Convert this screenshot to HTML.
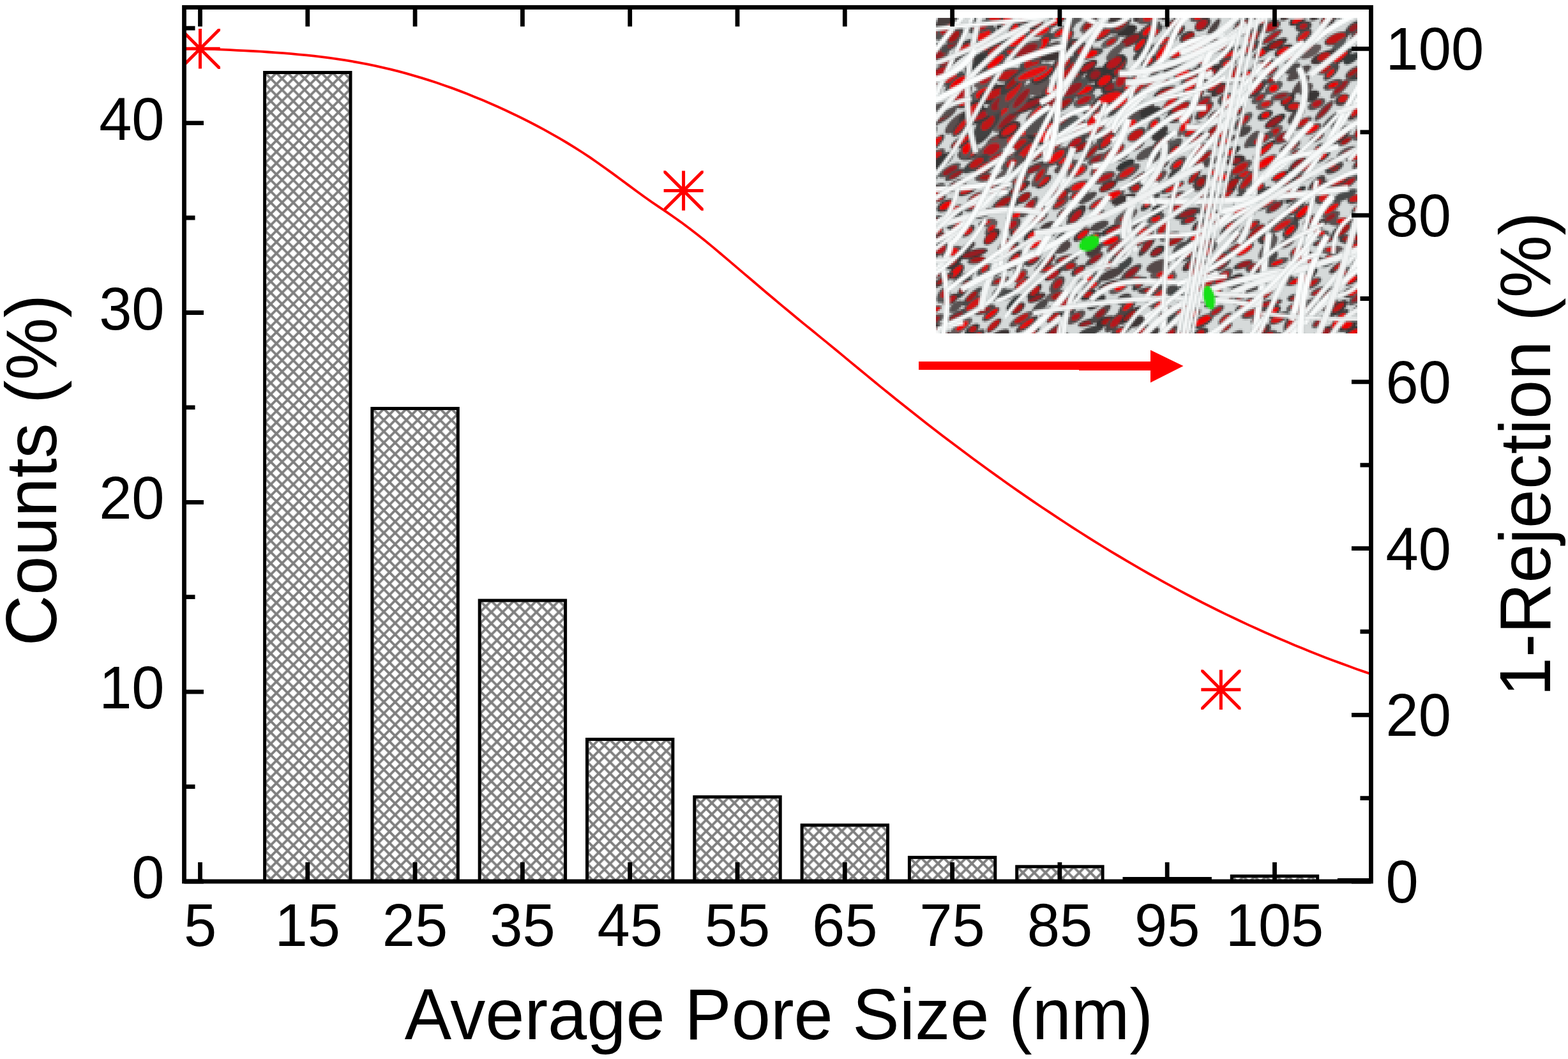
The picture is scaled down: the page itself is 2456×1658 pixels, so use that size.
<!DOCTYPE html>
<html><head><meta charset="utf-8"><title>Pore size distribution</title>
<style>html,body{margin:0;padding:0;background:#fff;overflow:hidden}svg{display:block}</style>
</head><body>
<svg width="2456" height="1658" viewBox="0 0 2456 1658">
<defs><pattern id="h15" patternUnits="userSpaceOnUse" x="415.27" y="114.17" width="17.65" height="17.65"><path d="M-8.825,8.825 L8.825,-8.825 M0,17.65 L17.65,0 M8.825,26.474999999999998 L26.474999999999998,8.825 M-8.825,8.825 L8.825,26.474999999999998 M0,0 L17.65,17.65 M8.825,-8.825 L26.474999999999998,8.825" stroke="#808080" stroke-width="3.9" fill="none"/></pattern><pattern id="h25" patternUnits="userSpaceOnUse" x="583.57" y="640.17" width="17.65" height="17.65"><path d="M-8.825,8.825 L8.825,-8.825 M0,17.65 L17.65,0 M8.825,26.474999999999998 L26.474999999999998,8.825 M-8.825,8.825 L8.825,26.474999999999998 M0,0 L17.65,17.65 M8.825,-8.825 L26.474999999999998,8.825" stroke="#808080" stroke-width="3.9" fill="none"/></pattern><pattern id="h35" patternUnits="userSpaceOnUse" x="751.87" y="940.77" width="17.65" height="17.65"><path d="M-8.825,8.825 L8.825,-8.825 M0,17.65 L17.65,0 M8.825,26.474999999999998 L26.474999999999998,8.825 M-8.825,8.825 L8.825,26.474999999999998 M0,0 L17.65,17.65 M8.825,-8.825 L26.474999999999998,8.825" stroke="#808080" stroke-width="3.9" fill="none"/></pattern><pattern id="h45" patternUnits="userSpaceOnUse" x="920.17" y="1158.17" width="17.65" height="17.65"><path d="M-8.825,8.825 L8.825,-8.825 M0,17.65 L17.65,0 M8.825,26.474999999999998 L26.474999999999998,8.825 M-8.825,8.825 L8.825,26.474999999999998 M0,0 L17.65,17.65 M8.825,-8.825 L26.474999999999998,8.825" stroke="#808080" stroke-width="3.9" fill="none"/></pattern><pattern id="h55" patternUnits="userSpaceOnUse" x="1088.47" y="1248.38" width="17.65" height="17.65"><path d="M-8.825,8.825 L8.825,-8.825 M0,17.65 L17.65,0 M8.825,26.474999999999998 L26.474999999999998,8.825 M-8.825,8.825 L8.825,26.474999999999998 M0,0 L17.65,17.65 M8.825,-8.825 L26.474999999999998,8.825" stroke="#808080" stroke-width="3.9" fill="none"/></pattern><pattern id="h65" patternUnits="userSpaceOnUse" x="1256.77" y="1292.58" width="17.65" height="17.65"><path d="M-8.825,8.825 L8.825,-8.825 M0,17.65 L17.65,0 M8.825,26.474999999999998 L26.474999999999998,8.825 M-8.825,8.825 L8.825,26.474999999999998 M0,0 L17.65,17.65 M8.825,-8.825 L26.474999999999998,8.825" stroke="#808080" stroke-width="3.9" fill="none"/></pattern><pattern id="h75" patternUnits="userSpaceOnUse" x="1425.07" y="1343.08" width="17.65" height="17.65"><path d="M-8.825,8.825 L8.825,-8.825 M0,17.65 L17.65,0 M8.825,26.474999999999998 L26.474999999999998,8.825 M-8.825,8.825 L8.825,26.474999999999998 M0,0 L17.65,17.65 M8.825,-8.825 L26.474999999999998,8.825" stroke="#808080" stroke-width="3.9" fill="none"/></pattern><pattern id="h85" patternUnits="userSpaceOnUse" x="1593.37" y="1357.47" width="17.65" height="17.65"><path d="M-8.825,8.825 L8.825,-8.825 M0,17.65 L17.65,0 M8.825,26.474999999999998 L26.474999999999998,8.825 M-8.825,8.825 L8.825,26.474999999999998 M0,0 L17.65,17.65 M8.825,-8.825 L26.474999999999998,8.825" stroke="#808080" stroke-width="3.9" fill="none"/></pattern><pattern id="h95" patternUnits="userSpaceOnUse" x="1761.67" y="1376.17" width="17.65" height="17.65"><path d="M-8.825,8.825 L8.825,-8.825 M0,17.65 L17.65,0 M8.825,26.474999999999998 L26.474999999999998,8.825 M-8.825,8.825 L8.825,26.474999999999998 M0,0 L17.65,17.65 M8.825,-8.825 L26.474999999999998,8.825" stroke="#808080" stroke-width="3.9" fill="none"/></pattern><pattern id="h105" patternUnits="userSpaceOnUse" x="1929.97" y="1372.38" width="17.65" height="17.65"><path d="M-8.825,8.825 L8.825,-8.825 M0,17.65 L17.65,0 M8.825,26.474999999999998 L26.474999999999998,8.825 M-8.825,8.825 L8.825,26.474999999999998 M0,0 L17.65,17.65 M8.825,-8.825 L26.474999999999998,8.825" stroke="#808080" stroke-width="3.9" fill="none"/></pattern></defs>
<rect width="2456" height="1658" fill="#fff"/>
<rect x="414.60" y="113.50" width="134.40" height="1266.50" fill="url(#h15)" stroke="#000" stroke-width="5.0"/>
<rect x="582.90" y="639.50" width="134.40" height="740.50" fill="url(#h25)" stroke="#000" stroke-width="5.0"/>
<rect x="751.20" y="940.10" width="134.40" height="439.90" fill="url(#h35)" stroke="#000" stroke-width="5.0"/>
<rect x="919.50" y="1157.50" width="134.40" height="222.50" fill="url(#h45)" stroke="#000" stroke-width="5.0"/>
<rect x="1087.80" y="1247.70" width="134.40" height="132.30" fill="url(#h55)" stroke="#000" stroke-width="5.0"/>
<rect x="1256.10" y="1291.90" width="134.40" height="88.10" fill="url(#h65)" stroke="#000" stroke-width="5.0"/>
<rect x="1424.40" y="1342.40" width="134.40" height="37.60" fill="url(#h75)" stroke="#000" stroke-width="5.0"/>
<rect x="1592.70" y="1356.80" width="134.40" height="23.20" fill="url(#h85)" stroke="#000" stroke-width="5.0"/>
<rect x="1761.00" y="1375.50" width="134.40" height="4.50" fill="url(#h95)" stroke="#000" stroke-width="5.0"/>
<rect x="1929.30" y="1371.70" width="134.40" height="8.30" fill="url(#h105)" stroke="#000" stroke-width="5.0"/>
<clipPath id="ic"><rect x="1466" y="28" width="660" height="494"/></clipPath>
<filter id="ib" filterUnits="userSpaceOnUse" x="1460" y="22" width="672" height="506"><feGaussianBlur in="SourceGraphic" stdDeviation="1.1" result="b"/><feFlood x="1467" y="29" width="1" height="1" flood-color="#000" result="dot"/><feComposite in="dot" in2="dot" operator="over" x="1466" y="28" width="3" height="3" result="cell"/><feTile in="cell" x="1460" y="22" width="672" height="506" result="grid"/><feComposite in="b" in2="grid" operator="in" result="samp"/><feMorphology in="samp" operator="dilate" radius="1"/></filter>
<defs><g id="insetArt">
<rect x="1466" y="28" width="660" height="494" fill="#d6dada"/>
<ellipse cx="2153.2" cy="521.4" rx="17.4" ry="8.7" transform="rotate(-23 2153.2 521.4)" fill="rgb(85,82,82)"/>
<ellipse cx="2152.2" cy="521.7" rx="9.4" ry="5.2" transform="rotate(-23 2153.2 521.4)" fill="#d41212"/>
<ellipse cx="1947.1" cy="414.4" rx="16.6" ry="5.8" transform="rotate(-22 1947.1 414.4)" fill="rgb(62,66,66)"/>
<ellipse cx="1948.7" cy="414.5" rx="11.2" ry="4.2" transform="rotate(-22 1947.1 414.4)" fill="#9a1a20"/>
<ellipse cx="1552.5" cy="356.6" rx="14.4" ry="5.8" transform="rotate(-51 1552.5 356.6)" fill="rgb(95,84,84)"/>
<ellipse cx="1552.3" cy="357.4" rx="6.8" ry="3.7" transform="rotate(-51 1552.5 356.6)" fill="#e80a0a"/>
<ellipse cx="1445.3" cy="275.2" rx="14.2" ry="8.6" transform="rotate(-34 1445.3 275.2)" fill="rgb(77,66,66)"/>
<ellipse cx="1443.7" cy="274.5" rx="9.3" ry="5.6" transform="rotate(-34 1445.3 275.2)" fill="#c01414"/>
<ellipse cx="1910.0" cy="346.1" rx="17.9" ry="6.7" transform="rotate(-30 1910.0 346.1)" fill="rgb(90,84,84)"/>
<ellipse cx="1910.3" cy="345.7" rx="9.8" ry="3.3" transform="rotate(-30 1910.0 346.1)" fill="#d41212"/>
<ellipse cx="1883.4" cy="302.0" rx="18.6" ry="6.0" transform="rotate(-50 1883.4 302.0)" fill="rgb(71,63,63)"/>
<ellipse cx="1884.9" cy="302.3" rx="12.6" ry="4.2" transform="rotate(-50 1883.4 302.0)" fill="#a81818"/>
<ellipse cx="1749.0" cy="385.4" rx="18.2" ry="7.5" transform="rotate(-31 1749.0 385.4)" fill="rgb(92,88,88)"/>
<ellipse cx="1749.9" cy="384.5" rx="13.7" ry="4.6" transform="rotate(-31 1749.0 385.4)" fill="#9a1a20"/>
<ellipse cx="2028.1" cy="440.3" rx="15.3" ry="5.5" transform="rotate(-20 2028.1 440.3)" fill="rgb(49,51,51)"/>
<ellipse cx="2029.5" cy="440.9" rx="11.1" ry="3.1" transform="rotate(-20 2028.1 440.3)" fill="#f00000"/>
<ellipse cx="1651.9" cy="517.6" rx="19.3" ry="6.8" transform="rotate(-34 1651.9 517.6)" fill="rgb(74,65,65)"/>
<ellipse cx="1653.6" cy="518.4" rx="13.1" ry="4.3" transform="rotate(-34 1651.9 517.6)" fill="#9a1a20"/>
<ellipse cx="1966.5" cy="418.9" rx="16.6" ry="8.4" transform="rotate(-12 1966.5 418.9)" fill="rgb(79,73,73)"/>
<ellipse cx="1965.4" cy="418.2" rx="10.1" ry="5.6" transform="rotate(-12 1966.5 418.9)" fill="#9a1a20"/>
<ellipse cx="1876.1" cy="77.7" rx="16.7" ry="6.5" transform="rotate(-37 1876.1 77.7)" fill="rgb(79,67,67)"/>
<ellipse cx="1875.4" cy="78.4" rx="8.7" ry="4.2" transform="rotate(-37 1876.1 77.7)" fill="#f00000"/>
<ellipse cx="1876.4" cy="26.4" rx="13.8" ry="7.2" transform="rotate(-19 1876.4 26.4)" fill="rgb(84,77,77)"/>
<ellipse cx="1876.4" cy="26.7" rx="6.4" ry="4.3" transform="rotate(-19 1876.4 26.4)" fill="#e80a0a"/>
<ellipse cx="1883.3" cy="503.0" rx="19.5" ry="8.4" transform="rotate(-29 1883.3 503.0)" fill="rgb(59,55,55)"/>
<ellipse cx="1884.5" cy="502.3" rx="14.7" ry="4.9" transform="rotate(-29 1883.3 503.0)" fill="#f00000"/>
<ellipse cx="2045.5" cy="139.4" rx="13.1" ry="7.4" transform="rotate(-38 2045.5 139.4)" fill="rgb(84,78,78)"/>
<ellipse cx="1878.5" cy="370.8" rx="22.0" ry="7.1" transform="rotate(-22 1878.5 370.8)" fill="rgb(65,69,69)"/>
<ellipse cx="1876.9" cy="369.9" rx="12.4" ry="4.2" transform="rotate(-22 1878.5 370.8)" fill="#f00000"/>
<ellipse cx="1498.9" cy="493.5" rx="23.0" ry="5.6" transform="rotate(-29 1498.9 493.5)" fill="rgb(69,71,71)"/>
<ellipse cx="1497.3" cy="494.0" rx="12.4" ry="2.7" transform="rotate(-29 1498.9 493.5)" fill="#9a1a20"/>
<ellipse cx="1522.4" cy="464.0" rx="21.3" ry="5.7" transform="rotate(-43 1522.4 464.0)" fill="rgb(71,74,74)"/>
<ellipse cx="1521.8" cy="463.9" rx="11.2" ry="4.1" transform="rotate(-43 1522.4 464.0)" fill="#a81818"/>
<ellipse cx="2122.9" cy="244.4" rx="17.1" ry="7.2" transform="rotate(-19 2122.9 244.4)" fill="rgb(82,72,72)"/>
<ellipse cx="2121.7" cy="245.2" rx="10.3" ry="4.4" transform="rotate(-19 2122.9 244.4)" fill="#d41212"/>
<ellipse cx="1715.0" cy="117.4" rx="18.7" ry="10.2" transform="rotate(-30 1715.0 117.4)" fill="rgb(65,56,56)"/>
<ellipse cx="1715.7" cy="117.3" rx="8.4" ry="5.9" transform="rotate(-30 1715.0 117.4)" fill="#9a1a20"/>
<ellipse cx="1572.9" cy="462.0" rx="21.3" ry="8.6" transform="rotate(-14 1572.9 462.0)" fill="rgb(71,72,72)"/>
<ellipse cx="1928.3" cy="164.8" rx="18.2" ry="8.4" transform="rotate(-17 1928.3 164.8)" fill="rgb(82,73,73)"/>
<ellipse cx="1927.8" cy="164.7" rx="8.4" ry="4.0" transform="rotate(-17 1928.3 164.8)" fill="#f00000"/>
<ellipse cx="2041.0" cy="332.0" rx="22.3" ry="7.1" transform="rotate(-43 2041.0 332.0)" fill="rgb(69,58,58)"/>
<ellipse cx="2041.1" cy="331.3" rx="12.5" ry="4.4" transform="rotate(-43 2041.0 332.0)" fill="#f00000"/>
<ellipse cx="1983.9" cy="373.3" rx="14.6" ry="8.8" transform="rotate(-20 1983.9 373.3)" fill="rgb(62,62,62)"/>
<ellipse cx="1984.7" cy="373.1" rx="7.1" ry="4.3" transform="rotate(-20 1983.9 373.3)" fill="#b8161c"/>
<ellipse cx="1619.0" cy="263.9" rx="22.8" ry="6.5" transform="rotate(-28 1619.0 263.9)" fill="rgb(74,68,68)"/>
<ellipse cx="1619.4" cy="264.8" rx="12.1" ry="3.6" transform="rotate(-28 1619.0 263.9)" fill="#9a1a20"/>
<ellipse cx="1529.8" cy="99.1" rx="25.5" ry="10.2" transform="rotate(-42 1529.8 99.1)" fill="rgb(54,55,55)"/>
<ellipse cx="2054.1" cy="491.9" rx="18.4" ry="5.9" transform="rotate(-34 2054.1 491.9)" fill="rgb(84,74,74)"/>
<ellipse cx="2056.1" cy="492.1" rx="10.8" ry="4.0" transform="rotate(-34 2054.1 491.9)" fill="#9a1a20"/>
<ellipse cx="1934.6" cy="114.7" rx="21.4" ry="6.3" transform="rotate(-59 1934.6 114.7)" fill="rgb(82,71,71)"/>
<ellipse cx="1936.2" cy="114.1" rx="14.2" ry="3.5" transform="rotate(-59 1934.6 114.7)" fill="#c01414"/>
<ellipse cx="2105.9" cy="306.2" rx="21.5" ry="6.8" transform="rotate(-25 2105.9 306.2)" fill="rgb(71,74,74)"/>
<ellipse cx="1919.7" cy="498.7" rx="14.2" ry="6.0" transform="rotate(-39 1919.7 498.7)" fill="rgb(76,79,79)"/>
<ellipse cx="1918.7" cy="499.3" rx="10.4" ry="4.1" transform="rotate(-39 1919.7 498.7)" fill="#c01414"/>
<ellipse cx="1947.3" cy="550.3" rx="14.1" ry="7.5" transform="rotate(-45 1947.3 550.3)" fill="rgb(69,62,62)"/>
<ellipse cx="1946.7" cy="549.8" rx="10.7" ry="4.3" transform="rotate(-45 1947.3 550.3)" fill="#b8161c"/>
<ellipse cx="1794.1" cy="171.2" rx="15.9" ry="8.9" transform="rotate(-35 1794.1 171.2)" fill="rgb(68,57,57)"/>
<ellipse cx="1580.8" cy="117.5" rx="23.1" ry="10.6" transform="rotate(-13 1580.8 117.5)" fill="rgb(80,70,70)"/>
<ellipse cx="1580.6" cy="117.3" rx="17.9" ry="6.7" transform="rotate(-13 1580.8 117.5)" fill="#c01414"/>
<ellipse cx="2118.8" cy="456.8" rx="17.4" ry="8.8" transform="rotate(-18 2118.8 456.8)" fill="rgb(72,64,64)"/>
<ellipse cx="2119.5" cy="457.8" rx="9.8" ry="4.7" transform="rotate(-18 2118.8 456.8)" fill="#e80a0a"/>
<ellipse cx="1903.9" cy="180.8" rx="15.4" ry="7.2" transform="rotate(-37 1903.9 180.8)" fill="rgb(56,57,57)"/>
<ellipse cx="1903.8" cy="180.2" rx="8.6" ry="4.3" transform="rotate(-37 1903.9 180.8)" fill="#a81818"/>
<ellipse cx="2024.8" cy="107.4" rx="14.1" ry="6.6" transform="rotate(-32 2024.8 107.4)" fill="rgb(79,75,75)"/>
<ellipse cx="2093.5" cy="60.4" rx="20.6" ry="8.9" transform="rotate(-23 2093.5 60.4)" fill="rgb(74,65,65)"/>
<ellipse cx="2092.6" cy="59.7" rx="16.0" ry="6.3" transform="rotate(-23 2093.5 60.4)" fill="#c01414"/>
<ellipse cx="2146.9" cy="129.3" rx="20.2" ry="8.7" transform="rotate(-49 2146.9 129.3)" fill="rgb(84,78,78)"/>
<ellipse cx="2145.5" cy="129.4" rx="13.9" ry="5.5" transform="rotate(-49 2146.9 129.3)" fill="#b8161c"/>
<ellipse cx="2087.7" cy="187.0" rx="20.6" ry="6.5" transform="rotate(-40 2087.7 187.0)" fill="rgb(86,85,85)"/>
<ellipse cx="1696.9" cy="142.1" rx="20.8" ry="9.9" transform="rotate(-16 1696.9 142.1)" fill="rgb(67,70,70)"/>
<ellipse cx="1695.2" cy="141.1" rx="16.1" ry="5.5" transform="rotate(-16 1696.9 142.1)" fill="#f00000"/>
<ellipse cx="1897.7" cy="114.3" rx="20.5" ry="6.6" transform="rotate(-44 1897.7 114.3)" fill="rgb(62,50,50)"/>
<ellipse cx="1895.9" cy="114.2" rx="11.1" ry="4.1" transform="rotate(-44 1897.7 114.3)" fill="#b8161c"/>
<ellipse cx="1671.2" cy="194.7" rx="21.8" ry="10.8" transform="rotate(-30 1671.2 194.7)" fill="rgb(80,84,84)"/>
<ellipse cx="1780.2" cy="292.6" rx="13.5" ry="8.6" transform="rotate(-20 1780.2 292.6)" fill="rgb(75,74,74)"/>
<ellipse cx="1778.3" cy="292.9" rx="6.4" ry="5.4" transform="rotate(-20 1780.2 292.6)" fill="#c01414"/>
<ellipse cx="1826.1" cy="65.0" rx="18.5" ry="6.6" transform="rotate(-21 1826.1 65.0)" fill="rgb(63,66,66)"/>
<ellipse cx="1826.7" cy="64.1" rx="14.0" ry="3.8" transform="rotate(-21 1826.1 65.0)" fill="#d41212"/>
<ellipse cx="1664.3" cy="373.5" rx="17.7" ry="8.7" transform="rotate(-38 1664.3 373.5)" fill="rgb(55,56,56)"/>
<ellipse cx="2020.6" cy="298.5" rx="19.6" ry="6.6" transform="rotate(-50 2020.6 298.5)" fill="rgb(54,53,53)"/>
<ellipse cx="2019.0" cy="297.8" rx="9.9" ry="3.0" transform="rotate(-50 2020.6 298.5)" fill="#a81818"/>
<ellipse cx="1740.8" cy="429.1" rx="22.3" ry="7.5" transform="rotate(-25 1740.8 429.1)" fill="rgb(76,67,67)"/>
<ellipse cx="1883.7" cy="38.4" rx="14.6" ry="8.9" transform="rotate(-35 1883.7 38.4)" fill="rgb(68,58,58)"/>
<ellipse cx="1882.3" cy="37.4" rx="10.2" ry="5.8" transform="rotate(-35 1883.7 38.4)" fill="#b8161c"/>
<ellipse cx="1719.0" cy="249.0" rx="17.3" ry="7.7" transform="rotate(-26 1719.0 249.0)" fill="rgb(87,81,81)"/>
<ellipse cx="1719.5" cy="248.6" rx="11.9" ry="4.1" transform="rotate(-26 1719.0 249.0)" fill="#9a1a20"/>
<ellipse cx="1687.6" cy="267.8" rx="18.3" ry="9.0" transform="rotate(-28 1687.6 267.8)" fill="rgb(93,81,81)"/>
<ellipse cx="1687.9" cy="268.2" rx="12.4" ry="5.5" transform="rotate(-28 1687.6 267.8)" fill="#e80a0a"/>
<ellipse cx="1474.1" cy="14.5" rx="18.9" ry="7.7" transform="rotate(-47 1474.1 14.5)" fill="rgb(57,60,60)"/>
<ellipse cx="1473.7" cy="14.8" rx="14.5" ry="4.9" transform="rotate(-47 1474.1 14.5)" fill="#f00000"/>
<ellipse cx="1515.9" cy="361.7" rx="13.6" ry="6.7" transform="rotate(-39 1515.9 361.7)" fill="rgb(73,66,66)"/>
<ellipse cx="1516.1" cy="362.3" rx="7.9" ry="3.9" transform="rotate(-39 1515.9 361.7)" fill="#d41212"/>
<ellipse cx="1582.8" cy="269.6" rx="25.3" ry="10.3" transform="rotate(-32 1582.8 269.6)" fill="rgb(95,87,87)"/>
<ellipse cx="1461.6" cy="78.1" rx="20.5" ry="7.4" transform="rotate(-31 1461.6 78.1)" fill="rgb(68,67,67)"/>
<ellipse cx="1890.7" cy="254.9" rx="20.5" ry="6.6" transform="rotate(-22 1890.7 254.9)" fill="rgb(75,68,68)"/>
<ellipse cx="1560.3" cy="221.0" rx="17.6" ry="9.1" transform="rotate(-28 1560.3 221.0)" fill="rgb(93,81,81)"/>
<ellipse cx="1558.5" cy="221.1" rx="10.4" ry="4.7" transform="rotate(-28 1560.3 221.0)" fill="#b8161c"/>
<ellipse cx="1921.4" cy="303.3" rx="20.2" ry="6.0" transform="rotate(-41 1921.4 303.3)" fill="rgb(59,55,55)"/>
<ellipse cx="1920.1" cy="304.0" rx="12.5" ry="4.0" transform="rotate(-41 1921.4 303.3)" fill="#c01414"/>
<ellipse cx="1664.8" cy="48.3" rx="22.9" ry="7.4" transform="rotate(-31 1664.8 48.3)" fill="rgb(81,83,83)"/>
<ellipse cx="1664.0" cy="48.6" rx="14.6" ry="3.7" transform="rotate(-31 1664.8 48.3)" fill="#f00000"/>
<ellipse cx="1548.8" cy="-0.1" rx="15.8" ry="7.7" transform="rotate(-36 1548.8 -0.1)" fill="rgb(74,77,77)"/>
<ellipse cx="1548.4" cy="0.8" rx="10.2" ry="5.3" transform="rotate(-36 1548.8 -0.1)" fill="#c01414"/>
<ellipse cx="1512.3" cy="76.3" rx="24.0" ry="11.2" transform="rotate(-34 1512.3 76.3)" fill="rgb(59,56,56)"/>
<ellipse cx="1511.4" cy="75.5" rx="11.6" ry="5.1" transform="rotate(-34 1512.3 76.3)" fill="#d41212"/>
<ellipse cx="1914.9" cy="210.9" rx="14.6" ry="7.4" transform="rotate(-31 1914.9 210.9)" fill="rgb(89,81,81)"/>
<ellipse cx="1915.7" cy="210.0" rx="9.2" ry="3.5" transform="rotate(-31 1914.9 210.9)" fill="#d41212"/>
<ellipse cx="2022.5" cy="519.0" rx="14.4" ry="8.2" transform="rotate(-24 2022.5 519.0)" fill="rgb(52,51,51)"/>
<ellipse cx="2021.2" cy="519.6" rx="6.5" ry="4.3" transform="rotate(-24 2022.5 519.0)" fill="#f00000"/>
<ellipse cx="1628.7" cy="480.5" rx="17.5" ry="7.0" transform="rotate(-43 1628.7 480.5)" fill="rgb(75,70,70)"/>
<ellipse cx="1996.6" cy="323.9" rx="16.7" ry="6.3" transform="rotate(-33 1996.6 323.9)" fill="rgb(76,69,69)"/>
<ellipse cx="1997.4" cy="324.0" rx="10.0" ry="4.4" transform="rotate(-33 1996.6 323.9)" fill="#9a1a20"/>
<ellipse cx="1914.3" cy="277.1" rx="21.4" ry="7.8" transform="rotate(-17 1914.3 277.1)" fill="rgb(79,79,79)"/>
<ellipse cx="1913.3" cy="277.3" rx="9.7" ry="4.7" transform="rotate(-17 1914.3 277.1)" fill="#f00000"/>
<ellipse cx="1882.7" cy="434.3" rx="22.7" ry="6.9" transform="rotate(-34 1882.7 434.3)" fill="rgb(86,74,74)"/>
<ellipse cx="1882.0" cy="433.4" rx="14.6" ry="4.2" transform="rotate(-34 1882.7 434.3)" fill="#d41212"/>
<ellipse cx="1685.6" cy="224.5" rx="22.8" ry="8.6" transform="rotate(-43 1685.6 224.5)" fill="rgb(71,68,68)"/>
<ellipse cx="1684.3" cy="223.6" rx="11.9" ry="5.4" transform="rotate(-43 1685.6 224.5)" fill="#b8161c"/>
<ellipse cx="1462.9" cy="365.7" rx="17.0" ry="7.1" transform="rotate(-32 1462.9 365.7)" fill="rgb(69,69,69)"/>
<ellipse cx="1464.8" cy="365.8" rx="12.9" ry="3.5" transform="rotate(-32 1462.9 365.7)" fill="#f00000"/>
<ellipse cx="1836.5" cy="293.5" rx="20.8" ry="5.9" transform="rotate(-25 1836.5 293.5)" fill="rgb(64,63,63)"/>
<ellipse cx="1838.4" cy="294.4" rx="14.7" ry="2.9" transform="rotate(-25 1836.5 293.5)" fill="#e80a0a"/>
<ellipse cx="1820.8" cy="428.9" rx="19.9" ry="8.9" transform="rotate(-11 1820.8 428.9)" fill="rgb(95,83,83)"/>
<ellipse cx="1822.2" cy="429.8" rx="11.0" ry="5.0" transform="rotate(-11 1820.8 428.9)" fill="#d41212"/>
<ellipse cx="2055.8" cy="202.2" rx="16.0" ry="7.1" transform="rotate(-29 2055.8 202.2)" fill="rgb(93,85,85)"/>
<ellipse cx="2054.5" cy="201.7" rx="12.2" ry="4.5" transform="rotate(-29 2055.8 202.2)" fill="#f00000"/>
<ellipse cx="1517.2" cy="239.7" rx="18.1" ry="11.0" transform="rotate(-17 1517.2 239.7)" fill="rgb(75,67,67)"/>
<ellipse cx="1517.3" cy="240.1" rx="9.8" ry="5.6" transform="rotate(-17 1517.2 239.7)" fill="#e80a0a"/>
<ellipse cx="1948.1" cy="273.0" rx="13.8" ry="7.4" transform="rotate(-9 1948.1 273.0)" fill="rgb(76,74,74)"/>
<ellipse cx="1949.0" cy="272.4" rx="8.7" ry="5.0" transform="rotate(-9 1948.1 273.0)" fill="#d41212"/>
<ellipse cx="1692.9" cy="230.5" rx="21.8" ry="6.6" transform="rotate(-25 1692.9 230.5)" fill="rgb(54,58,58)"/>
<ellipse cx="1694.5" cy="230.4" rx="17.1" ry="3.9" transform="rotate(-25 1692.9 230.5)" fill="#a81818"/>
<ellipse cx="1594.1" cy="361.8" rx="14.5" ry="8.3" transform="rotate(-28 1594.1 361.8)" fill="rgb(62,50,50)"/>
<ellipse cx="1594.9" cy="362.7" rx="10.0" ry="5.1" transform="rotate(-28 1594.1 361.8)" fill="#e80a0a"/>
<ellipse cx="1623.2" cy="176.4" rx="23.2" ry="7.9" transform="rotate(-45 1623.2 176.4)" fill="rgb(88,82,82)"/>
<ellipse cx="1624.9" cy="176.6" rx="18.3" ry="4.1" transform="rotate(-45 1623.2 176.4)" fill="#e80a0a"/>
<ellipse cx="1902.2" cy="542.8" rx="17.9" ry="6.8" transform="rotate(-35 1902.2 542.8)" fill="rgb(62,60,60)"/>
<ellipse cx="1901.3" cy="543.6" rx="8.8" ry="3.3" transform="rotate(-35 1902.2 542.8)" fill="#9a1a20"/>
<ellipse cx="1515.0" cy="159.2" rx="19.1" ry="8.2" transform="rotate(-25 1515.0 159.2)" fill="rgb(58,62,62)"/>
<ellipse cx="1513.8" cy="158.3" rx="14.9" ry="4.0" transform="rotate(-25 1515.0 159.2)" fill="#e80a0a"/>
<ellipse cx="1829.3" cy="4.0" rx="19.5" ry="6.9" transform="rotate(-11 1829.3 4.0)" fill="rgb(69,61,61)"/>
<ellipse cx="1827.5" cy="3.4" rx="15.2" ry="4.8" transform="rotate(-11 1829.3 4.0)" fill="#a81818"/>
<ellipse cx="1615.2" cy="368.6" rx="15.0" ry="7.7" transform="rotate(-41 1615.2 368.6)" fill="rgb(55,55,55)"/>
<ellipse cx="1616.4" cy="369.4" rx="8.3" ry="4.1" transform="rotate(-41 1615.2 368.6)" fill="#e80a0a"/>
<ellipse cx="1928.7" cy="288.8" rx="17.2" ry="7.4" transform="rotate(-42 1928.7 288.8)" fill="rgb(53,57,57)"/>
<ellipse cx="1928.4" cy="289.4" rx="13.5" ry="4.9" transform="rotate(-42 1928.7 288.8)" fill="#a81818"/>
<ellipse cx="1713.2" cy="339.9" rx="20.1" ry="5.5" transform="rotate(-30 1713.2 339.9)" fill="rgb(69,61,61)"/>
<ellipse cx="1714.1" cy="339.4" rx="12.5" ry="3.0" transform="rotate(-30 1713.2 339.9)" fill="#c01414"/>
<ellipse cx="1463.5" cy="87.3" rx="24.1" ry="9.8" transform="rotate(-16 1463.5 87.3)" fill="rgb(94,82,82)"/>
<ellipse cx="1461.8" cy="87.8" rx="18.8" ry="6.7" transform="rotate(-16 1463.5 87.3)" fill="#9a1a20"/>
<ellipse cx="1582.2" cy="390.6" rx="17.8" ry="5.6" transform="rotate(-37 1582.2 390.6)" fill="rgb(55,53,53)"/>
<ellipse cx="1582.5" cy="391.1" rx="10.7" ry="4.0" transform="rotate(-37 1582.2 390.6)" fill="#a81818"/>
<ellipse cx="1469.5" cy="310.2" rx="13.7" ry="6.7" transform="rotate(-19 1469.5 310.2)" fill="rgb(79,70,70)"/>
<ellipse cx="1470.2" cy="311.0" rx="7.4" ry="3.6" transform="rotate(-19 1469.5 310.2)" fill="#b8161c"/>
<ellipse cx="1498.1" cy="355.7" rx="19.0" ry="8.9" transform="rotate(-57 1498.1 355.7)" fill="rgb(80,77,77)"/>
<ellipse cx="1498.9" cy="356.3" rx="14.4" ry="5.5" transform="rotate(-57 1498.1 355.7)" fill="#f00000"/>
<ellipse cx="2000.5" cy="345.9" rx="15.8" ry="5.5" transform="rotate(-19 2000.5 345.9)" fill="rgb(65,59,59)"/>
<ellipse cx="1999.6" cy="344.9" rx="8.1" ry="3.8" transform="rotate(-19 2000.5 345.9)" fill="#a81818"/>
<ellipse cx="1678.7" cy="139.8" rx="30.3" ry="10.8" transform="rotate(-32 1678.7 139.8)" fill="rgb(78,82,82)"/>
<ellipse cx="1679.3" cy="140.5" rx="17.9" ry="6.6" transform="rotate(-32 1678.7 139.8)" fill="#9a1a20"/>
<ellipse cx="1736.3" cy="0.2" rx="20.9" ry="7.4" transform="rotate(-44 1736.3 0.2)" fill="rgb(84,84,84)"/>
<ellipse cx="1736.2" cy="0.4" rx="10.5" ry="4.4" transform="rotate(-44 1736.3 0.2)" fill="#b8161c"/>
<ellipse cx="1832.1" cy="370.3" rx="16.9" ry="6.1" transform="rotate(-20 1832.1 370.3)" fill="rgb(76,72,72)"/>
<ellipse cx="1832.9" cy="369.9" rx="8.0" ry="4.0" transform="rotate(-20 1832.1 370.3)" fill="#d41212"/>
<ellipse cx="1882.4" cy="6.5" rx="22.2" ry="8.0" transform="rotate(-27 1882.4 6.5)" fill="rgb(49,50,50)"/>
<ellipse cx="1881.9" cy="6.6" rx="11.2" ry="5.0" transform="rotate(-27 1882.4 6.5)" fill="#c01414"/>
<ellipse cx="1445.7" cy="533.0" rx="20.1" ry="6.5" transform="rotate(-40 1445.7 533.0)" fill="rgb(92,82,82)"/>
<ellipse cx="1568.0" cy="178.9" rx="26.2" ry="11.9" transform="rotate(-40 1568.0 178.9)" fill="rgb(52,54,54)"/>
<ellipse cx="1566.3" cy="179.4" rx="16.3" ry="6.5" transform="rotate(-40 1568.0 178.9)" fill="#d41212"/>
<ellipse cx="1503.4" cy="149.2" rx="24.1" ry="11.9" transform="rotate(-44 1503.4 149.2)" fill="rgb(89,80,80)"/>
<ellipse cx="1504.0" cy="148.2" rx="11.3" ry="7.9" transform="rotate(-44 1503.4 149.2)" fill="#b8161c"/>
<ellipse cx="1608.3" cy="507.3" rx="21.5" ry="6.0" transform="rotate(-36 1608.3 507.3)" fill="rgb(69,61,61)"/>
<ellipse cx="1608.4" cy="506.9" rx="13.2" ry="3.4" transform="rotate(-36 1608.3 507.3)" fill="#e80a0a"/>
<ellipse cx="1936.3" cy="26.5" rx="13.5" ry="8.3" transform="rotate(-67 1936.3 26.5)" fill="rgb(93,90,90)"/>
<ellipse cx="1934.7" cy="25.8" rx="6.8" ry="4.1" transform="rotate(-67 1936.3 26.5)" fill="#a81818"/>
<ellipse cx="1713.2" cy="391.9" rx="14.3" ry="8.7" transform="rotate(-35 1713.2 391.9)" fill="rgb(70,59,59)"/>
<ellipse cx="1593.4" cy="335.4" rx="20.2" ry="5.7" transform="rotate(-24 1593.4 335.4)" fill="rgb(84,82,82)"/>
<ellipse cx="1593.8" cy="336.4" rx="9.6" ry="3.6" transform="rotate(-24 1593.4 335.4)" fill="#f00000"/>
<ellipse cx="2084.2" cy="340.7" rx="17.0" ry="7.3" transform="rotate(-32 2084.2 340.7)" fill="rgb(88,80,80)"/>
<ellipse cx="2084.5" cy="340.2" rx="8.8" ry="3.7" transform="rotate(-32 2084.2 340.7)" fill="#9a1a20"/>
<ellipse cx="1459.6" cy="349.1" rx="21.1" ry="8.5" transform="rotate(-25 1459.6 349.1)" fill="rgb(51,54,54)"/>
<ellipse cx="1459.9" cy="348.9" rx="12.7" ry="4.9" transform="rotate(-25 1459.6 349.1)" fill="#9a1a20"/>
<ellipse cx="1756.2" cy="517.3" rx="16.8" ry="6.5" transform="rotate(-20 1756.2 517.3)" fill="rgb(70,72,72)"/>
<ellipse cx="1754.9" cy="517.1" rx="7.8" ry="3.2" transform="rotate(-20 1756.2 517.3)" fill="#d41212"/>
<ellipse cx="2095.5" cy="72.5" rx="19.1" ry="5.6" transform="rotate(-46 2095.5 72.5)" fill="rgb(85,86,86)"/>
<ellipse cx="1756.1" cy="396.4" rx="16.5" ry="7.8" transform="rotate(-25 1756.1 396.4)" fill="rgb(66,64,64)"/>
<ellipse cx="1756.3" cy="395.5" rx="10.6" ry="4.7" transform="rotate(-25 1756.1 396.4)" fill="#9a1a20"/>
<ellipse cx="1455.3" cy="10.1" rx="14.3" ry="7.9" transform="rotate(-34 1455.3 10.1)" fill="rgb(71,68,68)"/>
<ellipse cx="1460.6" cy="503.3" rx="21.1" ry="7.8" transform="rotate(-30 1460.6 503.3)" fill="rgb(84,79,79)"/>
<ellipse cx="1459.7" cy="502.6" rx="14.3" ry="5.0" transform="rotate(-30 1460.6 503.3)" fill="#9a1a20"/>
<ellipse cx="1522.8" cy="515.8" rx="13.7" ry="6.5" transform="rotate(-34 1522.8 515.8)" fill="rgb(51,55,55)"/>
<ellipse cx="1524.2" cy="516.0" rx="6.3" ry="4.3" transform="rotate(-34 1522.8 515.8)" fill="#c01414"/>
<ellipse cx="1703.6" cy="309.7" rx="16.7" ry="6.0" transform="rotate(-30 1703.6 309.7)" fill="rgb(76,70,70)"/>
<ellipse cx="1984.7" cy="525.2" rx="17.0" ry="7.2" transform="rotate(-21 1984.7 525.2)" fill="rgb(86,85,85)"/>
<ellipse cx="1983.3" cy="525.2" rx="11.7" ry="5.0" transform="rotate(-21 1984.7 525.2)" fill="#b8161c"/>
<ellipse cx="1617.4" cy="244.2" rx="23.0" ry="9.6" transform="rotate(-25 1617.4 244.2)" fill="rgb(82,78,78)"/>
<ellipse cx="1618.1" cy="244.7" rx="17.0" ry="5.3" transform="rotate(-25 1617.4 244.2)" fill="#c01414"/>
<ellipse cx="1709.5" cy="517.5" rx="20.3" ry="6.3" transform="rotate(-17 1709.5 517.5)" fill="rgb(64,65,65)"/>
<ellipse cx="1762.8" cy="258.4" rx="16.3" ry="6.7" transform="rotate(-28 1762.8 258.4)" fill="rgb(49,53,53)"/>
<ellipse cx="2028.2" cy="325.0" rx="20.5" ry="8.6" transform="rotate(-39 2028.2 325.0)" fill="rgb(69,66,66)"/>
<ellipse cx="2026.4" cy="325.3" rx="10.3" ry="4.2" transform="rotate(-39 2028.2 325.0)" fill="#f00000"/>
<ellipse cx="2028.8" cy="241.1" rx="13.5" ry="5.7" transform="rotate(-35 2028.8 241.1)" fill="rgb(57,57,57)"/>
<ellipse cx="2029.3" cy="240.8" rx="6.7" ry="3.3" transform="rotate(-35 2028.8 241.1)" fill="#a81818"/>
<ellipse cx="2129.7" cy="254.5" rx="14.8" ry="5.8" transform="rotate(-41 2129.7 254.5)" fill="rgb(83,72,72)"/>
<ellipse cx="2130.1" cy="254.6" rx="8.2" ry="3.3" transform="rotate(-41 2129.7 254.5)" fill="#a81818"/>
<ellipse cx="1615.1" cy="99.1" rx="21.6" ry="11.7" transform="rotate(-33 1615.1 99.1)" fill="rgb(73,76,76)"/>
<ellipse cx="1616.1" cy="99.0" rx="12.9" ry="8.2" transform="rotate(-33 1615.1 99.1)" fill="#c01414"/>
<ellipse cx="2074.7" cy="376.7" rx="20.2" ry="5.8" transform="rotate(-21 2074.7 376.7)" fill="rgb(68,69,69)"/>
<ellipse cx="2074.1" cy="377.4" rx="14.3" ry="3.0" transform="rotate(-21 2074.7 376.7)" fill="#9a1a20"/>
<ellipse cx="1456.9" cy="278.8" rx="14.8" ry="8.5" transform="rotate(-37 1456.9 278.8)" fill="rgb(58,62,62)"/>
<ellipse cx="1529.8" cy="407.5" rx="15.1" ry="6.0" transform="rotate(-12 1529.8 407.5)" fill="rgb(82,81,81)"/>
<ellipse cx="1531.6" cy="406.8" rx="11.7" ry="3.8" transform="rotate(-12 1529.8 407.5)" fill="#a81818"/>
<ellipse cx="1529.7" cy="526.7" rx="16.5" ry="6.8" transform="rotate(-41 1529.7 526.7)" fill="rgb(77,73,73)"/>
<ellipse cx="1528.2" cy="526.9" rx="10.2" ry="3.4" transform="rotate(-41 1529.7 526.7)" fill="#f00000"/>
<ellipse cx="2100.0" cy="137.9" rx="22.6" ry="6.5" transform="rotate(-45 2100.0 137.9)" fill="rgb(97,87,87)"/>
<ellipse cx="2101.0" cy="137.0" rx="14.6" ry="4.4" transform="rotate(-45 2100.0 137.9)" fill="#9a1a20"/>
<ellipse cx="1788.2" cy="21.4" rx="17.5" ry="7.2" transform="rotate(-46 1788.2 21.4)" fill="rgb(63,57,57)"/>
<ellipse cx="1789.5" cy="21.7" rx="9.2" ry="5.2" transform="rotate(-46 1788.2 21.4)" fill="#e80a0a"/>
<ellipse cx="1752.3" cy="245.1" rx="16.7" ry="7.9" transform="rotate(-17 1752.3 245.1)" fill="rgb(86,85,85)"/>
<ellipse cx="1710.2" cy="47.1" rx="16.5" ry="6.0" transform="rotate(-28 1710.2 47.1)" fill="rgb(80,71,71)"/>
<ellipse cx="1709.5" cy="47.6" rx="12.3" ry="2.8" transform="rotate(-28 1710.2 47.1)" fill="#9a1a20"/>
<ellipse cx="2033.5" cy="547.9" rx="22.9" ry="5.7" transform="rotate(-33 2033.5 547.9)" fill="rgb(77,67,67)"/>
<ellipse cx="2033.3" cy="547.4" rx="15.0" ry="3.4" transform="rotate(-33 2033.5 547.9)" fill="#c01414"/>
<ellipse cx="1773.3" cy="357.2" rx="20.6" ry="6.9" transform="rotate(-28 1773.3 357.2)" fill="rgb(80,72,72)"/>
<ellipse cx="1791.3" cy="371.7" rx="21.7" ry="8.2" transform="rotate(-41 1791.3 371.7)" fill="rgb(88,87,87)"/>
<ellipse cx="1790.1" cy="371.7" rx="16.9" ry="4.9" transform="rotate(-41 1791.3 371.7)" fill="#c01414"/>
<ellipse cx="1711.3" cy="235.9" rx="22.3" ry="6.4" transform="rotate(-46 1711.3 235.9)" fill="rgb(86,83,83)"/>
<ellipse cx="1710.2" cy="236.5" rx="13.0" ry="3.1" transform="rotate(-46 1711.3 235.9)" fill="#a81818"/>
<ellipse cx="1933.4" cy="389.8" rx="21.1" ry="6.1" transform="rotate(-34 1933.4 389.8)" fill="rgb(100,88,88)"/>
<ellipse cx="1934.5" cy="389.5" rx="15.0" ry="2.8" transform="rotate(-34 1933.4 389.8)" fill="#a81818"/>
<ellipse cx="1935.9" cy="251.1" rx="15.6" ry="8.0" transform="rotate(-15 1935.9 251.1)" fill="rgb(62,50,50)"/>
<ellipse cx="1935.5" cy="251.4" rx="7.6" ry="4.0" transform="rotate(-15 1935.9 251.1)" fill="#9a1a20"/>
<ellipse cx="1835.3" cy="496.6" rx="21.7" ry="6.1" transform="rotate(-43 1835.3 496.6)" fill="rgb(67,71,71)"/>
<ellipse cx="1942.6" cy="464.7" rx="16.3" ry="7.4" transform="rotate(-52 1942.6 464.7)" fill="rgb(87,84,84)"/>
<ellipse cx="1942.7" cy="465.5" rx="12.5" ry="3.3" transform="rotate(-52 1942.6 464.7)" fill="#9a1a20"/>
<ellipse cx="1971.9" cy="494.7" rx="16.7" ry="6.2" transform="rotate(-44 1971.9 494.7)" fill="rgb(67,59,59)"/>
<ellipse cx="1971.1" cy="494.8" rx="12.1" ry="3.3" transform="rotate(-44 1971.9 494.7)" fill="#d41212"/>
<ellipse cx="2083.7" cy="459.7" rx="20.2" ry="8.2" transform="rotate(-31 2083.7 459.7)" fill="rgb(92,89,89)"/>
<ellipse cx="2084.5" cy="460.5" rx="14.8" ry="5.3" transform="rotate(-31 2083.7 459.7)" fill="#a81818"/>
<ellipse cx="1844.8" cy="48.6" rx="13.3" ry="7.3" transform="rotate(-37 1844.8 48.6)" fill="rgb(50,53,53)"/>
<ellipse cx="1844.7" cy="47.7" rx="9.7" ry="4.6" transform="rotate(-37 1844.8 48.6)" fill="#a81818"/>
<ellipse cx="1953.9" cy="283.6" rx="22.6" ry="7.8" transform="rotate(-50 1953.9 283.6)" fill="rgb(81,77,77)"/>
<ellipse cx="1954.1" cy="283.2" rx="15.7" ry="4.3" transform="rotate(-50 1953.9 283.6)" fill="#c01414"/>
<ellipse cx="2040.0" cy="193.3" rx="17.7" ry="7.0" transform="rotate(-32 2040.0 193.3)" fill="rgb(92,85,85)"/>
<ellipse cx="2041.8" cy="192.4" rx="9.9" ry="4.3" transform="rotate(-32 2040.0 193.3)" fill="#c01414"/>
<ellipse cx="1491.9" cy="332.1" rx="18.1" ry="6.3" transform="rotate(-38 1491.9 332.1)" fill="rgb(80,82,82)"/>
<ellipse cx="1493.8" cy="331.9" rx="13.1" ry="4.1" transform="rotate(-38 1491.9 332.1)" fill="#f00000"/>
<ellipse cx="1588.7" cy="473.5" rx="17.3" ry="6.1" transform="rotate(-46 1588.7 473.5)" fill="rgb(50,54,54)"/>
<ellipse cx="1515.0" cy="230.5" rx="20.2" ry="10.5" transform="rotate(-71 1515.0 230.5)" fill="rgb(90,85,85)"/>
<ellipse cx="1513.0" cy="229.8" rx="9.8" ry="5.8" transform="rotate(-71 1515.0 230.5)" fill="#f00000"/>
<ellipse cx="1628.7" cy="134.8" rx="19.2" ry="11.2" transform="rotate(-40 1628.7 134.8)" fill="rgb(94,87,87)"/>
<ellipse cx="2035.2" cy="403.8" rx="22.5" ry="5.8" transform="rotate(-25 2035.2 403.8)" fill="rgb(76,65,65)"/>
<ellipse cx="2034.9" cy="403.8" rx="15.5" ry="3.0" transform="rotate(-25 2035.2 403.8)" fill="#c01414"/>
<ellipse cx="2010.2" cy="214.8" rx="17.8" ry="8.5" transform="rotate(-30 2010.2 214.8)" fill="rgb(87,81,81)"/>
<ellipse cx="2010.6" cy="214.5" rx="12.5" ry="5.6" transform="rotate(-30 2010.2 214.8)" fill="#9a1a20"/>
<ellipse cx="1820.6" cy="81.1" rx="21.4" ry="8.0" transform="rotate(-52 1820.6 81.1)" fill="rgb(82,76,76)"/>
<ellipse cx="1820.7" cy="81.7" rx="16.9" ry="5.5" transform="rotate(-52 1820.6 81.1)" fill="#f00000"/>
<ellipse cx="2037.4" cy="133.1" rx="19.7" ry="6.5" transform="rotate(-48 2037.4 133.1)" fill="rgb(82,72,72)"/>
<ellipse cx="2098.0" cy="4.0" rx="16.1" ry="7.3" transform="rotate(-37 2098.0 4.0)" fill="rgb(74,72,72)"/>
<ellipse cx="1731.9" cy="502.9" rx="16.5" ry="7.4" transform="rotate(-21 1731.9 502.9)" fill="rgb(57,53,53)"/>
<ellipse cx="1733.4" cy="503.7" rx="8.6" ry="4.4" transform="rotate(-21 1731.9 502.9)" fill="#a81818"/>
<ellipse cx="1847.3" cy="170.8" rx="21.2" ry="8.5" transform="rotate(-30 1847.3 170.8)" fill="rgb(63,53,53)"/>
<ellipse cx="1849.2" cy="170.2" rx="14.9" ry="5.1" transform="rotate(-30 1847.3 170.8)" fill="#c01414"/>
<ellipse cx="2068.0" cy="298.7" rx="20.7" ry="8.7" transform="rotate(-51 2068.0 298.7)" fill="rgb(79,67,67)"/>
<ellipse cx="2067.0" cy="298.4" rx="9.5" ry="5.1" transform="rotate(-51 2068.0 298.7)" fill="#f00000"/>
<ellipse cx="2052.2" cy="0.0" rx="22.0" ry="6.4" transform="rotate(-39 2052.2 0.0)" fill="rgb(73,66,66)"/>
<ellipse cx="2050.9" cy="-0.2" rx="12.2" ry="4.3" transform="rotate(-39 2052.2 0.0)" fill="#9a1a20"/>
<ellipse cx="1752.9" cy="105.7" rx="20.5" ry="8.5" transform="rotate(-57 1752.9 105.7)" fill="rgb(71,69,69)"/>
<ellipse cx="1754.0" cy="105.9" rx="15.0" ry="3.9" transform="rotate(-57 1752.9 105.7)" fill="#b8161c"/>
<ellipse cx="1670.7" cy="406.0" rx="19.2" ry="7.1" transform="rotate(-13 1670.7 406.0)" fill="rgb(78,70,70)"/>
<ellipse cx="1669.1" cy="405.5" rx="11.8" ry="3.4" transform="rotate(-13 1670.7 406.0)" fill="#c01414"/>
<ellipse cx="2032.2" cy="394.0" rx="14.2" ry="7.9" transform="rotate(-33 2032.2 394.0)" fill="rgb(99,89,89)"/>
<ellipse cx="2032.4" cy="393.0" rx="8.7" ry="5.5" transform="rotate(-33 2032.2 394.0)" fill="#c01414"/>
<ellipse cx="2011.5" cy="79.7" rx="16.8" ry="8.8" transform="rotate(-27 2011.5 79.7)" fill="rgb(64,56,56)"/>
<ellipse cx="2010.1" cy="79.1" rx="10.8" ry="4.3" transform="rotate(-27 2011.5 79.7)" fill="#e80a0a"/>
<ellipse cx="1807.0" cy="194.8" rx="14.6" ry="7.4" transform="rotate(-52 1807.0 194.8)" fill="rgb(84,85,85)"/>
<ellipse cx="1807.9" cy="195.1" rx="7.1" ry="4.1" transform="rotate(-52 1807.0 194.8)" fill="#f00000"/>
<ellipse cx="2054.4" cy="150.5" rx="13.8" ry="8.0" transform="rotate(-26 2054.4 150.5)" fill="rgb(57,52,52)"/>
<ellipse cx="1457.6" cy="58.6" rx="23.4" ry="8.3" transform="rotate(-35 1457.6 58.6)" fill="rgb(73,72,72)"/>
<ellipse cx="1457.3" cy="58.6" rx="16.2" ry="5.2" transform="rotate(-35 1457.6 58.6)" fill="#b8161c"/>
<ellipse cx="1442.7" cy="34.6" rx="14.2" ry="5.8" transform="rotate(-25 1442.7 34.6)" fill="rgb(49,51,51)"/>
<ellipse cx="1443.8" cy="34.5" rx="8.0" ry="3.8" transform="rotate(-25 1442.7 34.6)" fill="#a81818"/>
<ellipse cx="1702.9" cy="85.0" rx="26.3" ry="8.3" transform="rotate(-15 1702.9 85.0)" fill="rgb(74,74,74)"/>
<ellipse cx="1703.2" cy="85.6" rx="16.1" ry="5.5" transform="rotate(-15 1702.9 85.0)" fill="#f00000"/>
<ellipse cx="1703.8" cy="505.0" rx="16.1" ry="5.6" transform="rotate(-17 1703.8 505.0)" fill="rgb(65,59,59)"/>
<ellipse cx="1702.5" cy="505.9" rx="11.8" ry="3.2" transform="rotate(-17 1703.8 505.0)" fill="#9a1a20"/>
<ellipse cx="1444.7" cy="324.8" rx="13.5" ry="8.3" transform="rotate(-15 1444.7 324.8)" fill="rgb(84,77,77)"/>
<ellipse cx="1445.3" cy="325.5" rx="8.2" ry="5.7" transform="rotate(-15 1444.7 324.8)" fill="#f00000"/>
<ellipse cx="2056.9" cy="443.5" rx="14.9" ry="6.6" transform="rotate(-33 2056.9 443.5)" fill="rgb(79,77,77)"/>
<ellipse cx="2056.9" cy="442.5" rx="10.0" ry="3.3" transform="rotate(-33 2056.9 443.5)" fill="#c01414"/>
<ellipse cx="2081.2" cy="30.2" rx="16.5" ry="8.4" transform="rotate(-38 2081.2 30.2)" fill="rgb(54,50,50)"/>
<ellipse cx="2079.3" cy="29.3" rx="13.2" ry="5.2" transform="rotate(-38 2081.2 30.2)" fill="#a81818"/>
<ellipse cx="1554.2" cy="427.7" rx="18.5" ry="8.3" transform="rotate(-26 1554.2 427.7)" fill="rgb(74,68,68)"/>
<ellipse cx="1478.0" cy="460.7" rx="15.8" ry="8.5" transform="rotate(-57 1478.0 460.7)" fill="rgb(87,87,87)"/>
<ellipse cx="1479.7" cy="460.6" rx="8.3" ry="4.9" transform="rotate(-57 1478.0 460.7)" fill="#b8161c"/>
<ellipse cx="2108.5" cy="219.9" rx="14.3" ry="5.8" transform="rotate(-33 2108.5 219.9)" fill="rgb(91,87,87)"/>
<ellipse cx="2107.8" cy="220.5" rx="9.3" ry="3.5" transform="rotate(-33 2108.5 219.9)" fill="#a81818"/>
<ellipse cx="1900.3" cy="44.9" rx="18.8" ry="5.6" transform="rotate(-56 1900.3 44.9)" fill="rgb(75,67,67)"/>
<ellipse cx="1982.7" cy="459.4" rx="16.3" ry="7.1" transform="rotate(-40 1982.7 459.4)" fill="rgb(55,52,52)"/>
<ellipse cx="1984.7" cy="459.9" rx="11.8" ry="4.9" transform="rotate(-40 1982.7 459.4)" fill="#c01414"/>
<ellipse cx="1568.5" cy="533.3" rx="17.1" ry="6.1" transform="rotate(-26 1568.5 533.3)" fill="rgb(94,89,89)"/>
<ellipse cx="1567.1" cy="533.6" rx="8.9" ry="4.1" transform="rotate(-26 1568.5 533.3)" fill="#f00000"/>
<ellipse cx="1890.5" cy="444.2" rx="21.1" ry="7.7" transform="rotate(-35 1890.5 444.2)" fill="rgb(84,80,80)"/>
<ellipse cx="1888.6" cy="444.8" rx="16.6" ry="3.7" transform="rotate(-35 1890.5 444.2)" fill="#b8161c"/>
<ellipse cx="1498.1" cy="425.2" rx="15.6" ry="8.9" transform="rotate(-46 1498.1 425.2)" fill="rgb(58,56,56)"/>
<ellipse cx="1497.6" cy="424.8" rx="12.5" ry="4.6" transform="rotate(-46 1498.1 425.2)" fill="#e80a0a"/>
<ellipse cx="1487.2" cy="121.7" rx="22.8" ry="11.3" transform="rotate(-23 1487.2 121.7)" fill="rgb(70,73,73)"/>
<ellipse cx="1486.6" cy="122.3" rx="12.9" ry="6.1" transform="rotate(-23 1487.2 121.7)" fill="#d41212"/>
<ellipse cx="1691.5" cy="302.8" rx="18.1" ry="7.7" transform="rotate(-30 1691.5 302.8)" fill="rgb(73,66,66)"/>
<ellipse cx="1690.4" cy="303.5" rx="13.7" ry="4.1" transform="rotate(-30 1691.5 302.8)" fill="#f00000"/>
<ellipse cx="1917.4" cy="513.6" rx="15.0" ry="5.9" transform="rotate(-30 1917.4 513.6)" fill="rgb(83,76,76)"/>
<ellipse cx="1918.9" cy="514.0" rx="9.4" ry="4.1" transform="rotate(-30 1917.4 513.6)" fill="#a81818"/>
<ellipse cx="1661.3" cy="189.3" rx="24.0" ry="7.3" transform="rotate(-29 1661.3 189.3)" fill="rgb(75,73,73)"/>
<ellipse cx="1659.4" cy="188.9" rx="14.8" ry="4.9" transform="rotate(-29 1661.3 189.3)" fill="#9a1a20"/>
<ellipse cx="1989.3" cy="402.7" rx="14.4" ry="8.9" transform="rotate(-36 1989.3 402.7)" fill="rgb(73,70,70)"/>
<ellipse cx="1528.7" cy="29.7" rx="20.2" ry="6.3" transform="rotate(-49 1528.7 29.7)" fill="rgb(75,77,77)"/>
<ellipse cx="1977.2" cy="81.4" rx="17.9" ry="6.4" transform="rotate(-34 1977.2 81.4)" fill="rgb(53,52,52)"/>
<ellipse cx="1976.0" cy="81.6" rx="12.4" ry="3.9" transform="rotate(-34 1977.2 81.4)" fill="#f00000"/>
<ellipse cx="1464.7" cy="225.3" rx="20.3" ry="6.8" transform="rotate(-45 1464.7 225.3)" fill="rgb(64,67,67)"/>
<ellipse cx="1464.5" cy="224.4" rx="15.7" ry="4.2" transform="rotate(-45 1464.7 225.3)" fill="#e80a0a"/>
<ellipse cx="1543.8" cy="72.0" rx="20.0" ry="11.4" transform="rotate(-11 1543.8 72.0)" fill="rgb(80,76,76)"/>
<ellipse cx="1542.7" cy="72.3" rx="11.2" ry="6.4" transform="rotate(-11 1543.8 72.0)" fill="#f00000"/>
<ellipse cx="1684.1" cy="70.8" rx="15.8" ry="10.4" transform="rotate(-17 1684.1 70.8)" fill="rgb(54,58,58)"/>
<ellipse cx="1683.6" cy="70.2" rx="9.3" ry="4.8" transform="rotate(-17 1684.1 70.8)" fill="#d41212"/>
<ellipse cx="1494.0" cy="66.6" rx="24.4" ry="7.1" transform="rotate(-40 1494.0 66.6)" fill="rgb(76,74,74)"/>
<ellipse cx="1493.0" cy="66.7" rx="11.1" ry="3.8" transform="rotate(-40 1494.0 66.6)" fill="#9a1a20"/>
<ellipse cx="1872.9" cy="-1.4" rx="17.1" ry="5.6" transform="rotate(-21 1872.9 -1.4)" fill="rgb(62,52,52)"/>
<ellipse cx="1873.6" cy="-0.4" rx="11.2" ry="3.3" transform="rotate(-21 1872.9 -1.4)" fill="#a81818"/>
<ellipse cx="1540.0" cy="211.8" rx="22.0" ry="7.6" transform="rotate(-44 1540.0 211.8)" fill="rgb(63,62,62)"/>
<ellipse cx="2031.9" cy="257.0" rx="17.6" ry="6.4" transform="rotate(-39 2031.9 257.0)" fill="rgb(65,55,55)"/>
<ellipse cx="2033.5" cy="256.3" rx="12.5" ry="3.2" transform="rotate(-39 2031.9 257.0)" fill="#9a1a20"/>
<ellipse cx="1868.4" cy="203.2" rx="17.5" ry="7.3" transform="rotate(-36 1868.4 203.2)" fill="rgb(70,67,67)"/>
<ellipse cx="1867.6" cy="203.4" rx="13.7" ry="3.6" transform="rotate(-36 1868.4 203.2)" fill="#e80a0a"/>
<ellipse cx="1799.3" cy="47.3" rx="21.8" ry="8.7" transform="rotate(-35 1799.3 47.3)" fill="rgb(77,67,67)"/>
<ellipse cx="1800.6" cy="48.2" rx="12.8" ry="5.1" transform="rotate(-35 1799.3 47.3)" fill="#f00000"/>
<ellipse cx="2120.0" cy="112.7" rx="15.4" ry="6.6" transform="rotate(-35 2120.0 112.7)" fill="rgb(84,72,72)"/>
<ellipse cx="2119.5" cy="112.8" rx="10.1" ry="3.5" transform="rotate(-35 2120.0 112.7)" fill="#a81818"/>
<ellipse cx="1792.2" cy="361.5" rx="15.3" ry="6.8" transform="rotate(-27 1792.2 361.5)" fill="rgb(94,85,85)"/>
<ellipse cx="1790.3" cy="361.8" rx="9.2" ry="4.4" transform="rotate(-27 1792.2 361.5)" fill="#d41212"/>
<ellipse cx="1565.3" cy="439.8" rx="16.1" ry="6.3" transform="rotate(-19 1565.3 439.8)" fill="rgb(82,76,76)"/>
<ellipse cx="1566.3" cy="439.8" rx="10.5" ry="2.9" transform="rotate(-19 1565.3 439.8)" fill="#c01414"/>
<ellipse cx="1810.5" cy="341.9" rx="15.2" ry="7.4" transform="rotate(-27 1810.5 341.9)" fill="rgb(82,82,82)"/>
<ellipse cx="1810.0" cy="342.4" rx="7.6" ry="4.0" transform="rotate(-27 1810.5 341.9)" fill="#e80a0a"/>
<ellipse cx="1927.6" cy="356.3" rx="21.0" ry="8.2" transform="rotate(-39 1927.6 356.3)" fill="rgb(67,62,62)"/>
<ellipse cx="1928.5" cy="355.9" rx="9.7" ry="5.0" transform="rotate(-39 1927.6 356.3)" fill="#f00000"/>
<ellipse cx="1736.3" cy="208.4" rx="23.1" ry="8.5" transform="rotate(-36 1736.3 208.4)" fill="rgb(75,72,72)"/>
<ellipse cx="1737.5" cy="208.8" rx="12.3" ry="6.0" transform="rotate(-36 1736.3 208.4)" fill="#b8161c"/>
<ellipse cx="2062.3" cy="288.7" rx="18.6" ry="8.4" transform="rotate(-47 2062.3 288.7)" fill="rgb(73,66,66)"/>
<ellipse cx="2062.2" cy="288.9" rx="10.2" ry="4.3" transform="rotate(-47 2062.3 288.7)" fill="#b8161c"/>
<ellipse cx="1973.3" cy="20.5" rx="18.9" ry="5.8" transform="rotate(-28 1973.3 20.5)" fill="rgb(75,66,66)"/>
<ellipse cx="1974.9" cy="20.6" rx="15.0" ry="3.8" transform="rotate(-28 1973.3 20.5)" fill="#f00000"/>
<ellipse cx="1742.6" cy="239.1" rx="23.0" ry="8.4" transform="rotate(-34 1742.6 239.1)" fill="rgb(88,81,81)"/>
<ellipse cx="1744.1" cy="239.6" rx="18.2" ry="5.5" transform="rotate(-34 1742.6 239.1)" fill="#c01414"/>
<ellipse cx="1642.7" cy="420.6" rx="22.9" ry="7.7" transform="rotate(-4 1642.7 420.6)" fill="rgb(100,89,89)"/>
<ellipse cx="1642.3" cy="420.3" rx="14.7" ry="3.7" transform="rotate(-4 1642.7 420.6)" fill="#d41212"/>
<ellipse cx="2062.2" cy="163.1" rx="15.4" ry="7.5" transform="rotate(-28 2062.2 163.1)" fill="rgb(85,81,81)"/>
<ellipse cx="2063.1" cy="162.5" rx="8.4" ry="4.8" transform="rotate(-28 2062.2 163.1)" fill="#b8161c"/>
<ellipse cx="1493.4" cy="533.7" rx="18.7" ry="7.6" transform="rotate(-29 1493.4 533.7)" fill="rgb(67,61,61)"/>
<ellipse cx="2120.1" cy="43.2" rx="16.1" ry="7.6" transform="rotate(-38 2120.1 43.2)" fill="rgb(69,68,68)"/>
<ellipse cx="2119.9" cy="43.6" rx="8.1" ry="4.6" transform="rotate(-38 2120.1 43.2)" fill="#9a1a20"/>
<ellipse cx="1591.8" cy="78.3" rx="29.2" ry="8.2" transform="rotate(-14 1591.8 78.3)" fill="rgb(72,72,72)"/>
<ellipse cx="1590.7" cy="78.5" rx="21.1" ry="4.0" transform="rotate(-14 1591.8 78.3)" fill="#d41212"/>
<ellipse cx="1454.5" cy="144.1" rx="23.7" ry="11.3" transform="rotate(-27 1454.5 144.1)" fill="rgb(81,75,75)"/>
<ellipse cx="1455.7" cy="144.1" rx="12.4" ry="5.4" transform="rotate(-27 1454.5 144.1)" fill="#d41212"/>
<ellipse cx="1868.7" cy="133.3" rx="21.6" ry="7.5" transform="rotate(-44 1868.7 133.3)" fill="rgb(62,50,50)"/>
<ellipse cx="1869.1" cy="132.4" rx="16.8" ry="3.9" transform="rotate(-44 1868.7 133.3)" fill="#e80a0a"/>
<ellipse cx="1802.0" cy="523.0" rx="16.6" ry="7.2" transform="rotate(-34 1802.0 523.0)" fill="rgb(65,58,58)"/>
<ellipse cx="1596.4" cy="294.8" rx="20.2" ry="7.1" transform="rotate(-32 1596.4 294.8)" fill="rgb(63,53,53)"/>
<ellipse cx="1595.6" cy="294.5" rx="13.1" ry="4.5" transform="rotate(-32 1596.4 294.8)" fill="#c01414"/>
<ellipse cx="1806.8" cy="129.3" rx="18.6" ry="5.9" transform="rotate(-36 1806.8 129.3)" fill="rgb(50,51,51)"/>
<ellipse cx="1805.9" cy="128.5" rx="14.4" ry="3.2" transform="rotate(-36 1806.8 129.3)" fill="#c01414"/>
<ellipse cx="1931.6" cy="529.0" rx="18.5" ry="7.2" transform="rotate(-37 1931.6 529.0)" fill="rgb(88,85,85)"/>
<ellipse cx="1930.7" cy="529.8" rx="9.1" ry="3.8" transform="rotate(-37 1931.6 529.0)" fill="#e80a0a"/>
<ellipse cx="1705.5" cy="39.0" rx="17.1" ry="7.5" transform="rotate(-39 1705.5 39.0)" fill="rgb(94,83,83)"/>
<ellipse cx="1705.6" cy="39.4" rx="11.1" ry="4.5" transform="rotate(-39 1705.5 39.0)" fill="#a81818"/>
<ellipse cx="1919.5" cy="155.0" rx="13.5" ry="8.8" transform="rotate(-32 1919.5 155.0)" fill="rgb(72,76,76)"/>
<ellipse cx="1920.9" cy="155.1" rx="7.3" ry="5.7" transform="rotate(-32 1919.5 155.0)" fill="#e80a0a"/>
<ellipse cx="1744.4" cy="99.5" rx="22.1" ry="9.6" transform="rotate(-35 1744.4 99.5)" fill="rgb(53,54,54)"/>
<ellipse cx="1745.6" cy="98.9" rx="13.2" ry="6.6" transform="rotate(-35 1744.4 99.5)" fill="#b8161c"/>
<ellipse cx="1467.7" cy="242.5" rx="15.2" ry="7.0" transform="rotate(-36 1467.7 242.5)" fill="rgb(84,75,75)"/>
<ellipse cx="1468.3" cy="243.0" rx="7.4" ry="4.2" transform="rotate(-36 1467.7 242.5)" fill="#d41212"/>
<ellipse cx="2144.3" cy="440.1" rx="22.8" ry="8.9" transform="rotate(-44 2144.3 440.1)" fill="rgb(67,55,55)"/>
<ellipse cx="2143.4" cy="440.9" rx="13.5" ry="6.2" transform="rotate(-44 2144.3 440.1)" fill="#c01414"/>
<ellipse cx="1762.8" cy="412.2" rx="13.8" ry="7.3" transform="rotate(-42 1762.8 412.2)" fill="rgb(66,68,68)"/>
<ellipse cx="1808.3" cy="50.5" rx="17.2" ry="6.5" transform="rotate(-40 1808.3 50.5)" fill="rgb(72,76,76)"/>
<ellipse cx="1808.1" cy="51.3" rx="7.9" ry="4.1" transform="rotate(-40 1808.3 50.5)" fill="#d41212"/>
<ellipse cx="1580.9" cy="320.1" rx="20.9" ry="7.8" transform="rotate(-24 1580.9 320.1)" fill="rgb(60,61,61)"/>
<ellipse cx="1471.7" cy="391.3" rx="16.8" ry="8.3" transform="rotate(-34 1471.7 391.3)" fill="rgb(89,79,79)"/>
<ellipse cx="1473.4" cy="391.8" rx="8.6" ry="5.6" transform="rotate(-34 1471.7 391.3)" fill="#b8161c"/>
<ellipse cx="1857.6" cy="470.5" rx="22.2" ry="6.5" transform="rotate(-34 1857.6 470.5)" fill="rgb(71,72,72)"/>
<ellipse cx="1858.5" cy="470.0" rx="15.8" ry="3.2" transform="rotate(-34 1857.6 470.5)" fill="#a81818"/>
<ellipse cx="1736.3" cy="413.8" rx="13.6" ry="6.9" transform="rotate(-33 1736.3 413.8)" fill="rgb(98,89,89)"/>
<ellipse cx="1735.2" cy="414.5" rx="6.9" ry="4.9" transform="rotate(-33 1736.3 413.8)" fill="#c01414"/>
<ellipse cx="2102.6" cy="156.1" rx="13.0" ry="8.8" transform="rotate(-29 2102.6 156.1)" fill="rgb(70,61,61)"/>
<ellipse cx="2104.4" cy="155.3" rx="7.6" ry="4.8" transform="rotate(-29 2102.6 156.1)" fill="#d41212"/>
<ellipse cx="2109.5" cy="287.7" rx="22.3" ry="6.7" transform="rotate(-35 2109.5 287.7)" fill="rgb(80,81,81)"/>
<ellipse cx="2108.2" cy="288.0" rx="16.7" ry="4.0" transform="rotate(-35 2109.5 287.7)" fill="#b8161c"/>
<ellipse cx="1993.5" cy="488.9" rx="15.4" ry="7.4" transform="rotate(-37 1993.5 488.9)" fill="rgb(61,54,54)"/>
<ellipse cx="1994.7" cy="488.5" rx="9.8" ry="3.5" transform="rotate(-37 1993.5 488.9)" fill="#f00000"/>
<ellipse cx="1515.3" cy="387.3" rx="14.2" ry="6.0" transform="rotate(-31 1515.3 387.3)" fill="rgb(71,65,65)"/>
<ellipse cx="1689.5" cy="291.7" rx="19.7" ry="7.7" transform="rotate(-23 1689.5 291.7)" fill="rgb(84,85,85)"/>
<ellipse cx="1689.7" cy="291.8" rx="12.9" ry="4.9" transform="rotate(-23 1689.5 291.7)" fill="#e80a0a"/>
<ellipse cx="2066.7" cy="20.6" rx="18.4" ry="6.7" transform="rotate(-37 2066.7 20.6)" fill="rgb(63,56,56)"/>
<ellipse cx="2066.5" cy="20.3" rx="8.3" ry="3.7" transform="rotate(-37 2066.7 20.6)" fill="#a81818"/>
<ellipse cx="1681.8" cy="-0.8" rx="17.5" ry="8.8" transform="rotate(-54 1681.8 -0.8)" fill="rgb(83,78,78)"/>
<ellipse cx="1681.3" cy="-1.4" rx="10.9" ry="4.2" transform="rotate(-54 1681.8 -0.8)" fill="#f00000"/>
<ellipse cx="1850.7" cy="389.2" rx="16.5" ry="9.0" transform="rotate(-35 1850.7 389.2)" fill="rgb(75,76,76)"/>
<ellipse cx="2124.8" cy="381.0" rx="17.6" ry="6.3" transform="rotate(-51 2124.8 381.0)" fill="rgb(67,57,57)"/>
<ellipse cx="2124.0" cy="381.0" rx="9.1" ry="3.1" transform="rotate(-51 2124.8 381.0)" fill="#d41212"/>
<ellipse cx="1508.9" cy="435.4" rx="20.9" ry="6.2" transform="rotate(-31 1508.9 435.4)" fill="rgb(82,82,82)"/>
<ellipse cx="2010.5" cy="286.2" rx="13.7" ry="6.7" transform="rotate(-8 2010.5 286.2)" fill="rgb(83,76,76)"/>
<ellipse cx="2010.4" cy="285.3" rx="9.7" ry="4.0" transform="rotate(-8 2010.5 286.2)" fill="#c01414"/>
<ellipse cx="1661.5" cy="318.1" rx="16.5" ry="6.6" transform="rotate(-36 1661.5 318.1)" fill="rgb(93,83,83)"/>
<ellipse cx="1660.4" cy="317.3" rx="10.4" ry="3.4" transform="rotate(-36 1661.5 318.1)" fill="#c01414"/>
<ellipse cx="1718.9" cy="318.5" rx="17.0" ry="6.0" transform="rotate(-34 1718.9 318.5)" fill="rgb(87,87,87)"/>
<ellipse cx="1719.2" cy="318.7" rx="12.7" ry="3.0" transform="rotate(-34 1718.9 318.5)" fill="#d41212"/>
<ellipse cx="2065.9" cy="455.6" rx="15.2" ry="5.9" transform="rotate(-25 2065.9 455.6)" fill="rgb(83,80,80)"/>
<ellipse cx="2064.2" cy="456.4" rx="10.3" ry="2.9" transform="rotate(-25 2065.9 455.6)" fill="#b8161c"/>
<ellipse cx="2116.2" cy="438.4" rx="16.9" ry="6.8" transform="rotate(-27 2116.2 438.4)" fill="rgb(59,51,51)"/>
<ellipse cx="2116.0" cy="437.5" rx="10.6" ry="4.8" transform="rotate(-27 2116.2 438.4)" fill="#f00000"/>
<ellipse cx="1866.0" cy="124.2" rx="19.3" ry="6.8" transform="rotate(-27 1866.0 124.2)" fill="rgb(81,83,83)"/>
<ellipse cx="1864.6" cy="124.2" rx="9.9" ry="4.0" transform="rotate(-27 1866.0 124.2)" fill="#c01414"/>
<ellipse cx="1829.2" cy="438.1" rx="16.5" ry="7.9" transform="rotate(-35 1829.2 438.1)" fill="rgb(97,88,88)"/>
<ellipse cx="1829.8" cy="437.2" rx="10.8" ry="3.6" transform="rotate(-35 1829.2 438.1)" fill="#e80a0a"/>
<ellipse cx="1592.7" cy="214.6" rx="29.9" ry="10.2" transform="rotate(-28 1592.7 214.6)" fill="rgb(96,87,87)"/>
<ellipse cx="1591.7" cy="213.8" rx="19.7" ry="5.0" transform="rotate(-28 1592.7 214.6)" fill="#e80a0a"/>
<ellipse cx="1634.5" cy="201.8" rx="30.7" ry="9.3" transform="rotate(-28 1634.5 201.8)" fill="rgb(50,51,51)"/>
<ellipse cx="1633.1" cy="201.3" rx="18.6" ry="5.0" transform="rotate(-28 1634.5 201.8)" fill="#f00000"/>
<ellipse cx="2016.9" cy="156.1" rx="13.9" ry="8.3" transform="rotate(-39 2016.9 156.1)" fill="rgb(58,53,53)"/>
<ellipse cx="2015.1" cy="155.8" rx="9.0" ry="3.7" transform="rotate(-39 2016.9 156.1)" fill="#c01414"/>
<ellipse cx="2065.4" cy="366.1" rx="17.5" ry="6.7" transform="rotate(-4 2065.4 366.1)" fill="rgb(84,88,88)"/>
<ellipse cx="2067.0" cy="365.1" rx="8.5" ry="3.4" transform="rotate(-4 2065.4 366.1)" fill="#e80a0a"/>
<ellipse cx="1586.7" cy="351.5" rx="14.4" ry="8.7" transform="rotate(-37 1586.7 351.5)" fill="rgb(83,75,75)"/>
<ellipse cx="1585.9" cy="351.2" rx="8.0" ry="4.9" transform="rotate(-37 1586.7 351.5)" fill="#b8161c"/>
<ellipse cx="1915.7" cy="434.1" rx="19.5" ry="8.6" transform="rotate(-44 1915.7 434.1)" fill="rgb(85,83,83)"/>
<ellipse cx="1914.0" cy="433.9" rx="13.7" ry="6.1" transform="rotate(-44 1915.7 434.1)" fill="#b8161c"/>
<ellipse cx="1676.2" cy="119.2" rx="25.3" ry="10.9" transform="rotate(-19 1676.2 119.2)" fill="rgb(77,72,72)"/>
<ellipse cx="1675.5" cy="118.5" rx="17.1" ry="5.8" transform="rotate(-19 1676.2 119.2)" fill="#c01414"/>
<ellipse cx="2100.4" cy="361.0" rx="18.7" ry="8.8" transform="rotate(-36 2100.4 361.0)" fill="rgb(70,73,73)"/>
<ellipse cx="2102.0" cy="361.7" rx="13.8" ry="5.8" transform="rotate(-36 2100.4 361.0)" fill="#a81818"/>
<ellipse cx="2096.5" cy="417.2" rx="18.0" ry="5.7" transform="rotate(-36 2096.5 417.2)" fill="rgb(70,62,62)"/>
<ellipse cx="2097.3" cy="417.0" rx="9.7" ry="3.0" transform="rotate(-36 2096.5 417.2)" fill="#c01414"/>
<ellipse cx="1551.9" cy="14.7" rx="24.2" ry="7.7" transform="rotate(-33 1551.9 14.7)" fill="rgb(69,72,72)"/>
<ellipse cx="1551.6" cy="15.6" rx="15.8" ry="5.4" transform="rotate(-33 1551.9 14.7)" fill="#f00000"/>
<ellipse cx="1611.8" cy="324.3" rx="21.4" ry="7.0" transform="rotate(-50 1611.8 324.3)" fill="rgb(82,77,77)"/>
<ellipse cx="1612.4" cy="323.5" rx="12.9" ry="4.9" transform="rotate(-50 1611.8 324.3)" fill="#b8161c"/>
<ellipse cx="1634.7" cy="284.4" rx="15.4" ry="6.8" transform="rotate(-40 1634.7 284.4)" fill="rgb(56,54,54)"/>
<ellipse cx="1635.5" cy="284.3" rx="10.9" ry="3.3" transform="rotate(-40 1634.7 284.4)" fill="#d41212"/>
<ellipse cx="1795.4" cy="239.7" rx="19.1" ry="7.5" transform="rotate(-33 1795.4 239.7)" fill="rgb(85,81,81)"/>
<ellipse cx="1439.0" cy="174.6" rx="18.3" ry="10.9" transform="rotate(-25 1439.0 174.6)" fill="rgb(65,65,65)"/>
<ellipse cx="2155.7" cy="222.0" rx="22.8" ry="5.9" transform="rotate(-27 2155.7 222.0)" fill="rgb(78,74,74)"/>
<ellipse cx="2155.5" cy="222.3" rx="11.2" ry="2.7" transform="rotate(-27 2155.7 222.0)" fill="#f00000"/>
<ellipse cx="1475.1" cy="252.6" rx="23.5" ry="8.8" transform="rotate(-37 1475.1 252.6)" fill="rgb(53,53,53)"/>
<ellipse cx="1677.1" cy="539.4" rx="13.4" ry="6.9" transform="rotate(-48 1677.1 539.4)" fill="rgb(75,76,76)"/>
<ellipse cx="1677.9" cy="538.9" rx="9.5" ry="4.1" transform="rotate(-48 1677.1 539.4)" fill="#d41212"/>
<ellipse cx="1695.2" cy="351.7" rx="15.8" ry="6.0" transform="rotate(-26 1695.2 351.7)" fill="rgb(83,77,77)"/>
<ellipse cx="1696.6" cy="352.2" rx="10.7" ry="4.1" transform="rotate(-26 1695.2 351.7)" fill="#9a1a20"/>
<ellipse cx="1801.0" cy="176.9" rx="19.6" ry="8.4" transform="rotate(-22 1801.0 176.9)" fill="rgb(54,52,52)"/>
<ellipse cx="2109.8" cy="239.6" rx="18.4" ry="8.4" transform="rotate(-28 2109.8 239.6)" fill="rgb(89,87,87)"/>
<ellipse cx="2110.2" cy="239.6" rx="9.7" ry="4.2" transform="rotate(-28 2109.8 239.6)" fill="#9a1a20"/>
<ellipse cx="1637.0" cy="80.7" rx="27.4" ry="7.2" transform="rotate(-34 1637.0 80.7)" fill="rgb(83,77,77)"/>
<ellipse cx="1636.6" cy="81.7" rx="13.2" ry="4.7" transform="rotate(-34 1637.0 80.7)" fill="#a81818"/>
<ellipse cx="2071.4" cy="310.0" rx="13.3" ry="8.6" transform="rotate(-33 2071.4 310.0)" fill="rgb(78,70,70)"/>
<ellipse cx="2073.3" cy="310.1" rx="8.1" ry="5.2" transform="rotate(-33 2071.4 310.0)" fill="#d41212"/>
<ellipse cx="2090.1" cy="262.9" rx="16.1" ry="7.4" transform="rotate(-29 2090.1 262.9)" fill="rgb(72,69,69)"/>
<ellipse cx="2090.4" cy="263.1" rx="7.6" ry="3.8" transform="rotate(-29 2090.1 262.9)" fill="#a81818"/>
<ellipse cx="1951.8" cy="476.7" rx="22.0" ry="6.7" transform="rotate(-35 1951.8 476.7)" fill="rgb(62,60,60)"/>
<ellipse cx="1952.5" cy="477.4" rx="13.2" ry="4.7" transform="rotate(-35 1951.8 476.7)" fill="#d41212"/>
<ellipse cx="2131.2" cy="531.0" rx="15.5" ry="7.4" transform="rotate(-41 2131.2 531.0)" fill="rgb(89,84,84)"/>
<ellipse cx="2133.0" cy="530.0" rx="11.0" ry="3.6" transform="rotate(-41 2131.2 531.0)" fill="#b8161c"/>
<ellipse cx="2045.1" cy="549.8" rx="18.4" ry="8.0" transform="rotate(-54 2045.1 549.8)" fill="rgb(52,51,51)"/>
<ellipse cx="2044.8" cy="548.8" rx="8.4" ry="3.8" transform="rotate(-54 2045.1 549.8)" fill="#b8161c"/>
<ellipse cx="1633.3" cy="116.8" rx="23.4" ry="10.2" transform="rotate(-35 1633.3 116.8)" fill="rgb(62,58,58)"/>
<ellipse cx="1633.9" cy="116.5" rx="17.6" ry="5.2" transform="rotate(-35 1633.3 116.8)" fill="#f00000"/>
<ellipse cx="1475.2" cy="182.8" rx="27.2" ry="8.3" transform="rotate(-32 1475.2 182.8)" fill="rgb(82,70,70)"/>
<ellipse cx="1476.4" cy="182.6" rx="19.5" ry="4.4" transform="rotate(-32 1475.2 182.8)" fill="#9a1a20"/>
<ellipse cx="1747.5" cy="503.2" rx="23.0" ry="8.5" transform="rotate(-45 1747.5 503.2)" fill="rgb(75,68,68)"/>
<ellipse cx="1748.6" cy="503.7" rx="13.1" ry="5.2" transform="rotate(-45 1747.5 503.2)" fill="#b8161c"/>
<ellipse cx="1977.4" cy="31.7" rx="17.2" ry="7.9" transform="rotate(-45 1977.4 31.7)" fill="rgb(52,55,55)"/>
<ellipse cx="1978.4" cy="31.0" rx="8.8" ry="5.3" transform="rotate(-45 1977.4 31.7)" fill="#e80a0a"/>
<ellipse cx="1799.1" cy="96.5" rx="14.2" ry="7.1" transform="rotate(-36 1799.1 96.5)" fill="rgb(57,60,60)"/>
<ellipse cx="1799.1" cy="95.7" rx="8.2" ry="4.3" transform="rotate(-36 1799.1 96.5)" fill="#e80a0a"/>
<ellipse cx="1852.5" cy="117.2" rx="15.6" ry="8.2" transform="rotate(-25 1852.5 117.2)" fill="rgb(83,82,82)"/>
<ellipse cx="1852.9" cy="116.4" rx="11.7" ry="4.8" transform="rotate(-25 1852.5 117.2)" fill="#f00000"/>
<ellipse cx="1996.1" cy="206.7" rx="16.0" ry="7.4" transform="rotate(-36 1996.1 206.7)" fill="rgb(99,88,88)"/>
<ellipse cx="1996.0" cy="206.8" rx="9.5" ry="4.2" transform="rotate(-36 1996.1 206.7)" fill="#c01414"/>
<ellipse cx="1770.5" cy="493.5" rx="21.6" ry="6.2" transform="rotate(-40 1770.5 493.5)" fill="rgb(55,50,50)"/>
<ellipse cx="1769.6" cy="493.3" rx="11.9" ry="3.3" transform="rotate(-40 1770.5 493.5)" fill="#a81818"/>
<ellipse cx="1516.2" cy="298.2" rx="17.2" ry="6.2" transform="rotate(-25 1516.2 298.2)" fill="rgb(56,51,51)"/>
<ellipse cx="1516.6" cy="297.3" rx="13.2" ry="3.6" transform="rotate(-25 1516.2 298.2)" fill="#d41212"/>
<ellipse cx="1596.8" cy="225.9" rx="17.5" ry="11.3" transform="rotate(-37 1596.8 225.9)" fill="rgb(84,75,75)"/>
<ellipse cx="1597.3" cy="226.6" rx="11.9" ry="5.7" transform="rotate(-37 1596.8 225.9)" fill="#c01414"/>
<ellipse cx="1848.5" cy="265.8" rx="22.8" ry="7.7" transform="rotate(-36 1848.5 265.8)" fill="rgb(61,60,60)"/>
<ellipse cx="1926.8" cy="85.6" rx="21.3" ry="8.9" transform="rotate(-37 1926.8 85.6)" fill="rgb(60,61,61)"/>
<ellipse cx="1925.3" cy="86.2" rx="12.4" ry="4.1" transform="rotate(-37 1926.8 85.6)" fill="#e80a0a"/>
<ellipse cx="2070.0" cy="246.0" rx="16.5" ry="6.4" transform="rotate(-34 2070.0 246.0)" fill="rgb(55,53,53)"/>
<ellipse cx="2071.7" cy="245.5" rx="7.5" ry="3.9" transform="rotate(-34 2070.0 246.0)" fill="#e80a0a"/>
<ellipse cx="1530.5" cy="543.6" rx="18.2" ry="7.5" transform="rotate(-24 1530.5 543.6)" fill="rgb(87,85,85)"/>
<ellipse cx="1529.7" cy="544.5" rx="8.5" ry="3.8" transform="rotate(-24 1530.5 543.6)" fill="#c01414"/>
<ellipse cx="1991.7" cy="58.0" rx="20.4" ry="5.8" transform="rotate(-35 1991.7 58.0)" fill="rgb(84,78,78)"/>
<ellipse cx="1992.2" cy="58.4" rx="15.8" ry="2.9" transform="rotate(-35 1991.7 58.0)" fill="#b8161c"/>
<ellipse cx="1667.6" cy="250.8" rx="15.6" ry="7.6" transform="rotate(-23 1667.6 250.8)" fill="rgb(57,54,54)"/>
<ellipse cx="1667.5" cy="251.3" rx="11.0" ry="4.5" transform="rotate(-23 1667.6 250.8)" fill="#e80a0a"/>
<ellipse cx="1967.5" cy="5.4" rx="13.8" ry="5.6" transform="rotate(-30 1967.5 5.4)" fill="rgb(82,79,79)"/>
<ellipse cx="1967.0" cy="6.2" rx="7.1" ry="2.6" transform="rotate(-30 1967.5 5.4)" fill="#c01414"/>
<ellipse cx="1959.0" cy="354.0" rx="17.0" ry="6.6" transform="rotate(-30 1959.0 354.0)" fill="rgb(70,64,64)"/>
<ellipse cx="1957.9" cy="354.1" rx="12.7" ry="3.9" transform="rotate(-30 1959.0 354.0)" fill="#d41212"/>
<ellipse cx="1902.2" cy="59.1" rx="14.0" ry="6.4" transform="rotate(-24 1902.2 59.1)" fill="rgb(65,57,57)"/>
<ellipse cx="1903.8" cy="58.8" rx="10.5" ry="3.1" transform="rotate(-24 1902.2 59.1)" fill="#b8161c"/>
<ellipse cx="1474.7" cy="172.8" rx="26.2" ry="11.7" transform="rotate(-24 1474.7 172.8)" fill="rgb(87,79,79)"/>
<ellipse cx="1966.2" cy="434.4" rx="13.7" ry="7.0" transform="rotate(-29 1966.2 434.4)" fill="rgb(54,56,56)"/>
<ellipse cx="2134.4" cy="412.5" rx="18.6" ry="7.1" transform="rotate(-8 2134.4 412.5)" fill="rgb(61,59,59)"/>
<ellipse cx="2132.9" cy="411.9" rx="13.5" ry="3.4" transform="rotate(-8 2134.4 412.5)" fill="#e80a0a"/>
<ellipse cx="1605.1" cy="237.8" rx="28.5" ry="10.2" transform="rotate(-47 1605.1 237.8)" fill="rgb(73,63,63)"/>
<ellipse cx="1604.8" cy="238.1" rx="18.5" ry="4.7" transform="rotate(-47 1605.1 237.8)" fill="#d41212"/>
<ellipse cx="1957.4" cy="125.4" rx="13.8" ry="5.6" transform="rotate(-33 1957.4 125.4)" fill="rgb(90,78,78)"/>
<ellipse cx="1956.7" cy="125.9" rx="9.7" ry="3.2" transform="rotate(-33 1957.4 125.4)" fill="#e80a0a"/>
<ellipse cx="1877.9" cy="148.2" rx="18.6" ry="6.0" transform="rotate(-59 1877.9 148.2)" fill="rgb(75,63,63)"/>
<ellipse cx="1878.1" cy="148.1" rx="13.2" ry="2.9" transform="rotate(-59 1877.9 148.2)" fill="#d41212"/>
<ellipse cx="1979.8" cy="234.3" rx="22.0" ry="6.2" transform="rotate(-40 1979.8 234.3)" fill="rgb(55,50,50)"/>
<ellipse cx="1980.7" cy="235.2" rx="16.3" ry="3.2" transform="rotate(-40 1979.8 234.3)" fill="#e80a0a"/>
<ellipse cx="1842.9" cy="34.1" rx="20.9" ry="6.9" transform="rotate(-28 1842.9 34.1)" fill="rgb(78,73,73)"/>
<ellipse cx="1844.0" cy="34.8" rx="16.1" ry="4.7" transform="rotate(-28 1842.9 34.1)" fill="#b8161c"/>
<ellipse cx="1807.8" cy="245.3" rx="13.1" ry="7.3" transform="rotate(-45 1807.8 245.3)" fill="rgb(84,79,79)"/>
<ellipse cx="1671.1" cy="60.8" rx="16.9" ry="7.3" transform="rotate(-54 1671.1 60.8)" fill="rgb(79,79,79)"/>
<ellipse cx="1672.0" cy="60.1" rx="12.6" ry="3.7" transform="rotate(-54 1671.1 60.8)" fill="#d41212"/>
<ellipse cx="1859.1" cy="334.4" rx="21.6" ry="8.0" transform="rotate(-18 1859.1 334.4)" fill="rgb(68,63,63)"/>
<ellipse cx="1860.9" cy="334.5" rx="14.3" ry="4.0" transform="rotate(-18 1859.1 334.4)" fill="#9a1a20"/>
<ellipse cx="1444.1" cy="481.7" rx="18.1" ry="6.1" transform="rotate(-37 1444.1 481.7)" fill="rgb(62,61,61)"/>
<ellipse cx="1445.4" cy="480.8" rx="13.8" ry="3.7" transform="rotate(-37 1444.1 481.7)" fill="#c01414"/>
<ellipse cx="2042.4" cy="55.5" rx="15.0" ry="8.8" transform="rotate(-41 2042.4 55.5)" fill="rgb(80,80,80)"/>
<ellipse cx="2041.0" cy="55.9" rx="11.7" ry="4.1" transform="rotate(-41 2042.4 55.5)" fill="#d41212"/>
<ellipse cx="1981.2" cy="164.3" rx="15.0" ry="7.0" transform="rotate(-20 1981.2 164.3)" fill="rgb(95,86,86)"/>
<ellipse cx="1983.2" cy="163.5" rx="7.6" ry="4.1" transform="rotate(-20 1981.2 164.3)" fill="#d41212"/>
<ellipse cx="1815.0" cy="476.2" rx="19.4" ry="8.1" transform="rotate(-56 1815.0 476.2)" fill="rgb(85,78,78)"/>
<ellipse cx="1815.3" cy="476.8" rx="14.3" ry="3.7" transform="rotate(-56 1815.0 476.2)" fill="#f00000"/>
<ellipse cx="1766.0" cy="270.0" rx="23.0" ry="8.3" transform="rotate(-33 1766.0 270.0)" fill="rgb(87,80,80)"/>
<ellipse cx="1765.5" cy="269.6" rx="13.7" ry="4.6" transform="rotate(-33 1766.0 270.0)" fill="#d41212"/>
<ellipse cx="1738.2" cy="377.2" rx="21.1" ry="7.0" transform="rotate(-21 1738.2 377.2)" fill="rgb(70,74,74)"/>
<ellipse cx="1740.0" cy="377.5" rx="12.7" ry="4.8" transform="rotate(-21 1738.2 377.2)" fill="#f00000"/>
<ellipse cx="2153.3" cy="497.2" rx="13.8" ry="8.4" transform="rotate(-18 2153.3 497.2)" fill="rgb(59,63,63)"/>
<ellipse cx="1738.4" cy="136.9" rx="15.4" ry="7.6" transform="rotate(-25 1738.4 136.9)" fill="rgb(61,62,62)"/>
<ellipse cx="1738.2" cy="136.3" rx="7.6" ry="5.2" transform="rotate(-25 1738.4 136.9)" fill="#9a1a20"/>
<ellipse cx="1496.1" cy="340.9" rx="21.9" ry="7.4" transform="rotate(-57 1496.1 340.9)" fill="rgb(71,72,72)"/>
<ellipse cx="1506.2" cy="221.4" rx="20.4" ry="8.0" transform="rotate(-33 1506.2 221.4)" fill="rgb(63,56,56)"/>
<ellipse cx="1505.3" cy="221.0" rx="16.2" ry="4.2" transform="rotate(-33 1506.2 221.4)" fill="#d41212"/>
<ellipse cx="1875.1" cy="421.0" rx="20.1" ry="6.5" transform="rotate(-47 1875.1 421.0)" fill="rgb(66,55,55)"/>
<ellipse cx="1873.6" cy="421.3" rx="14.5" ry="4.2" transform="rotate(-47 1875.1 421.0)" fill="#c01414"/>
<ellipse cx="1765.0" cy="48.0" rx="17.1" ry="8.3" transform="rotate(-19 1765.0 48.0)" fill="rgb(53,51,51)"/>
<ellipse cx="1579.2" cy="185.8" rx="30.5" ry="10.0" transform="rotate(-42 1579.2 185.8)" fill="rgb(97,89,89)"/>
<ellipse cx="1580.3" cy="186.5" rx="23.2" ry="5.1" transform="rotate(-42 1579.2 185.8)" fill="#9a1a20"/>
<ellipse cx="1778.6" cy="439.5" rx="15.4" ry="7.5" transform="rotate(-10 1778.6 439.5)" fill="rgb(96,85,85)"/>
<ellipse cx="1779.6" cy="439.0" rx="7.1" ry="5.0" transform="rotate(-10 1778.6 439.5)" fill="#b8161c"/>
<ellipse cx="1587.6" cy="46.9" rx="24.5" ry="6.8" transform="rotate(-57 1587.6 46.9)" fill="rgb(68,62,62)"/>
<ellipse cx="1587.4" cy="46.6" rx="14.4" ry="3.5" transform="rotate(-57 1587.6 46.9)" fill="#f00000"/>
<ellipse cx="1928.6" cy="237.9" rx="16.2" ry="6.8" transform="rotate(-30 1928.6 237.9)" fill="rgb(50,53,53)"/>
<ellipse cx="1927.3" cy="237.8" rx="8.6" ry="3.1" transform="rotate(-30 1928.6 237.9)" fill="#e80a0a"/>
<ellipse cx="1696.6" cy="78.1" rx="17.3" ry="8.5" transform="rotate(-28 1696.6 78.1)" fill="rgb(71,63,63)"/>
<ellipse cx="1698.0" cy="78.3" rx="11.8" ry="5.2" transform="rotate(-28 1696.6 78.1)" fill="#b8161c"/>
<ellipse cx="1845.5" cy="325.5" rx="15.7" ry="8.8" transform="rotate(-35 1845.5 325.5)" fill="rgb(89,79,79)"/>
<ellipse cx="1845.5" cy="324.9" rx="9.2" ry="4.8" transform="rotate(-35 1845.5 325.5)" fill="#b8161c"/>
<ellipse cx="2131.5" cy="189.7" rx="17.3" ry="6.9" transform="rotate(-26 2131.5 189.7)" fill="rgb(59,50,50)"/>
<ellipse cx="2132.9" cy="189.3" rx="9.5" ry="4.9" transform="rotate(-26 2131.5 189.7)" fill="#b8161c"/>
<ellipse cx="1655.9" cy="30.4" rx="22.4" ry="8.1" transform="rotate(-35 1655.9 30.4)" fill="rgb(51,52,52)"/>
<ellipse cx="1655.6" cy="30.7" rx="15.9" ry="5.1" transform="rotate(-35 1655.9 30.4)" fill="#f00000"/>
<ellipse cx="1757.3" cy="124.6" rx="18.7" ry="9.9" transform="rotate(-60 1757.3 124.6)" fill="rgb(94,87,87)"/>
<ellipse cx="1757.0" cy="124.1" rx="12.4" ry="6.6" transform="rotate(-60 1757.3 124.6)" fill="#b8161c"/>
<ellipse cx="1980.4" cy="101.6" rx="20.7" ry="8.3" transform="rotate(-14 1980.4 101.6)" fill="rgb(71,62,62)"/>
<ellipse cx="1979.7" cy="101.3" rx="12.0" ry="4.8" transform="rotate(-14 1980.4 101.6)" fill="#c01414"/>
<ellipse cx="1784.2" cy="152.8" rx="14.6" ry="7.9" transform="rotate(-37 1784.2 152.8)" fill="rgb(94,87,87)"/>
<ellipse cx="1786.1" cy="153.4" rx="10.7" ry="5.0" transform="rotate(-37 1784.2 152.8)" fill="#e80a0a"/>
<ellipse cx="1688.9" cy="423.3" rx="13.7" ry="6.5" transform="rotate(-36 1688.9 423.3)" fill="rgb(65,60,60)"/>
<ellipse cx="1689.9" cy="424.1" rx="8.6" ry="4.2" transform="rotate(-36 1688.9 423.3)" fill="#b8161c"/>
<ellipse cx="2095.8" cy="193.6" rx="14.7" ry="7.4" transform="rotate(-52 2095.8 193.6)" fill="rgb(76,77,77)"/>
<ellipse cx="1856.4" cy="195.7" rx="21.2" ry="6.3" transform="rotate(-59 1856.4 195.7)" fill="rgb(96,86,86)"/>
<ellipse cx="1856.3" cy="194.9" rx="12.3" ry="4.4" transform="rotate(-59 1856.4 195.7)" fill="#e80a0a"/>
<ellipse cx="1841.6" cy="105.0" rx="21.6" ry="6.1" transform="rotate(-21 1841.6 105.0)" fill="rgb(68,62,62)"/>
<ellipse cx="1815.3" cy="324.8" rx="18.6" ry="8.5" transform="rotate(-54 1815.3 324.8)" fill="rgb(52,52,52)"/>
<ellipse cx="1840.8" cy="84.0" rx="15.0" ry="7.9" transform="rotate(-20 1840.8 84.0)" fill="rgb(60,57,57)"/>
<ellipse cx="1841.2" cy="84.7" rx="8.6" ry="4.8" transform="rotate(-20 1840.8 84.0)" fill="#e80a0a"/>
<ellipse cx="1451.7" cy="213.5" rx="22.3" ry="9.4" transform="rotate(-50 1451.7 213.5)" fill="rgb(48,52,52)"/>
<ellipse cx="1450.8" cy="213.7" rx="16.4" ry="4.9" transform="rotate(-50 1451.7 213.5)" fill="#a81818"/>
<ellipse cx="1572.3" cy="384.0" rx="14.7" ry="5.8" transform="rotate(-51 1572.3 384.0)" fill="rgb(81,85,85)"/>
<ellipse cx="1573.3" cy="383.1" rx="9.8" ry="3.2" transform="rotate(-51 1572.3 384.0)" fill="#c01414"/>
<ellipse cx="1545.3" cy="277.9" rx="18.9" ry="7.5" transform="rotate(-6 1545.3 277.9)" fill="rgb(92,80,80)"/>
<ellipse cx="1547.2" cy="277.6" rx="12.4" ry="4.0" transform="rotate(-6 1545.3 277.9)" fill="#a81818"/>
<ellipse cx="1801.8" cy="316.1" rx="20.2" ry="6.4" transform="rotate(-43 1801.8 316.1)" fill="rgb(59,58,58)"/>
<ellipse cx="1800.0" cy="315.1" rx="9.7" ry="3.7" transform="rotate(-43 1801.8 316.1)" fill="#f00000"/>
<ellipse cx="1446.0" cy="345.9" rx="21.5" ry="5.8" transform="rotate(-23 1446.0 345.9)" fill="rgb(61,63,63)"/>
<ellipse cx="1444.8" cy="346.7" rx="15.8" ry="3.8" transform="rotate(-23 1446.0 345.9)" fill="#9a1a20"/>
<ellipse cx="1887.5" cy="534.4" rx="20.0" ry="8.2" transform="rotate(-40 1887.5 534.4)" fill="rgb(82,74,74)"/>
<ellipse cx="1495.1" cy="55.7" rx="17.0" ry="10.6" transform="rotate(-46 1495.1 55.7)" fill="rgb(77,74,74)"/>
<ellipse cx="1493.3" cy="56.1" rx="11.1" ry="5.6" transform="rotate(-46 1495.1 55.7)" fill="#a81818"/>
<ellipse cx="1961.4" cy="59.3" rx="18.6" ry="8.6" transform="rotate(-54 1961.4 59.3)" fill="rgb(64,64,64)"/>
<ellipse cx="1963.1" cy="59.8" rx="11.9" ry="5.5" transform="rotate(-54 1961.4 59.3)" fill="#c01414"/>
<ellipse cx="1883.5" cy="247.6" rx="21.3" ry="5.8" transform="rotate(-38 1883.5 247.6)" fill="rgb(84,86,86)"/>
<ellipse cx="1884.9" cy="248.3" rx="16.1" ry="3.6" transform="rotate(-38 1883.5 247.6)" fill="#a81818"/>
<ellipse cx="1738.9" cy="65.5" rx="16.5" ry="6.8" transform="rotate(-32 1738.9 65.5)" fill="rgb(91,90,90)"/>
<ellipse cx="1740.1" cy="66.3" rx="8.8" ry="3.5" transform="rotate(-32 1738.9 65.5)" fill="#c01414"/>
<ellipse cx="1455.9" cy="193.8" rx="28.4" ry="7.9" transform="rotate(-46 1455.9 193.8)" fill="rgb(56,55,55)"/>
<ellipse cx="1454.7" cy="194.8" rx="17.7" ry="5.5" transform="rotate(-46 1455.9 193.8)" fill="#e80a0a"/>
<ellipse cx="1510.8" cy="450.8" rx="20.0" ry="6.4" transform="rotate(-55 1510.8 450.8)" fill="rgb(61,65,65)"/>
<ellipse cx="1512.0" cy="450.1" rx="11.8" ry="4.5" transform="rotate(-55 1510.8 450.8)" fill="#a81818"/>
<ellipse cx="1580.5" cy="543.4" rx="22.3" ry="7.9" transform="rotate(-51 1580.5 543.4)" fill="rgb(79,77,77)"/>
<ellipse cx="1579.7" cy="543.6" rx="16.1" ry="4.3" transform="rotate(-51 1580.5 543.4)" fill="#9a1a20"/>
<ellipse cx="1553.5" cy="233.2" rx="28.5" ry="11.3" transform="rotate(-32 1553.5 233.2)" fill="rgb(96,86,86)"/>
<ellipse cx="1552.7" cy="233.4" rx="14.3" ry="7.9" transform="rotate(-32 1553.5 233.2)" fill="#b8161c"/>
<ellipse cx="1743.7" cy="358.6" rx="21.8" ry="6.8" transform="rotate(-25 1743.7 358.6)" fill="rgb(50,54,54)"/>
<ellipse cx="1745.1" cy="359.5" rx="15.1" ry="3.4" transform="rotate(-25 1743.7 358.6)" fill="#b8161c"/>
<ellipse cx="2065.1" cy="10.3" rx="19.3" ry="7.6" transform="rotate(-53 2065.1 10.3)" fill="rgb(66,65,65)"/>
<ellipse cx="2065.8" cy="9.6" rx="11.5" ry="4.1" transform="rotate(-53 2065.1 10.3)" fill="#f00000"/>
<ellipse cx="1981.1" cy="255.7" rx="22.9" ry="7.8" transform="rotate(-34 1981.1 255.7)" fill="rgb(98,86,86)"/>
<ellipse cx="1982.9" cy="254.9" rx="16.2" ry="5.4" transform="rotate(-34 1981.1 255.7)" fill="#f00000"/>
<ellipse cx="1989.4" cy="41.7" rx="17.9" ry="8.9" transform="rotate(-24 1989.4 41.7)" fill="rgb(85,78,78)"/>
<ellipse cx="1990.0" cy="42.3" rx="12.8" ry="5.7" transform="rotate(-24 1989.4 41.7)" fill="#b8161c"/>
<ellipse cx="1723.9" cy="491.3" rx="21.1" ry="6.8" transform="rotate(-42 1723.9 491.3)" fill="rgb(79,70,70)"/>
<ellipse cx="1724.6" cy="490.4" rx="9.6" ry="4.7" transform="rotate(-42 1723.9 491.3)" fill="#9a1a20"/>
<ellipse cx="1647.8" cy="141.6" rx="20.7" ry="10.7" transform="rotate(-35 1647.8 141.6)" fill="rgb(85,75,75)"/>
<ellipse cx="1648.3" cy="140.7" rx="11.0" ry="7.1" transform="rotate(-35 1647.8 141.6)" fill="#f00000"/>
<ellipse cx="1976.0" cy="304.2" rx="20.2" ry="7.5" transform="rotate(-33 1976.0 304.2)" fill="rgb(61,58,58)"/>
<ellipse cx="1668.5" cy="472.3" rx="22.7" ry="6.8" transform="rotate(-32 1668.5 472.3)" fill="rgb(86,77,77)"/>
<ellipse cx="1666.6" cy="472.9" rx="13.3" ry="4.8" transform="rotate(-32 1668.5 472.3)" fill="#b8161c"/>
<ellipse cx="1784.8" cy="444.3" rx="15.1" ry="6.0" transform="rotate(-43 1784.8 444.3)" fill="rgb(57,61,61)"/>
<ellipse cx="1785.0" cy="443.9" rx="7.4" ry="3.9" transform="rotate(-43 1784.8 444.3)" fill="#a81818"/>
<ellipse cx="1821.0" cy="222.2" rx="22.8" ry="8.3" transform="rotate(-40 1821.0 222.2)" fill="rgb(71,75,75)"/>
<ellipse cx="1819.4" cy="223.0" rx="17.7" ry="5.0" transform="rotate(-40 1821.0 222.2)" fill="#a81818"/>
<ellipse cx="1585.3" cy="254.7" rx="19.4" ry="8.3" transform="rotate(-31 1585.3 254.7)" fill="rgb(83,80,80)"/>
<ellipse cx="1584.0" cy="255.2" rx="9.2" ry="5.8" transform="rotate(-31 1585.3 254.7)" fill="#c01414"/>
<ellipse cx="1685.7" cy="337.3" rx="21.2" ry="8.7" transform="rotate(-48 1685.7 337.3)" fill="rgb(66,61,61)"/>
<ellipse cx="1684.7" cy="337.8" rx="12.3" ry="4.7" transform="rotate(-48 1685.7 337.3)" fill="#b8161c"/>
<ellipse cx="2049.9" cy="409.4" rx="22.5" ry="6.3" transform="rotate(-13 2049.9 409.4)" fill="rgb(67,56,56)"/>
<ellipse cx="2048.0" cy="409.2" rx="13.0" ry="3.6" transform="rotate(-13 2049.9 409.4)" fill="#b8161c"/>
<ellipse cx="2132.3" cy="116.1" rx="19.6" ry="6.3" transform="rotate(-28 2132.3 116.1)" fill="rgb(62,63,63)"/>
<ellipse cx="2134.3" cy="115.5" rx="10.6" ry="3.2" transform="rotate(-28 2132.3 116.1)" fill="#b8161c"/>
<ellipse cx="2071.9" cy="535.6" rx="16.9" ry="7.4" transform="rotate(-27 2071.9 535.6)" fill="rgb(78,68,68)"/>
<ellipse cx="1879.0" cy="354.3" rx="14.3" ry="8.7" transform="rotate(-37 1879.0 354.3)" fill="rgb(62,62,62)"/>
<ellipse cx="1877.4" cy="354.8" rx="7.9" ry="4.3" transform="rotate(-37 1879.0 354.3)" fill="#9a1a20"/>
<ellipse cx="1499.6" cy="191.8" rx="25.4" ry="9.4" transform="rotate(-42 1499.6 191.8)" fill="rgb(90,79,79)"/>
<ellipse cx="1738.2" cy="446.1" rx="20.1" ry="5.8" transform="rotate(-21 1738.2 446.1)" fill="rgb(53,53,53)"/>
<ellipse cx="1739.1" cy="447.1" rx="14.8" ry="2.9" transform="rotate(-21 1738.2 446.1)" fill="#e80a0a"/>
<ellipse cx="1857.5" cy="539.0" rx="22.2" ry="8.6" transform="rotate(-40 1857.5 539.0)" fill="rgb(61,52,52)"/>
<ellipse cx="1858.3" cy="538.8" rx="13.1" ry="5.9" transform="rotate(-40 1857.5 539.0)" fill="#f00000"/>
<ellipse cx="2149.8" cy="210.8" rx="16.1" ry="8.3" transform="rotate(-40 2149.8 210.8)" fill="rgb(60,59,59)"/>
<ellipse cx="1790.2" cy="517.0" rx="14.0" ry="8.5" transform="rotate(-23 1790.2 517.0)" fill="rgb(92,86,86)"/>
<ellipse cx="1788.7" cy="517.7" rx="6.7" ry="5.0" transform="rotate(-23 1790.2 517.0)" fill="#b8161c"/>
<ellipse cx="1564.8" cy="108.6" rx="19.0" ry="8.0" transform="rotate(-34 1564.8 108.6)" fill="rgb(88,81,81)"/>
<ellipse cx="1753.8" cy="448.6" rx="19.4" ry="8.3" transform="rotate(-33 1753.8 448.6)" fill="rgb(95,90,90)"/>
<ellipse cx="1755.1" cy="448.9" rx="10.6" ry="4.9" transform="rotate(-33 1753.8 448.6)" fill="#f00000"/>
<ellipse cx="2152.7" cy="361.7" rx="18.7" ry="7.0" transform="rotate(-35 2152.7 361.7)" fill="rgb(70,61,61)"/>
<ellipse cx="2151.1" cy="362.4" rx="13.5" ry="4.5" transform="rotate(-35 2152.7 361.7)" fill="#9a1a20"/>
<ellipse cx="1525.5" cy="397.2" rx="22.8" ry="6.7" transform="rotate(-16 1525.5 397.2)" fill="rgb(62,51,51)"/>
<ellipse cx="1525.6" cy="396.8" rx="18.0" ry="3.8" transform="rotate(-16 1525.5 397.2)" fill="#9a1a20"/>
<ellipse cx="1831.1" cy="20.4" rx="16.5" ry="7.4" transform="rotate(-38 1831.1 20.4)" fill="rgb(77,69,69)"/>
<ellipse cx="1832.4" cy="21.2" rx="10.1" ry="3.9" transform="rotate(-38 1831.1 20.4)" fill="#b8161c"/>
<ellipse cx="2100.2" cy="89.8" rx="22.3" ry="6.8" transform="rotate(-38 2100.2 89.8)" fill="rgb(50,52,52)"/>
<ellipse cx="2099.6" cy="89.3" rx="14.5" ry="3.1" transform="rotate(-38 2100.2 89.8)" fill="#e80a0a"/>
<ellipse cx="1454.7" cy="546.2" rx="15.3" ry="7.2" transform="rotate(-51 1454.7 546.2)" fill="rgb(75,66,66)"/>
<ellipse cx="1455.2" cy="545.4" rx="10.1" ry="4.8" transform="rotate(-51 1454.7 546.2)" fill="#b8161c"/>
<ellipse cx="2140.1" cy="355.1" rx="22.2" ry="7.5" transform="rotate(-48 2140.1 355.1)" fill="rgb(83,87,87)"/>
<ellipse cx="2140.6" cy="355.9" rx="15.3" ry="4.7" transform="rotate(-48 2140.1 355.1)" fill="#b8161c"/>
<ellipse cx="1791.2" cy="81.7" rx="20.4" ry="7.2" transform="rotate(-36 1791.2 81.7)" fill="rgb(71,70,70)"/>
<ellipse cx="1623.6" cy="466.2" rx="15.5" ry="6.2" transform="rotate(-24 1623.6 466.2)" fill="rgb(66,54,54)"/>
<ellipse cx="1621.6" cy="466.3" rx="11.3" ry="3.0" transform="rotate(-24 1623.6 466.2)" fill="#9a1a20"/>
<ellipse cx="1445.7" cy="46.8" rx="15.9" ry="6.9" transform="rotate(-41 1445.7 46.8)" fill="rgb(58,51,51)"/>
<ellipse cx="1444.2" cy="46.8" rx="8.8" ry="3.8" transform="rotate(-41 1445.7 46.8)" fill="#a81818"/>
<ellipse cx="1801.8" cy="27.6" rx="21.8" ry="8.3" transform="rotate(-20 1801.8 27.6)" fill="rgb(93,82,82)"/>
<ellipse cx="1800.9" cy="27.1" rx="10.9" ry="4.8" transform="rotate(-20 1801.8 27.6)" fill="#d41212"/>
<ellipse cx="1468.3" cy="515.6" rx="13.4" ry="8.2" transform="rotate(-28 1468.3 515.6)" fill="rgb(62,54,54)"/>
<ellipse cx="1467.9" cy="516.6" rx="6.8" ry="3.9" transform="rotate(-28 1468.3 515.6)" fill="#9a1a20"/>
<ellipse cx="2078.0" cy="107.3" rx="18.4" ry="8.3" transform="rotate(-20 2078.0 107.3)" fill="rgb(80,81,81)"/>
<ellipse cx="2076.0" cy="107.0" rx="10.1" ry="5.4" transform="rotate(-20 2078.0 107.3)" fill="#c01414"/>
<ellipse cx="1995.0" cy="137.2" rx="16.1" ry="8.3" transform="rotate(-32 1995.0 137.2)" fill="rgb(86,87,87)"/>
<ellipse cx="1994.3" cy="137.8" rx="7.5" ry="5.2" transform="rotate(-32 1995.0 137.2)" fill="#f00000"/>
<ellipse cx="1503.1" cy="130.2" rx="27.7" ry="11.1" transform="rotate(-34 1503.1 130.2)" fill="rgb(70,74,74)"/>
<ellipse cx="1502.4" cy="130.4" rx="17.5" ry="7.9" transform="rotate(-34 1503.1 130.2)" fill="#f00000"/>
<ellipse cx="1567.8" cy="24.6" rx="25.9" ry="9.1" transform="rotate(-17 1567.8 24.6)" fill="rgb(77,71,71)"/>
<ellipse cx="1566.5" cy="24.6" rx="17.9" ry="5.2" transform="rotate(-17 1567.8 24.6)" fill="#d41212"/>
<ellipse cx="1632.7" cy="68.3" rx="22.6" ry="8.4" transform="rotate(-48 1632.7 68.3)" fill="rgb(70,74,74)"/>
<ellipse cx="1631.0" cy="69.0" rx="14.8" ry="5.5" transform="rotate(-48 1632.7 68.3)" fill="#f00000"/>
<ellipse cx="1658.4" cy="462.6" rx="21.9" ry="8.2" transform="rotate(-14 1658.4 462.6)" fill="rgb(95,88,88)"/>
<ellipse cx="1657.9" cy="463.2" rx="11.6" ry="5.5" transform="rotate(-14 1658.4 462.6)" fill="#a81818"/>
<ellipse cx="2082.6" cy="406.4" rx="18.0" ry="8.5" transform="rotate(-36 2082.6 406.4)" fill="rgb(68,72,72)"/>
<ellipse cx="2081.7" cy="405.5" rx="8.9" ry="5.4" transform="rotate(-36 2082.6 406.4)" fill="#f00000"/>
<ellipse cx="1743.5" cy="306.6" rx="20.1" ry="7.2" transform="rotate(-24 1743.5 306.6)" fill="rgb(89,79,79)"/>
<ellipse cx="1741.9" cy="305.8" rx="15.0" ry="4.9" transform="rotate(-24 1743.5 306.6)" fill="#f00000"/>
<ellipse cx="2003.7" cy="-0.9" rx="20.4" ry="9.0" transform="rotate(-25 2003.7 -0.9)" fill="rgb(66,58,58)"/>
<ellipse cx="2003.3" cy="-1.3" rx="9.2" ry="4.9" transform="rotate(-25 2003.7 -0.9)" fill="#a81818"/>
<ellipse cx="1813.7" cy="278.1" rx="17.2" ry="7.2" transform="rotate(-38 1813.7 278.1)" fill="rgb(91,80,80)"/>
<ellipse cx="1812.7" cy="277.2" rx="10.3" ry="3.5" transform="rotate(-38 1813.7 278.1)" fill="#c01414"/>
<ellipse cx="2021.0" cy="505.2" rx="17.9" ry="8.3" transform="rotate(-63 2021.0 505.2)" fill="rgb(76,71,71)"/>
<ellipse cx="2022.4" cy="506.2" rx="13.6" ry="4.6" transform="rotate(-63 2021.0 505.2)" fill="#c01414"/>
<ellipse cx="1612.2" cy="525.8" rx="22.7" ry="7.3" transform="rotate(-44 1612.2 525.8)" fill="rgb(49,53,53)"/>
<ellipse cx="1613.1" cy="525.5" rx="13.9" ry="4.5" transform="rotate(-44 1612.2 525.8)" fill="#d41212"/>
<ellipse cx="1540.5" cy="112.2" rx="20.5" ry="9.5" transform="rotate(-25 1540.5 112.2)" fill="rgb(68,71,71)"/>
<ellipse cx="1972.0" cy="154.0" rx="13.8" ry="6.5" transform="rotate(-33 1972.0 154.0)" fill="rgb(83,82,82)"/>
<ellipse cx="1973.8" cy="153.8" rx="7.2" ry="3.2" transform="rotate(-33 1972.0 154.0)" fill="#b8161c"/>
<ellipse cx="2066.5" cy="503.8" rx="14.5" ry="6.6" transform="rotate(-38 2066.5 503.8)" fill="rgb(89,89,89)"/>
<ellipse cx="2065.4" cy="504.0" rx="10.0" ry="3.3" transform="rotate(-38 2066.5 503.8)" fill="#9a1a20"/>
<ellipse cx="1572.5" cy="315.5" rx="21.8" ry="7.8" transform="rotate(-32 1572.5 315.5)" fill="rgb(76,70,70)"/>
<ellipse cx="1570.7" cy="316.1" rx="14.2" ry="4.7" transform="rotate(-32 1572.5 315.5)" fill="#a81818"/>
<ellipse cx="1528.9" cy="308.3" rx="15.7" ry="6.1" transform="rotate(-29 1528.9 308.3)" fill="rgb(101,89,89)"/>
<ellipse cx="1528.4" cy="308.3" rx="9.5" ry="3.6" transform="rotate(-29 1528.9 308.3)" fill="#c01414"/>
<ellipse cx="2081.5" cy="549.9" rx="19.8" ry="8.7" transform="rotate(-35 2081.5 549.9)" fill="rgb(65,58,58)"/>
<ellipse cx="2079.6" cy="549.1" rx="14.8" ry="5.2" transform="rotate(-35 2081.5 549.9)" fill="#c01414"/>
<ellipse cx="1763.0" cy="185.1" rx="24.6" ry="7.7" transform="rotate(-18 1763.0 185.1)" fill="rgb(86,77,77)"/>
<ellipse cx="1943.2" cy="310.2" rx="15.8" ry="8.0" transform="rotate(-46 1943.2 310.2)" fill="rgb(71,69,69)"/>
<ellipse cx="1625.4" cy="343.2" rx="18.8" ry="6.4" transform="rotate(-30 1625.4 343.2)" fill="rgb(86,81,81)"/>
<ellipse cx="1626.3" cy="343.4" rx="10.9" ry="4.5" transform="rotate(-30 1625.4 343.2)" fill="#c01414"/>
<ellipse cx="1837.1" cy="228.5" rx="18.2" ry="7.6" transform="rotate(-38 1837.1 228.5)" fill="rgb(84,84,84)"/>
<ellipse cx="1472.8" cy="373.5" rx="14.7" ry="7.4" transform="rotate(-40 1472.8 373.5)" fill="rgb(60,63,63)"/>
<ellipse cx="1473.6" cy="372.6" rx="10.3" ry="4.2" transform="rotate(-40 1472.8 373.5)" fill="#9a1a20"/>
<ellipse cx="2123.4" cy="55.2" rx="13.5" ry="5.8" transform="rotate(-53 2123.4 55.2)" fill="rgb(78,77,77)"/>
<ellipse cx="2123.7" cy="55.4" rx="9.0" ry="2.8" transform="rotate(-53 2123.4 55.2)" fill="#9a1a20"/>
<ellipse cx="1997.9" cy="69.8" rx="20.9" ry="7.0" transform="rotate(-27 1997.9 69.8)" fill="rgb(57,53,53)"/>
<ellipse cx="1999.0" cy="70.5" rx="11.9" ry="4.0" transform="rotate(-27 1997.9 69.8)" fill="#a81818"/>
<ellipse cx="2058.9" cy="356.4" rx="20.8" ry="8.5" transform="rotate(-34 2058.9 356.4)" fill="rgb(67,55,55)"/>
<ellipse cx="2057.6" cy="356.5" rx="12.0" ry="6.1" transform="rotate(-34 2058.9 356.4)" fill="#f00000"/>
<ellipse cx="1483.8" cy="42.7" rx="25.9" ry="9.9" transform="rotate(-50 1483.8 42.7)" fill="rgb(82,81,81)"/>
<ellipse cx="1482.0" cy="42.0" rx="12.7" ry="5.3" transform="rotate(-50 1483.8 42.7)" fill="#b8161c"/>
<ellipse cx="1912.5" cy="403.3" rx="22.5" ry="8.1" transform="rotate(-20 1912.5 403.3)" fill="rgb(79,82,82)"/>
<ellipse cx="1911.8" cy="403.1" rx="11.5" ry="4.2" transform="rotate(-20 1912.5 403.3)" fill="#a81818"/>
<ellipse cx="1946.7" cy="189.6" rx="19.6" ry="7.8" transform="rotate(-42 1946.7 189.6)" fill="rgb(87,88,88)"/>
<ellipse cx="1947.5" cy="189.6" rx="12.0" ry="4.0" transform="rotate(-42 1946.7 189.6)" fill="#b8161c"/>
<ellipse cx="1735.7" cy="291.3" rx="16.4" ry="7.3" transform="rotate(-30 1735.7 291.3)" fill="rgb(52,56,56)"/>
<ellipse cx="1734.6" cy="291.4" rx="13.0" ry="4.2" transform="rotate(-30 1735.7 291.3)" fill="#a81818"/>
<ellipse cx="1528.7" cy="256.3" rx="24.6" ry="8.3" transform="rotate(-34 1528.7 256.3)" fill="rgb(64,68,68)"/>
<ellipse cx="1530.0" cy="255.8" rx="12.4" ry="5.5" transform="rotate(-34 1528.7 256.3)" fill="#c01414"/>
<ellipse cx="1546.7" cy="192.6" rx="29.7" ry="12.6" transform="rotate(-49 1546.7 192.6)" fill="rgb(66,67,67)"/>
<ellipse cx="1547.0" cy="193.0" rx="14.0" ry="7.0" transform="rotate(-49 1546.7 192.6)" fill="#c01414"/>
<ellipse cx="1460.3" cy="157.5" rx="17.2" ry="8.0" transform="rotate(-29 1460.3 157.5)" fill="rgb(50,50,50)"/>
<ellipse cx="1459.0" cy="157.7" rx="8.5" ry="4.1" transform="rotate(-29 1460.3 157.5)" fill="#b8161c"/>
<ellipse cx="1842.1" cy="376.3" rx="17.9" ry="5.9" transform="rotate(-29 1842.1 376.3)" fill="rgb(80,80,80)"/>
<ellipse cx="1840.9" cy="376.3" rx="13.3" ry="4.1" transform="rotate(-29 1842.1 376.3)" fill="#a81818"/>
<ellipse cx="1436.6" cy="384.2" rx="22.2" ry="8.5" transform="rotate(-49 1436.6 384.2)" fill="rgb(80,81,81)"/>
<ellipse cx="1438.4" cy="383.2" rx="15.5" ry="4.1" transform="rotate(-49 1436.6 384.2)" fill="#a81818"/>
<ellipse cx="2039.9" cy="278.6" rx="18.3" ry="6.3" transform="rotate(-16 2039.9 278.6)" fill="rgb(65,55,55)"/>
<ellipse cx="2041.8" cy="278.5" rx="12.6" ry="3.9" transform="rotate(-16 2039.9 278.6)" fill="#b8161c"/>
<ellipse cx="1452.9" cy="427.1" rx="14.1" ry="5.6" transform="rotate(-58 1452.9 427.1)" fill="rgb(84,86,86)"/>
<ellipse cx="1451.6" cy="426.1" rx="9.2" ry="3.3" transform="rotate(-58 1452.9 427.1)" fill="#c01414"/>
<ellipse cx="1726.6" cy="53.6" rx="20.0" ry="7.8" transform="rotate(-30 1726.6 53.6)" fill="rgb(68,59,59)"/>
<ellipse cx="1727.4" cy="53.4" rx="13.6" ry="3.9" transform="rotate(-30 1726.6 53.6)" fill="#d41212"/>
<ellipse cx="1451.0" cy="408.7" rx="20.6" ry="8.7" transform="rotate(-36 1451.0 408.7)" fill="rgb(52,53,53)"/>
<ellipse cx="1451.2" cy="408.9" rx="15.6" ry="4.2" transform="rotate(-36 1451.0 408.7)" fill="#c01414"/>
<ellipse cx="2122.8" cy="311.5" rx="13.4" ry="7.3" transform="rotate(-20 2122.8 311.5)" fill="rgb(78,72,72)"/>
<ellipse cx="2123.2" cy="310.5" rx="9.5" ry="4.5" transform="rotate(-20 2122.8 311.5)" fill="#d41212"/>
<ellipse cx="1552.8" cy="290.2" rx="14.6" ry="7.7" transform="rotate(-7 1552.8 290.2)" fill="rgb(60,62,62)"/>
<ellipse cx="1552.2" cy="289.7" rx="8.0" ry="4.7" transform="rotate(-7 1552.8 290.2)" fill="#b8161c"/>
<ellipse cx="1863.9" cy="414.0" rx="15.2" ry="6.7" transform="rotate(-41 1863.9 414.0)" fill="rgb(62,56,56)"/>
<ellipse cx="1865.7" cy="414.7" rx="10.1" ry="4.3" transform="rotate(-41 1863.9 414.0)" fill="#9a1a20"/>
<ellipse cx="2055.1" cy="344.7" rx="16.1" ry="7.7" transform="rotate(-29 2055.1 344.7)" fill="rgb(86,74,74)"/>
<ellipse cx="2056.8" cy="345.4" rx="7.5" ry="4.4" transform="rotate(-29 2055.1 344.7)" fill="#9a1a20"/>
<ellipse cx="1717.9" cy="202.0" rx="21.2" ry="6.6" transform="rotate(-38 1717.9 202.0)" fill="rgb(89,80,80)"/>
<ellipse cx="1717.1" cy="201.3" rx="14.1" ry="4.7" transform="rotate(-38 1717.9 202.0)" fill="#c01414"/>
<ellipse cx="2002.0" cy="411.0" rx="17.6" ry="5.7" transform="rotate(-21 2002.0 411.0)" fill="rgb(80,78,78)"/>
<ellipse cx="2000.7" cy="410.8" rx="9.9" ry="2.8" transform="rotate(-21 2002.0 411.0)" fill="#f00000"/>
<ellipse cx="1709.2" cy="536.2" rx="14.0" ry="6.7" transform="rotate(-49 1709.2 536.2)" fill="rgb(56,50,50)"/>
<ellipse cx="1708.1" cy="537.0" rx="9.2" ry="3.1" transform="rotate(-49 1709.2 536.2)" fill="#d41212"/>
<ellipse cx="1991.1" cy="111.0" rx="13.8" ry="6.1" transform="rotate(-37 1991.1 111.0)" fill="rgb(70,71,71)"/>
<ellipse cx="1991.0" cy="111.0" rx="9.7" ry="3.3" transform="rotate(-37 1991.1 111.0)" fill="#b8161c"/>
<ellipse cx="1601.2" cy="444.2" rx="16.6" ry="6.7" transform="rotate(-41 1601.2 444.2)" fill="rgb(64,56,56)"/>
<ellipse cx="1599.7" cy="444.4" rx="11.5" ry="4.6" transform="rotate(-41 1601.2 444.2)" fill="#d41212"/>
<ellipse cx="1760.5" cy="468.5" rx="13.3" ry="8.0" transform="rotate(-27 1760.5 468.5)" fill="rgb(66,65,65)"/>
<ellipse cx="1763.5" cy="339.0" rx="20.8" ry="8.7" transform="rotate(-31 1763.5 339.0)" fill="rgb(95,88,88)"/>
<ellipse cx="1762.7" cy="340.0" rx="10.8" ry="4.2" transform="rotate(-31 1763.5 339.0)" fill="#a81818"/>
<ellipse cx="1542.3" cy="123.0" rx="20.6" ry="12.5" transform="rotate(-41 1542.3 123.0)" fill="rgb(99,87,87)"/>
<ellipse cx="1543.1" cy="123.5" rx="11.1" ry="6.7" transform="rotate(-41 1542.3 123.0)" fill="#b8161c"/>
<ellipse cx="1602.8" cy="0.3" rx="17.7" ry="8.4" transform="rotate(-38 1602.8 0.3)" fill="rgb(49,51,51)"/>
<ellipse cx="2152.6" cy="1.4" rx="22.8" ry="8.3" transform="rotate(-40 2152.6 1.4)" fill="rgb(46,50,50)"/>
<ellipse cx="1688.6" cy="199.6" rx="16.3" ry="9.2" transform="rotate(-41 1688.6 199.6)" fill="rgb(59,56,56)"/>
<ellipse cx="1689.7" cy="200.3" rx="10.5" ry="4.3" transform="rotate(-41 1688.6 199.6)" fill="#c01414"/>
<ellipse cx="1755.2" cy="40.2" rx="20.3" ry="8.1" transform="rotate(-37 1755.2 40.2)" fill="rgb(75,71,71)"/>
<ellipse cx="1756.3" cy="40.1" rx="11.5" ry="3.9" transform="rotate(-37 1755.2 40.2)" fill="#a81818"/>
<ellipse cx="1475.4" cy="112.4" rx="24.3" ry="8.8" transform="rotate(-28 1475.4 112.4)" fill="rgb(69,59,59)"/>
<ellipse cx="1475.8" cy="112.0" rx="13.6" ry="5.8" transform="rotate(-28 1475.4 112.4)" fill="#b8161c"/>
<ellipse cx="2048.5" cy="433.1" rx="19.8" ry="7.4" transform="rotate(-41 2048.5 433.1)" fill="rgb(54,55,55)"/>
<ellipse cx="2046.8" cy="432.5" rx="14.2" ry="3.8" transform="rotate(-41 2048.5 433.1)" fill="#e80a0a"/>
<ellipse cx="1603.7" cy="309.7" rx="13.7" ry="7.2" transform="rotate(-35 1603.7 309.7)" fill="rgb(65,58,58)"/>
<ellipse cx="1604.9" cy="309.7" rx="9.8" ry="5.0" transform="rotate(-35 1603.7 309.7)" fill="#a81818"/>
<ellipse cx="1709.8" cy="447.7" rx="16.8" ry="5.8" transform="rotate(-27 1709.8 447.7)" fill="rgb(85,81,81)"/>
<ellipse cx="1710.1" cy="447.6" rx="9.6" ry="3.7" transform="rotate(-27 1709.8 447.7)" fill="#e80a0a"/>
<ellipse cx="1553.4" cy="370.7" rx="16.8" ry="8.3" transform="rotate(-45 1553.4 370.7)" fill="rgb(62,54,54)"/>
<ellipse cx="1551.6" cy="370.5" rx="11.5" ry="5.6" transform="rotate(-45 1553.4 370.7)" fill="#c01414"/>
<ellipse cx="2085.3" cy="113.5" rx="16.7" ry="6.8" transform="rotate(-46 2085.3 113.5)" fill="rgb(71,71,71)"/>
<ellipse cx="2083.6" cy="113.2" rx="8.6" ry="3.3" transform="rotate(-46 2085.3 113.5)" fill="#e80a0a"/>
<ellipse cx="2022.5" cy="16.3" rx="22.7" ry="7.7" transform="rotate(-44 2022.5 16.3)" fill="rgb(68,61,61)"/>
<ellipse cx="2023.8" cy="17.2" rx="16.3" ry="5.3" transform="rotate(-44 2022.5 16.3)" fill="#c01414"/>
<ellipse cx="1884.6" cy="108.9" rx="21.5" ry="8.2" transform="rotate(-17 1884.6 108.9)" fill="rgb(51,50,50)"/>
<ellipse cx="1883.5" cy="109.8" rx="16.2" ry="4.9" transform="rotate(-17 1884.6 108.9)" fill="#d41212"/>
<ellipse cx="1556.9" cy="509.4" rx="15.4" ry="5.9" transform="rotate(-43 1556.9 509.4)" fill="rgb(64,53,53)"/>
<ellipse cx="1556.6" cy="508.9" rx="12.2" ry="4.0" transform="rotate(-43 1556.9 509.4)" fill="#c01414"/>
<ellipse cx="1819.6" cy="131.5" rx="14.5" ry="6.0" transform="rotate(-26 1819.6 131.5)" fill="rgb(81,71,71)"/>
<ellipse cx="1820.8" cy="130.7" rx="10.4" ry="4.2" transform="rotate(-26 1819.6 131.5)" fill="#9a1a20"/>
<ellipse cx="1436.2" cy="258.3" rx="17.1" ry="9.0" transform="rotate(-45 1436.2 258.3)" fill="rgb(87,84,84)"/>
<ellipse cx="1438.1" cy="257.9" rx="9.6" ry="4.5" transform="rotate(-45 1436.2 258.3)" fill="#e80a0a"/>
<ellipse cx="1618.4" cy="405.3" rx="16.4" ry="8.2" transform="rotate(-40 1618.4 405.3)" fill="rgb(69,63,63)"/>
<ellipse cx="1619.8" cy="405.3" rx="10.7" ry="4.6" transform="rotate(-40 1618.4 405.3)" fill="#b8161c"/>
<ellipse cx="1944.6" cy="38.9" rx="16.8" ry="5.8" transform="rotate(-36 1944.6 38.9)" fill="rgb(66,64,64)"/>
<ellipse cx="1944.1" cy="39.1" rx="11.6" ry="3.7" transform="rotate(-36 1944.6 38.9)" fill="#a81818"/>
<ellipse cx="2083.6" cy="478.6" rx="15.3" ry="5.9" transform="rotate(-31 2083.6 478.6)" fill="rgb(95,87,87)"/>
<ellipse cx="2084.2" cy="479.6" rx="10.0" ry="2.9" transform="rotate(-31 2083.6 478.6)" fill="#e80a0a"/>
<ellipse cx="1977.2" cy="516.4" rx="14.9" ry="8.6" transform="rotate(-27 1977.2 516.4)" fill="rgb(69,59,59)"/>
<ellipse cx="1975.7" cy="516.1" rx="8.1" ry="5.5" transform="rotate(-27 1977.2 516.4)" fill="#a81818"/>
<ellipse cx="1751.9" cy="163.6" rx="21.0" ry="9.6" transform="rotate(-31 1751.9 163.6)" fill="rgb(83,73,73)"/>
<ellipse cx="1751.9" cy="163.1" rx="16.6" ry="4.6" transform="rotate(-31 1751.9 163.6)" fill="#f00000"/>
<ellipse cx="1649.9" cy="429.0" rx="16.7" ry="7.0" transform="rotate(-35 1649.9 429.0)" fill="rgb(62,51,51)"/>
<ellipse cx="1648.7" cy="429.5" rx="10.8" ry="4.8" transform="rotate(-35 1649.9 429.0)" fill="#b8161c"/>
<ellipse cx="1832.1" cy="163.2" rx="21.9" ry="6.9" transform="rotate(-48 1832.1 163.2)" fill="rgb(88,88,88)"/>
<ellipse cx="1833.4" cy="162.5" rx="17.5" ry="4.2" transform="rotate(-48 1832.1 163.2)" fill="#d41212"/>
<ellipse cx="2078.2" cy="48.5" rx="19.5" ry="5.6" transform="rotate(-42 2078.2 48.5)" fill="rgb(90,78,78)"/>
<ellipse cx="1715.6" cy="185.7" rx="27.5" ry="7.8" transform="rotate(-46 1715.6 185.7)" fill="rgb(65,61,61)"/>
<ellipse cx="1714.8" cy="185.2" rx="16.4" ry="5.6" transform="rotate(-46 1715.6 185.7)" fill="#e80a0a"/>
<ellipse cx="1647.9" cy="158.8" rx="19.4" ry="9.8" transform="rotate(-31 1647.9 158.8)" fill="rgb(62,54,54)"/>
<ellipse cx="1648.1" cy="159.7" rx="11.7" ry="6.0" transform="rotate(-31 1647.9 158.8)" fill="#9a1a20"/>
<ellipse cx="2016.2" cy="379.2" rx="14.9" ry="7.1" transform="rotate(-33 2016.2 379.2)" fill="rgb(85,80,80)"/>
<ellipse cx="2016.2" cy="379.1" rx="11.6" ry="3.5" transform="rotate(-33 2016.2 379.2)" fill="#b8161c"/>
<ellipse cx="1931.6" cy="458.0" rx="22.9" ry="6.7" transform="rotate(-41 1931.6 458.0)" fill="rgb(55,54,54)"/>
<ellipse cx="1931.1" cy="458.6" rx="11.9" ry="4.5" transform="rotate(-41 1931.6 458.0)" fill="#c01414"/>
<ellipse cx="1852.3" cy="523.9" rx="16.6" ry="7.2" transform="rotate(-17 1852.3 523.9)" fill="rgb(83,85,85)"/>
<ellipse cx="1853.2" cy="523.3" rx="10.2" ry="4.5" transform="rotate(-17 1852.3 523.9)" fill="#9a1a20"/>
<ellipse cx="1668.6" cy="333.0" rx="15.7" ry="7.6" transform="rotate(-36 1668.6 333.0)" fill="rgb(68,56,56)"/>
<ellipse cx="1667.1" cy="332.9" rx="9.1" ry="4.4" transform="rotate(-36 1668.6 333.0)" fill="#e80a0a"/>
<ellipse cx="1478.9" cy="32.2" rx="19.5" ry="9.0" transform="rotate(-30 1478.9 32.2)" fill="rgb(70,61,61)"/>
<ellipse cx="2119.2" cy="520.7" rx="17.2" ry="7.8" transform="rotate(-34 2119.2 520.7)" fill="rgb(57,59,59)"/>
<ellipse cx="2117.9" cy="521.3" rx="10.6" ry="3.8" transform="rotate(-34 2119.2 520.7)" fill="#f00000"/>
<ellipse cx="1763.7" cy="320.5" rx="20.6" ry="7.6" transform="rotate(-20 1763.7 320.5)" fill="rgb(69,65,65)"/>
<ellipse cx="1764.5" cy="321.4" rx="12.6" ry="4.5" transform="rotate(-20 1763.7 320.5)" fill="#b8161c"/>
<ellipse cx="2095.4" cy="482.7" rx="19.0" ry="8.2" transform="rotate(-39 2095.4 482.7)" fill="rgb(58,54,54)"/>
<ellipse cx="2097.2" cy="482.1" rx="10.9" ry="4.1" transform="rotate(-39 2095.4 482.7)" fill="#c01414"/>
<ellipse cx="2134.1" cy="493.8" rx="15.5" ry="6.2" transform="rotate(-53 2134.1 493.8)" fill="rgb(66,58,58)"/>
<ellipse cx="2134.7" cy="493.3" rx="8.4" ry="3.9" transform="rotate(-53 2134.1 493.8)" fill="#d41212"/>
<ellipse cx="1745.5" cy="31.9" rx="14.1" ry="7.7" transform="rotate(-45 1745.5 31.9)" fill="rgb(64,56,56)"/>
<ellipse cx="1629.1" cy="274.7" rx="21.8" ry="7.5" transform="rotate(-56 1629.1 274.7)" fill="rgb(92,85,85)"/>
<ellipse cx="1629.2" cy="274.1" rx="12.3" ry="3.7" transform="rotate(-56 1629.1 274.7)" fill="#c01414"/>
<ellipse cx="1892.0" cy="310.5" rx="20.3" ry="6.7" transform="rotate(-31 1892.0 310.5)" fill="rgb(62,54,54)"/>
<ellipse cx="1837.6" cy="238.1" rx="15.7" ry="6.4" transform="rotate(-50 1837.6 238.1)" fill="rgb(55,52,52)"/>
<ellipse cx="1837.6" cy="238.5" rx="12.5" ry="3.7" transform="rotate(-50 1837.6 238.1)" fill="#e80a0a"/>
<ellipse cx="1489.1" cy="469.1" rx="14.4" ry="7.1" transform="rotate(-33 1489.1 469.1)" fill="rgb(63,54,54)"/>
<ellipse cx="1487.8" cy="469.2" rx="11.4" ry="4.1" transform="rotate(-33 1489.1 469.1)" fill="#b8161c"/>
<ellipse cx="1657.2" cy="82.0" rx="29.1" ry="10.2" transform="rotate(-22 1657.2 82.0)" fill="rgb(58,50,50)"/>
<ellipse cx="1961.0" cy="218.2" rx="17.5" ry="6.7" transform="rotate(-49 1961.0 218.2)" fill="rgb(86,77,77)"/>
<ellipse cx="1882.6" cy="162.2" rx="18.1" ry="8.5" transform="rotate(-39 1882.6 162.2)" fill="rgb(85,76,76)"/>
<ellipse cx="1882.1" cy="162.8" rx="14.0" ry="4.0" transform="rotate(-39 1882.6 162.2)" fill="#b8161c"/>
<ellipse cx="2122.0" cy="21.9" rx="16.2" ry="6.3" transform="rotate(-22 2122.0 21.9)" fill="rgb(83,82,82)"/>
<ellipse cx="1997.2" cy="189.7" rx="19.3" ry="7.3" transform="rotate(-33 1997.2 189.7)" fill="rgb(47,50,50)"/>
<ellipse cx="1995.6" cy="189.8" rx="14.3" ry="4.4" transform="rotate(-33 1997.2 189.7)" fill="#9a1a20"/>
<ellipse cx="1872.2" cy="64.3" rx="22.2" ry="6.1" transform="rotate(-23 1872.2 64.3)" fill="rgb(87,81,81)"/>
<ellipse cx="1870.3" cy="65.1" rx="12.1" ry="4.2" transform="rotate(-23 1872.2 64.3)" fill="#a81818"/>
<ellipse cx="1630.1" cy="190.4" rx="30.4" ry="11.7" transform="rotate(-41 1630.1 190.4)" fill="rgb(82,80,80)"/>
<ellipse cx="1883.3" cy="93.7" rx="13.0" ry="7.3" transform="rotate(-23 1883.3 93.7)" fill="rgb(48,50,50)"/>
<ellipse cx="1882.5" cy="94.6" rx="10.1" ry="4.3" transform="rotate(-23 1883.3 93.7)" fill="#b8161c"/>
<ellipse cx="1494.2" cy="410.9" rx="16.2" ry="7.4" transform="rotate(-38 1494.2 410.9)" fill="rgb(56,57,57)"/>
<ellipse cx="1493.2" cy="410.0" rx="8.3" ry="3.4" transform="rotate(-38 1494.2 410.9)" fill="#a81818"/>
<ellipse cx="1691.7" cy="25.1" rx="23.8" ry="7.0" transform="rotate(-39 1691.7 25.1)" fill="rgb(88,86,86)"/>
<ellipse cx="1638.5" cy="410.6" rx="19.2" ry="6.9" transform="rotate(-40 1638.5 410.6)" fill="rgb(53,52,52)"/>
<ellipse cx="1639.0" cy="411.0" rx="13.7" ry="3.2" transform="rotate(-40 1638.5 410.6)" fill="#c01414"/>
<ellipse cx="1933.3" cy="372.7" rx="15.3" ry="6.0" transform="rotate(-41 1933.3 372.7)" fill="rgb(80,79,79)"/>
<ellipse cx="1934.2" cy="372.2" rx="10.6" ry="2.8" transform="rotate(-41 1933.3 372.7)" fill="#b8161c"/>
<ellipse cx="1714.1" cy="405.6" rx="17.5" ry="5.8" transform="rotate(-36 1714.1 405.6)" fill="rgb(76,67,67)"/>
<ellipse cx="1715.8" cy="406.3" rx="10.9" ry="4.0" transform="rotate(-36 1714.1 405.6)" fill="#9a1a20"/>
<ellipse cx="2053.2" cy="81.1" rx="19.1" ry="7.9" transform="rotate(-30 2053.2 81.1)" fill="rgb(100,89,89)"/>
<ellipse cx="1709.8" cy="373.8" rx="18.3" ry="6.8" transform="rotate(-31 1709.8 373.8)" fill="rgb(68,72,72)"/>
<ellipse cx="1711.3" cy="373.7" rx="10.5" ry="3.3" transform="rotate(-31 1709.8 373.8)" fill="#e80a0a"/>
<ellipse cx="1886.2" cy="173.5" rx="19.9" ry="7.5" transform="rotate(-46 1886.2 173.5)" fill="rgb(77,67,67)"/>
<ellipse cx="1887.7" cy="173.9" rx="13.8" ry="4.9" transform="rotate(-46 1886.2 173.5)" fill="#c01414"/>
<ellipse cx="1641.7" cy="355.7" rx="14.9" ry="7.8" transform="rotate(-26 1641.7 355.7)" fill="rgb(70,60,60)"/>
<ellipse cx="1652.2" cy="496.7" rx="14.9" ry="7.3" transform="rotate(-32 1652.2 496.7)" fill="rgb(54,56,56)"/>
<ellipse cx="1650.3" cy="495.8" rx="10.6" ry="3.9" transform="rotate(-32 1652.2 496.7)" fill="#c01414"/>
<ellipse cx="1949.6" cy="390.6" rx="17.5" ry="6.7" transform="rotate(-35 1949.6 390.6)" fill="rgb(75,77,77)"/>
<ellipse cx="1948.9" cy="390.9" rx="13.5" ry="4.8" transform="rotate(-35 1949.6 390.6)" fill="#e80a0a"/>
<ellipse cx="1674.4" cy="417.2" rx="13.5" ry="6.3" transform="rotate(-20 1674.4 417.2)" fill="rgb(80,73,73)"/>
<ellipse cx="1676.4" cy="417.5" rx="7.4" ry="4.2" transform="rotate(-20 1674.4 417.2)" fill="#c01414"/>
<ellipse cx="1966.5" cy="366.1" rx="20.9" ry="8.1" transform="rotate(-45 1966.5 366.1)" fill="rgb(81,72,72)"/>
<ellipse cx="1968.2" cy="365.9" rx="16.4" ry="5.8" transform="rotate(-45 1966.5 366.1)" fill="#a81818"/>
<ellipse cx="1565.7" cy="454.2" rx="14.9" ry="5.9" transform="rotate(-39 1565.7 454.2)" fill="rgb(88,89,89)"/>
<ellipse cx="1472.5" cy="530.9" rx="19.4" ry="8.1" transform="rotate(-32 1472.5 530.9)" fill="rgb(63,65,65)"/>
<ellipse cx="1474.4" cy="531.2" rx="13.5" ry="4.2" transform="rotate(-32 1472.5 530.9)" fill="#c01414"/>
<ellipse cx="1879.9" cy="286.7" rx="16.3" ry="8.5" transform="rotate(-48 1879.9 286.7)" fill="rgb(73,62,62)"/>
<ellipse cx="1881.7" cy="286.3" rx="7.4" ry="5.2" transform="rotate(-48 1879.9 286.7)" fill="#a81818"/>
<ellipse cx="1597.1" cy="416.6" rx="18.9" ry="5.9" transform="rotate(-63 1597.1 416.6)" fill="rgb(51,50,50)"/>
<ellipse cx="1595.5" cy="416.7" rx="9.6" ry="3.5" transform="rotate(-63 1597.1 416.6)" fill="#a81818"/>
<ellipse cx="1599.3" cy="499.7" rx="21.4" ry="6.7" transform="rotate(-32 1599.3 499.7)" fill="rgb(89,81,81)"/>
<ellipse cx="1600.4" cy="499.1" rx="12.8" ry="4.3" transform="rotate(-32 1599.3 499.7)" fill="#c01414"/>
<ellipse cx="1451.4" cy="186.7" rx="22.6" ry="8.6" transform="rotate(-32 1451.4 186.7)" fill="rgb(79,71,71)"/>
<ellipse cx="1451.7" cy="186.0" rx="15.7" ry="5.9" transform="rotate(-32 1451.4 186.7)" fill="#d41212"/>
<ellipse cx="2127.5" cy="547.9" rx="20.3" ry="5.9" transform="rotate(-25 2127.5 547.9)" fill="rgb(62,55,55)"/>
<ellipse cx="2129.3" cy="547.7" rx="9.7" ry="3.3" transform="rotate(-25 2127.5 547.9)" fill="#e80a0a"/>
<ellipse cx="1528.1" cy="181.9" rx="27.6" ry="12.6" transform="rotate(-16 1528.1 181.9)" fill="rgb(58,58,58)"/>
<ellipse cx="1528.9" cy="182.4" rx="19.8" ry="6.4" transform="rotate(-16 1528.1 181.9)" fill="#b8161c"/>
<ellipse cx="1671.1" cy="261.0" rx="21.6" ry="8.0" transform="rotate(-22 1671.1 261.0)" fill="rgb(84,74,74)"/>
<ellipse cx="1670.7" cy="261.9" rx="10.6" ry="4.5" transform="rotate(-22 1671.1 261.0)" fill="#d41212"/>
<ellipse cx="1648.1" cy="363.3" rx="18.4" ry="6.5" transform="rotate(-34 1648.1 363.3)" fill="rgb(73,73,73)"/>
<ellipse cx="1649.0" cy="362.7" rx="11.0" ry="3.4" transform="rotate(-34 1648.1 363.3)" fill="#b8161c"/>
<ellipse cx="1904.6" cy="133.2" rx="18.2" ry="7.2" transform="rotate(-38 1904.6 133.2)" fill="rgb(72,73,73)"/>
<ellipse cx="1905.1" cy="132.6" rx="13.7" ry="4.4" transform="rotate(-38 1904.6 133.2)" fill="#d41212"/>
<ellipse cx="1620.3" cy="456.7" rx="15.6" ry="6.7" transform="rotate(-47 1620.3 456.7)" fill="rgb(56,52,52)"/>
<ellipse cx="1621.9" cy="456.8" rx="9.3" ry="4.0" transform="rotate(-47 1620.3 456.7)" fill="#c01414"/>
<ellipse cx="1733.6" cy="221.4" rx="18.7" ry="7.0" transform="rotate(-46 1733.6 221.4)" fill="rgb(62,62,62)"/>
<ellipse cx="1734.6" cy="221.1" rx="13.5" ry="4.5" transform="rotate(-46 1733.6 221.4)" fill="#d41212"/>
<ellipse cx="1941.6" cy="535.9" rx="21.5" ry="6.3" transform="rotate(-35 1941.6 535.9)" fill="rgb(58,50,50)"/>
<ellipse cx="1942.5" cy="535.2" rx="14.1" ry="3.4" transform="rotate(-35 1941.6 535.9)" fill="#a81818"/>
<ellipse cx="1845.1" cy="255.7" rx="15.9" ry="6.7" transform="rotate(-38 1845.1 255.7)" fill="rgb(82,74,74)"/>
<ellipse cx="1843.7" cy="256.5" rx="8.9" ry="3.5" transform="rotate(-38 1845.1 255.7)" fill="#e80a0a"/>
<ellipse cx="1508.5" cy="7.9" rx="16.2" ry="8.8" transform="rotate(-26 1508.5 7.9)" fill="rgb(94,89,89)"/>
<ellipse cx="1510.3" cy="7.2" rx="12.3" ry="5.2" transform="rotate(-26 1508.5 7.9)" fill="#a81818"/>
<ellipse cx="1610.9" cy="164.0" rx="32.6" ry="9.1" transform="rotate(-25 1610.9 164.0)" fill="rgb(59,55,55)"/>
<ellipse cx="1609.7" cy="164.7" rx="24.4" ry="4.5" transform="rotate(-25 1610.9 164.0)" fill="#9a1a20"/>
<ellipse cx="2008.1" cy="352.4" rx="22.0" ry="7.4" transform="rotate(-31 2008.1 352.4)" fill="rgb(88,87,87)"/>
<ellipse cx="2008.4" cy="352.9" rx="15.2" ry="4.3" transform="rotate(-31 2008.1 352.4)" fill="#d41212"/>
<ellipse cx="1752.5" cy="534.9" rx="13.6" ry="6.4" transform="rotate(-40 1752.5 534.9)" fill="rgb(75,74,74)"/>
<ellipse cx="1752.0" cy="534.2" rx="8.0" ry="3.2" transform="rotate(-40 1752.5 534.9)" fill="#a81818"/>
<ellipse cx="2141.7" cy="65.0" rx="22.8" ry="7.4" transform="rotate(-35 2141.7 65.0)" fill="rgb(74,64,64)"/>
<ellipse cx="2140.4" cy="64.8" rx="15.8" ry="5.3" transform="rotate(-35 2141.7 65.0)" fill="#b8161c"/>
<ellipse cx="1773.9" cy="193.0" rx="16.8" ry="7.3" transform="rotate(-39 1773.9 193.0)" fill="rgb(77,80,80)"/>
<ellipse cx="1772.4" cy="192.5" rx="8.4" ry="4.9" transform="rotate(-39 1773.9 193.0)" fill="#e80a0a"/>
<ellipse cx="2148.4" cy="20.9" rx="22.4" ry="7.5" transform="rotate(-29 2148.4 20.9)" fill="rgb(70,59,59)"/>
<ellipse cx="2147.5" cy="20.4" rx="17.5" ry="4.3" transform="rotate(-29 2148.4 20.9)" fill="#d41212"/>
<ellipse cx="1487.4" cy="266.5" rx="20.2" ry="7.1" transform="rotate(-31 1487.4 266.5)" fill="rgb(86,89,89)"/>
<ellipse cx="1487.9" cy="267.1" rx="13.0" ry="5.1" transform="rotate(-31 1487.4 266.5)" fill="#9a1a20"/>
<ellipse cx="1968.0" cy="138.8" rx="20.0" ry="8.7" transform="rotate(-43 1968.0 138.8)" fill="rgb(61,62,62)"/>
<ellipse cx="1967.6" cy="138.4" rx="13.3" ry="4.8" transform="rotate(-43 1968.0 138.8)" fill="#b8161c"/>
<ellipse cx="1704.8" cy="461.7" rx="14.1" ry="6.7" transform="rotate(-31 1704.8 461.7)" fill="rgb(54,55,55)"/>
<ellipse cx="1704.6" cy="460.8" rx="7.2" ry="3.8" transform="rotate(-31 1704.8 461.7)" fill="#c01414"/>
<ellipse cx="1787.3" cy="69.2" rx="16.3" ry="7.4" transform="rotate(-48 1787.3 69.2)" fill="rgb(59,61,61)"/>
<ellipse cx="1785.5" cy="68.4" rx="11.6" ry="3.8" transform="rotate(-48 1787.3 69.2)" fill="#e80a0a"/>
<ellipse cx="1771.3" cy="62.7" rx="20.3" ry="8.6" transform="rotate(-30 1771.3 62.7)" fill="rgb(60,60,60)"/>
<ellipse cx="1770.3" cy="62.8" rx="15.7" ry="5.8" transform="rotate(-30 1771.3 62.7)" fill="#9a1a20"/>
<ellipse cx="1745.0" cy="5.7" rx="16.0" ry="7.6" transform="rotate(-41 1745.0 5.7)" fill="rgb(84,87,87)"/>
<ellipse cx="1744.9" cy="5.1" rx="7.8" ry="3.9" transform="rotate(-41 1745.0 5.7)" fill="#9a1a20"/>
<ellipse cx="2064.3" cy="235.6" rx="13.4" ry="6.6" transform="rotate(-55 2064.3 235.6)" fill="rgb(77,78,78)"/>
<ellipse cx="2063.4" cy="235.1" rx="6.5" ry="4.5" transform="rotate(-55 2064.3 235.6)" fill="#e80a0a"/>
<ellipse cx="1701.4" cy="437.7" rx="21.1" ry="6.2" transform="rotate(-34 1701.4 437.7)" fill="rgb(84,86,86)"/>
<ellipse cx="1702.3" cy="438.5" rx="9.8" ry="3.6" transform="rotate(-34 1701.4 437.7)" fill="#f00000"/>
<ellipse cx="1824.5" cy="143.9" rx="19.4" ry="6.7" transform="rotate(-23 1824.5 143.9)" fill="rgb(51,52,52)"/>
<ellipse cx="1826.0" cy="144.7" rx="15.4" ry="3.8" transform="rotate(-23 1824.5 143.9)" fill="#c01414"/>
<ellipse cx="2045.8" cy="480.7" rx="22.6" ry="8.3" transform="rotate(-37 2045.8 480.7)" fill="rgb(91,84,84)"/>
<ellipse cx="2045.0" cy="481.5" rx="16.1" ry="4.2" transform="rotate(-37 2045.8 480.7)" fill="#a81818"/>
<ellipse cx="1781.7" cy="227.7" rx="13.4" ry="6.2" transform="rotate(-34 1781.7 227.7)" fill="rgb(85,82,82)"/>
<ellipse cx="1779.9" cy="228.5" rx="6.9" ry="3.3" transform="rotate(-34 1781.7 227.7)" fill="#9a1a20"/>
<ellipse cx="2108.9" cy="172.0" rx="20.6" ry="5.6" transform="rotate(-27 2108.9 172.0)" fill="rgb(66,66,66)"/>
<ellipse cx="2108.8" cy="171.1" rx="11.8" ry="2.6" transform="rotate(-27 2108.9 172.0)" fill="#b8161c"/>
<ellipse cx="1522.2" cy="14.0" rx="17.3" ry="7.9" transform="rotate(-42 1522.2 14.0)" fill="rgb(60,59,59)"/>
<ellipse cx="1523.8" cy="14.2" rx="12.1" ry="4.1" transform="rotate(-42 1522.2 14.0)" fill="#b8161c"/>
<ellipse cx="2101.9" cy="346.7" rx="21.3" ry="6.6" transform="rotate(-7 2101.9 346.7)" fill="rgb(90,79,79)"/>
<ellipse cx="2103.9" cy="346.0" rx="10.4" ry="4.2" transform="rotate(-7 2101.9 346.7)" fill="#f00000"/>
<ellipse cx="1600.1" cy="22.5" rx="24.4" ry="8.8" transform="rotate(-31 1600.1 22.5)" fill="rgb(56,56,56)"/>
<ellipse cx="1598.9" cy="21.5" rx="13.3" ry="5.8" transform="rotate(-31 1600.1 22.5)" fill="#b8161c"/>
<ellipse cx="1498.4" cy="290.1" rx="19.1" ry="8.0" transform="rotate(-29 1498.4 290.1)" fill="rgb(88,80,80)"/>
<ellipse cx="1497.0" cy="290.1" rx="10.5" ry="5.2" transform="rotate(-29 1498.4 290.1)" fill="#b8161c"/>
<ellipse cx="1832.3" cy="284.7" rx="20.4" ry="5.6" transform="rotate(-33 1832.3 284.7)" fill="rgb(73,66,66)"/>
<ellipse cx="1542.4" cy="262.9" rx="20.5" ry="9.3" transform="rotate(-34 1542.4 262.9)" fill="rgb(63,64,64)"/>
<ellipse cx="1540.5" cy="262.7" rx="15.6" ry="6.1" transform="rotate(-34 1542.4 262.9)" fill="#d41212"/>
<ellipse cx="1974.7" cy="218.4" rx="22.8" ry="7.6" transform="rotate(-27 1974.7 218.4)" fill="rgb(76,80,80)"/>
<ellipse cx="1975.1" cy="218.7" rx="13.0" ry="5.0" transform="rotate(-27 1974.7 218.4)" fill="#b8161c"/>
<ellipse cx="1921.0" cy="2.3" rx="21.7" ry="8.9" transform="rotate(-28 1921.0 2.3)" fill="rgb(56,59,59)"/>
<ellipse cx="1920.2" cy="1.8" rx="16.4" ry="5.2" transform="rotate(-28 1921.0 2.3)" fill="#f00000"/>
<ellipse cx="2034.5" cy="114.4" rx="22.0" ry="7.1" transform="rotate(-31 2034.5 114.4)" fill="rgb(81,73,73)"/>
<ellipse cx="2033.7" cy="478.5" rx="20.3" ry="7.2" transform="rotate(-19 2033.7 478.5)" fill="rgb(91,88,88)"/>
<ellipse cx="2033.4" cy="477.8" rx="12.6" ry="4.2" transform="rotate(-19 2033.7 478.5)" fill="#e80a0a"/>
<ellipse cx="1526.6" cy="474.0" rx="22.0" ry="6.9" transform="rotate(-38 1526.6 474.0)" fill="rgb(73,73,73)"/>
<ellipse cx="1525.0" cy="474.9" rx="16.0" ry="4.8" transform="rotate(-38 1526.6 474.0)" fill="#d41212"/>
<ellipse cx="1771.2" cy="129.0" rx="22.7" ry="6.0" transform="rotate(-46 1771.2 129.0)" fill="rgb(80,73,73)"/>
<ellipse cx="1770.0" cy="129.6" rx="13.4" ry="3.2" transform="rotate(-46 1771.2 129.0)" fill="#f00000"/>
<ellipse cx="2133.1" cy="322.8" rx="19.6" ry="6.4" transform="rotate(-32 2133.1 322.8)" fill="rgb(83,84,84)"/>
<ellipse cx="2133.9" cy="321.9" rx="14.0" ry="4.1" transform="rotate(-32 2133.1 322.8)" fill="#e80a0a"/>
<ellipse cx="1540.7" cy="144.9" rx="26.1" ry="9.6" transform="rotate(-28 1540.7 144.9)" fill="rgb(85,86,86)"/>
<ellipse cx="1540.2" cy="145.6" rx="13.6" ry="6.9" transform="rotate(-28 1540.7 144.9)" fill="#e80a0a"/>
<ellipse cx="1814.4" cy="416.1" rx="20.3" ry="9.0" transform="rotate(-21 1814.4 416.1)" fill="rgb(84,74,74)"/>
<ellipse cx="2101.4" cy="210.5" rx="20.7" ry="8.7" transform="rotate(-44 2101.4 210.5)" fill="rgb(58,53,53)"/>
<ellipse cx="2101.0" cy="210.5" rx="12.3" ry="4.6" transform="rotate(-44 2101.4 210.5)" fill="#e80a0a"/>
<ellipse cx="1561.6" cy="529.0" rx="22.7" ry="8.8" transform="rotate(-32 1561.6 529.0)" fill="rgb(60,53,53)"/>
<ellipse cx="1902.2" cy="204.8" rx="19.3" ry="7.5" transform="rotate(-43 1902.2 204.8)" fill="rgb(75,77,77)"/>
<ellipse cx="1900.9" cy="204.2" rx="14.9" ry="4.5" transform="rotate(-43 1902.2 204.8)" fill="#a81818"/>
<ellipse cx="2098.1" cy="283.4" rx="19.0" ry="7.5" transform="rotate(-28 2098.1 283.4)" fill="rgb(73,61,61)"/>
<ellipse cx="2097.0" cy="282.4" rx="13.5" ry="4.5" transform="rotate(-28 2098.1 283.4)" fill="#d41212"/>
<ellipse cx="1980.9" cy="319.2" rx="22.7" ry="7.5" transform="rotate(-26 1980.9 319.2)" fill="rgb(82,81,81)"/>
<ellipse cx="1982.6" cy="318.4" rx="16.4" ry="4.7" transform="rotate(-26 1980.9 319.2)" fill="#f00000"/>
<ellipse cx="1803.0" cy="453.9" rx="21.6" ry="5.9" transform="rotate(-7 1803.0 453.9)" fill="rgb(68,60,60)"/>
<ellipse cx="1802.5" cy="454.5" rx="10.6" ry="3.5" transform="rotate(-7 1803.0 453.9)" fill="#c01414"/>
<ellipse cx="1464.6" cy="429.4" rx="14.6" ry="8.0" transform="rotate(-23 1464.6 429.4)" fill="rgb(101,89,89)"/>
<ellipse cx="1466.2" cy="430.3" rx="6.7" ry="4.8" transform="rotate(-23 1464.6 429.4)" fill="#9a1a20"/>
<ellipse cx="1780.3" cy="210.7" rx="16.8" ry="8.9" transform="rotate(-32 1780.3 210.7)" fill="rgb(69,73,73)"/>
<ellipse cx="1778.9" cy="210.9" rx="12.8" ry="6.4" transform="rotate(-32 1780.3 210.7)" fill="#c01414"/>
<ellipse cx="1594.5" cy="483.2" rx="13.8" ry="6.8" transform="rotate(-40 1594.5 483.2)" fill="rgb(63,56,56)"/>
<ellipse cx="1594.0" cy="483.0" rx="9.7" ry="4.1" transform="rotate(-40 1594.5 483.2)" fill="#a81818"/>
<ellipse cx="2131.1" cy="480.6" rx="21.7" ry="5.6" transform="rotate(-35 2131.1 480.6)" fill="rgb(74,71,71)"/>
<ellipse cx="2129.7" cy="481.4" rx="11.1" ry="2.8" transform="rotate(-35 2131.1 480.6)" fill="#d41212"/>
<ellipse cx="1565.1" cy="296.2" rx="21.4" ry="7.2" transform="rotate(-26 1565.1 296.2)" fill="rgb(77,77,77)"/>
<ellipse cx="1563.3" cy="297.2" rx="13.9" ry="3.5" transform="rotate(-26 1565.1 296.2)" fill="#e80a0a"/>
<ellipse cx="1932.7" cy="439.5" rx="17.5" ry="7.9" transform="rotate(-34 1932.7 439.5)" fill="rgb(53,53,53)"/>
<ellipse cx="1934.5" cy="440.2" rx="10.0" ry="3.8" transform="rotate(-34 1932.7 439.5)" fill="#9a1a20"/>
<ellipse cx="1643.3" cy="488.2" rx="15.5" ry="8.1" transform="rotate(-27 1643.3 488.2)" fill="rgb(54,50,50)"/>
<ellipse cx="1643.9" cy="487.7" rx="11.4" ry="4.5" transform="rotate(-27 1643.3 488.2)" fill="#f00000"/>
<ellipse cx="1596.5" cy="282.3" rx="18.7" ry="6.6" transform="rotate(-29 1596.5 282.3)" fill="rgb(90,89,89)"/>
<ellipse cx="1597.1" cy="282.2" rx="10.5" ry="4.4" transform="rotate(-29 1596.5 282.3)" fill="#c01414"/>
<ellipse cx="2148.9" cy="141.4" rx="21.3" ry="6.8" transform="rotate(-25 2148.9 141.4)" fill="rgb(85,81,81)"/>
<ellipse cx="2148.2" cy="142.1" rx="13.8" ry="3.4" transform="rotate(-25 2148.9 141.4)" fill="#c01414"/>
<ellipse cx="2140.0" cy="420.7" rx="22.5" ry="8.1" transform="rotate(-23 2140.0 420.7)" fill="rgb(74,73,73)"/>
<ellipse cx="1628.7" cy="47.2" rx="19.6" ry="10.1" transform="rotate(-14 1628.7 47.2)" fill="rgb(95,85,85)"/>
<ellipse cx="1627.3" cy="47.5" rx="15.5" ry="6.9" transform="rotate(-14 1628.7 47.2)" fill="#f00000"/>
<ellipse cx="2105.1" cy="14.9" rx="18.4" ry="9.0" transform="rotate(-47 2105.1 14.9)" fill="rgb(69,71,71)"/>
<ellipse cx="2104.4" cy="15.7" rx="9.7" ry="4.3" transform="rotate(-47 2105.1 14.9)" fill="#a81818"/>
<ellipse cx="2011.5" cy="440.4" rx="16.4" ry="7.1" transform="rotate(-25 2011.5 440.4)" fill="rgb(77,70,70)"/>
<ellipse cx="2010.0" cy="440.2" rx="9.1" ry="3.2" transform="rotate(-25 2011.5 440.4)" fill="#d41212"/>
<ellipse cx="1717.2" cy="473.2" rx="17.7" ry="8.0" transform="rotate(-37 1717.2 473.2)" fill="rgb(59,59,59)"/>
<ellipse cx="1608.3" cy="78.5" rx="27.9" ry="10.2" transform="rotate(-29 1608.3 78.5)" fill="rgb(94,85,85)"/>
<ellipse cx="1608.3" cy="78.9" rx="18.5" ry="7.1" transform="rotate(-29 1608.3 78.5)" fill="#9a1a20"/>
<ellipse cx="1923.7" cy="98.1" rx="14.6" ry="8.9" transform="rotate(-26 1923.7 98.1)" fill="rgb(74,64,64)"/>
<ellipse cx="1922.8" cy="99.0" rx="9.0" ry="4.3" transform="rotate(-26 1923.7 98.1)" fill="#e80a0a"/>
<ellipse cx="1504.8" cy="198.4" rx="19.8" ry="7.7" transform="rotate(-50 1504.8 198.4)" fill="rgb(71,64,64)"/>
<ellipse cx="1504.2" cy="198.4" rx="14.9" ry="3.7" transform="rotate(-50 1504.8 198.4)" fill="#d41212"/>
<ellipse cx="1593.5" cy="61.9" rx="24.2" ry="11.2" transform="rotate(-35 1593.5 61.9)" fill="rgb(80,71,71)"/>
<ellipse cx="1592.6" cy="62.5" rx="14.8" ry="6.3" transform="rotate(-35 1593.5 61.9)" fill="#f00000"/>
<ellipse cx="1812.9" cy="393.4" rx="13.8" ry="7.2" transform="rotate(-34 1812.9 393.4)" fill="rgb(55,55,55)"/>
<ellipse cx="1811.2" cy="393.3" rx="9.7" ry="3.9" transform="rotate(-34 1812.9 393.4)" fill="#9a1a20"/>
<ellipse cx="1546.4" cy="348.7" rx="14.4" ry="6.4" transform="rotate(-14 1546.4 348.7)" fill="rgb(98,89,89)"/>
<ellipse cx="1545.3" cy="347.9" rx="6.5" ry="2.9" transform="rotate(-14 1546.4 348.7)" fill="#d41212"/>
<ellipse cx="1816.5" cy="208.1" rx="15.9" ry="8.8" transform="rotate(-43 1816.5 208.1)" fill="rgb(58,57,57)"/>
<ellipse cx="1577.5" cy="30.5" rx="22.6" ry="8.9" transform="rotate(-45 1577.5 30.5)" fill="rgb(54,50,50)"/>
<ellipse cx="1578.3" cy="30.4" rx="11.7" ry="5.2" transform="rotate(-45 1577.5 30.5)" fill="#f00000"/>
<ellipse cx="2030.3" cy="181.3" rx="17.7" ry="8.1" transform="rotate(-46 2030.3 181.3)" fill="rgb(80,74,74)"/>
<ellipse cx="1905.0" cy="267.3" rx="16.1" ry="5.8" transform="rotate(-33 1905.0 267.3)" fill="rgb(72,72,72)"/>
<ellipse cx="1904.1" cy="267.1" rx="9.3" ry="3.0" transform="rotate(-33 1905.0 267.3)" fill="#e80a0a"/>
<ellipse cx="1481.2" cy="96.9" rx="21.8" ry="7.6" transform="rotate(-5 1481.2 96.9)" fill="rgb(71,64,64)"/>
<ellipse cx="1480.3" cy="97.1" rx="10.5" ry="5.3" transform="rotate(-5 1481.2 96.9)" fill="#9a1a20"/>
<ellipse cx="1968.0" cy="446.9" rx="21.7" ry="6.6" transform="rotate(-26 1968.0 446.9)" fill="rgb(70,65,65)"/>
<ellipse cx="1662.7" cy="530.9" rx="14.4" ry="5.9" transform="rotate(-43 1662.7 530.9)" fill="rgb(92,90,90)"/>
<ellipse cx="1662.6" cy="531.1" rx="9.6" ry="4.1" transform="rotate(-43 1662.7 530.9)" fill="#9a1a20"/>
<ellipse cx="1558.1" cy="147.6" rx="26.8" ry="12.9" transform="rotate(-23 1558.1 147.6)" fill="rgb(58,50,50)"/>
<ellipse cx="1558.1" cy="147.0" rx="20.1" ry="6.3" transform="rotate(-23 1558.1 147.6)" fill="#c01414"/>
<ellipse cx="1637.5" cy="213.5" rx="23.2" ry="10.6" transform="rotate(-29 1637.5 213.5)" fill="rgb(60,58,58)"/>
<ellipse cx="1638.1" cy="213.0" rx="15.7" ry="7.2" transform="rotate(-29 1637.5 213.5)" fill="#f00000"/>
<ellipse cx="1658.8" cy="12.8" rx="18.5" ry="8.8" transform="rotate(-44 1658.8 12.8)" fill="rgb(73,69,69)"/>
<ellipse cx="1857.3" cy="483.4" rx="21.3" ry="5.5" transform="rotate(-33 1857.3 483.4)" fill="rgb(94,83,83)"/>
<ellipse cx="1857.6" cy="482.5" rx="16.8" ry="2.5" transform="rotate(-33 1857.3 483.4)" fill="#e80a0a"/>
<ellipse cx="2029.1" cy="465.9" rx="13.4" ry="6.4" transform="rotate(-12 2029.1 465.9)" fill="rgb(59,62,62)"/>
<ellipse cx="2027.2" cy="466.7" rx="6.9" ry="2.9" transform="rotate(-12 2029.1 465.9)" fill="#a81818"/>
<ellipse cx="1897.1" cy="338.6" rx="15.8" ry="6.0" transform="rotate(-29 1897.1 338.6)" fill="rgb(76,73,73)"/>
<ellipse cx="1896.6" cy="338.0" rx="9.2" ry="4.0" transform="rotate(-29 1897.1 338.6)" fill="#e80a0a"/>
<ellipse cx="1944.1" cy="262.7" rx="19.9" ry="8.2" transform="rotate(-33 1944.1 262.7)" fill="rgb(92,82,82)"/>
<ellipse cx="1942.4" cy="262.3" rx="14.1" ry="5.6" transform="rotate(-33 1944.1 262.7)" fill="#c01414"/>
<ellipse cx="1877.8" cy="216.9" rx="19.5" ry="7.6" transform="rotate(-26 1877.8 216.9)" fill="rgb(57,61,61)"/>
<ellipse cx="1878.2" cy="216.6" rx="13.9" ry="3.4" transform="rotate(-26 1877.8 216.9)" fill="#b8161c"/>
<ellipse cx="1887.6" cy="382.9" rx="21.9" ry="7.8" transform="rotate(-21 1887.6 382.9)" fill="rgb(63,51,51)"/>
<ellipse cx="1888.0" cy="382.0" rx="10.8" ry="5.4" transform="rotate(-21 1887.6 382.9)" fill="#9a1a20"/>
<ellipse cx="1711.7" cy="169.0" rx="17.7" ry="8.4" transform="rotate(-28 1711.7 169.0)" fill="rgb(81,81,81)"/>
<ellipse cx="1713.3" cy="169.8" rx="10.0" ry="4.9" transform="rotate(-28 1711.7 169.0)" fill="#d41212"/>
<ellipse cx="2078.1" cy="519.1" rx="20.1" ry="8.3" transform="rotate(-18 2078.1 519.1)" fill="rgb(57,56,56)"/>
<ellipse cx="2076.1" cy="519.2" rx="10.9" ry="5.3" transform="rotate(-18 2078.1 519.1)" fill="#9a1a20"/>
<ellipse cx="1811.1" cy="465.6" rx="20.9" ry="8.6" transform="rotate(-43 1811.1 465.6)" fill="rgb(79,73,73)"/>
<ellipse cx="1812.9" cy="465.6" rx="16.3" ry="4.2" transform="rotate(-43 1811.1 465.6)" fill="#d41212"/>
<ellipse cx="1542.2" cy="333.9" rx="18.4" ry="6.2" transform="rotate(-24 1542.2 333.9)" fill="rgb(61,63,63)"/>
<ellipse cx="1542.2" cy="333.2" rx="14.3" ry="3.4" transform="rotate(-24 1542.2 333.9)" fill="#b8161c"/>
<ellipse cx="2047.9" cy="260.5" rx="22.9" ry="5.6" transform="rotate(-34 2047.9 260.5)" fill="rgb(91,89,89)"/>
<ellipse cx="2047.9" cy="261.1" rx="12.4" ry="2.5" transform="rotate(-34 2047.9 260.5)" fill="#b8161c"/>
<ellipse cx="1559.9" cy="77.7" rx="22.2" ry="9.1" transform="rotate(-35 1559.9 77.7)" fill="rgb(55,59,59)"/>
<ellipse cx="1559.0" cy="78.4" rx="14.9" ry="5.5" transform="rotate(-35 1559.9 77.7)" fill="#c01414"/>
<ellipse cx="1663.3" cy="387.0" rx="15.7" ry="8.9" transform="rotate(-26 1663.3 387.0)" fill="rgb(79,69,69)"/>
<ellipse cx="1800.4" cy="302.9" rx="13.5" ry="8.3" transform="rotate(-29 1800.4 302.9)" fill="rgb(75,72,72)"/>
<ellipse cx="1799.6" cy="303.9" rx="9.3" ry="4.9" transform="rotate(-29 1800.4 302.9)" fill="#b8161c"/>
<ellipse cx="1463.5" cy="300.8" rx="20.9" ry="8.8" transform="rotate(-38 1463.5 300.8)" fill="rgb(59,59,59)"/>
<ellipse cx="1463.8" cy="300.8" rx="12.3" ry="5.7" transform="rotate(-38 1463.5 300.8)" fill="#c01414"/>
<ellipse cx="1670.5" cy="113.0" rx="27.6" ry="8.4" transform="rotate(-50 1670.5 113.0)" fill="rgb(76,75,75)"/>
<ellipse cx="1672.4" cy="113.0" rx="16.3" ry="6.0" transform="rotate(-50 1670.5 113.0)" fill="#c01414"/>
<ellipse cx="1926.9" cy="8.2" rx="19.4" ry="6.1" transform="rotate(-33 1926.9 8.2)" fill="rgb(83,81,81)"/>
<ellipse cx="1927.1" cy="7.2" rx="13.6" ry="4.0" transform="rotate(-33 1926.9 8.2)" fill="#9a1a20"/>
<ellipse cx="1620.2" cy="379.8" rx="16.9" ry="8.2" transform="rotate(-37 1620.2 379.8)" fill="rgb(66,61,61)"/>
<ellipse cx="1620.2" cy="380.7" rx="11.9" ry="5.8" transform="rotate(-37 1620.2 379.8)" fill="#f00000"/>
<ellipse cx="1782.7" cy="137.7" rx="19.3" ry="5.9" transform="rotate(-38 1782.7 137.7)" fill="rgb(93,86,86)"/>
<ellipse cx="1783.0" cy="138.0" rx="14.4" ry="3.3" transform="rotate(-38 1782.7 137.7)" fill="#c01414"/>
<ellipse cx="2150.1" cy="276.0" rx="22.4" ry="6.3" transform="rotate(-42 2150.1 276.0)" fill="rgb(82,80,80)"/>
<ellipse cx="2150.9" cy="276.5" rx="15.2" ry="4.0" transform="rotate(-42 2150.1 276.0)" fill="#d41212"/>
<ellipse cx="1443.0" cy="104.0" rx="22.1" ry="9.3" transform="rotate(-26 1443.0 104.0)" fill="rgb(69,57,57)"/>
<ellipse cx="1713.1" cy="542.7" rx="13.2" ry="6.2" transform="rotate(-21 1713.1 542.7)" fill="rgb(65,66,66)"/>
<ellipse cx="1713.5" cy="543.1" rx="6.7" ry="4.2" transform="rotate(-21 1713.1 542.7)" fill="#d41212"/>
<ellipse cx="1981.8" cy="180.6" rx="13.3" ry="6.9" transform="rotate(-27 1981.8 180.6)" fill="rgb(58,61,61)"/>
<ellipse cx="1982.5" cy="180.6" rx="6.4" ry="4.0" transform="rotate(-27 1981.8 180.6)" fill="#f00000"/>
<ellipse cx="1986.2" cy="387.4" rx="22.7" ry="8.2" transform="rotate(-52 1986.2 387.4)" fill="rgb(91,87,87)"/>
<ellipse cx="1569.4" cy="244.0" rx="25.0" ry="8.1" transform="rotate(-20 1569.4 244.0)" fill="rgb(81,80,80)"/>
<ellipse cx="1568.5" cy="244.1" rx="20.0" ry="5.3" transform="rotate(-20 1569.4 244.0)" fill="#b8161c"/>
<ellipse cx="1961.8" cy="490.2" rx="18.9" ry="7.2" transform="rotate(-21 1961.8 490.2)" fill="rgb(84,78,78)"/>
<ellipse cx="1961.4" cy="489.4" rx="13.4" ry="4.0" transform="rotate(-21 1961.8 490.2)" fill="#c01414"/>
<ellipse cx="1491.0" cy="395.3" rx="17.5" ry="8.6" transform="rotate(-23 1491.0 395.3)" fill="rgb(79,72,72)"/>
<ellipse cx="1491.1" cy="394.8" rx="10.6" ry="5.7" transform="rotate(-23 1491.0 395.3)" fill="#e80a0a"/>
<ellipse cx="2028.2" cy="533.7" rx="20.9" ry="6.6" transform="rotate(-24 2028.2 533.7)" fill="rgb(82,79,79)"/>
<ellipse cx="2028.9" cy="533.3" rx="11.6" ry="3.2" transform="rotate(-24 2028.2 533.7)" fill="#a81818"/>
<ellipse cx="1525.6" cy="171.7" rx="18.8" ry="11.2" transform="rotate(-40 1525.6 171.7)" fill="rgb(52,52,52)"/>
<ellipse cx="1526.2" cy="171.4" rx="14.0" ry="6.6" transform="rotate(-40 1525.6 171.7)" fill="#d41212"/>
<ellipse cx="2062.3" cy="216.0" rx="13.8" ry="5.5" transform="rotate(-30 2062.3 216.0)" fill="rgb(85,78,78)"/>
<ellipse cx="2063.0" cy="215.3" rx="8.5" ry="3.0" transform="rotate(-30 2062.3 216.0)" fill="#e80a0a"/>
<ellipse cx="2007.0" cy="8.7" rx="15.6" ry="8.9" transform="rotate(-49 2007.0 8.7)" fill="rgb(77,74,74)"/>
<ellipse cx="1702.2" cy="8.5" rx="15.9" ry="6.0" transform="rotate(-35 1702.2 8.5)" fill="rgb(51,52,52)"/>
<ellipse cx="1700.2" cy="9.1" rx="11.3" ry="4.2" transform="rotate(-35 1702.2 8.5)" fill="#9a1a20"/>
<ellipse cx="2046.7" cy="76.4" rx="21.6" ry="5.5" transform="rotate(-40 2046.7 76.4)" fill="rgb(84,86,86)"/>
<ellipse cx="2047.0" cy="76.3" rx="15.9" ry="3.7" transform="rotate(-40 2046.7 76.4)" fill="#d41212"/>
<ellipse cx="1871.1" cy="275.6" rx="15.9" ry="5.9" transform="rotate(-53 1871.1 275.6)" fill="rgb(59,57,57)"/>
<ellipse cx="1869.4" cy="275.7" rx="11.9" ry="2.7" transform="rotate(-53 1871.1 275.6)" fill="#c01414"/>
<ellipse cx="1948.2" cy="205.7" rx="13.6" ry="7.2" transform="rotate(-31 1948.2 205.7)" fill="rgb(74,68,68)"/>
<ellipse cx="1937.1" cy="329.1" rx="21.2" ry="8.0" transform="rotate(-12 1937.1 329.1)" fill="rgb(93,84,84)"/>
<ellipse cx="1938.0" cy="329.2" rx="13.6" ry="4.9" transform="rotate(-12 1937.1 329.1)" fill="#e80a0a"/>
<ellipse cx="1563.0" cy="163.7" rx="23.7" ry="10.8" transform="rotate(-43 1563.0 163.7)" fill="rgb(80,76,76)"/>
<ellipse cx="1563.6" cy="163.2" rx="12.9" ry="7.0" transform="rotate(-43 1563.0 163.7)" fill="#9a1a20"/>
<ellipse cx="2132.4" cy="397.2" rx="18.2" ry="7.7" transform="rotate(-49 2132.4 397.2)" fill="rgb(87,86,86)"/>
<ellipse cx="2131.6" cy="397.8" rx="8.6" ry="4.2" transform="rotate(-49 2132.4 397.2)" fill="#c01414"/>
<ellipse cx="1694.3" cy="367.4" rx="16.2" ry="7.2" transform="rotate(-38 1694.3 367.4)" fill="rgb(70,58,58)"/>
<ellipse cx="1695.9" cy="368.1" rx="10.3" ry="3.6" transform="rotate(-38 1694.3 367.4)" fill="#e80a0a"/>
<ellipse cx="1835.0" cy="453.8" rx="14.3" ry="7.3" transform="rotate(-35 1835.0 453.8)" fill="rgb(72,71,71)"/>
<ellipse cx="2029.1" cy="304.9" rx="20.7" ry="6.5" transform="rotate(-40 2029.1 304.9)" fill="rgb(50,53,53)"/>
<ellipse cx="2029.3" cy="305.3" rx="11.4" ry="4.0" transform="rotate(-40 2029.1 304.9)" fill="#b8161c"/>
<ellipse cx="1624.5" cy="35.2" rx="16.0" ry="7.8" transform="rotate(-42 1624.5 35.2)" fill="rgb(65,53,53)"/>
<ellipse cx="1625.9" cy="35.4" rx="9.0" ry="5.6" transform="rotate(-42 1624.5 35.2)" fill="#a81818"/>
<ellipse cx="1598.5" cy="432.0" rx="13.9" ry="7.6" transform="rotate(-43 1598.5 432.0)" fill="rgb(95,88,88)"/>
<ellipse cx="1597.1" cy="432.2" rx="10.8" ry="5.0" transform="rotate(-43 1598.5 432.0)" fill="#c01414"/>
<ellipse cx="1648.3" cy="5.7" rx="16.7" ry="7.2" transform="rotate(-25 1648.3 5.7)" fill="rgb(65,68,68)"/>
<ellipse cx="1646.9" cy="6.0" rx="12.3" ry="4.8" transform="rotate(-25 1648.3 5.7)" fill="#c01414"/>
<ellipse cx="1861.4" cy="345.1" rx="13.9" ry="5.6" transform="rotate(-20 1861.4 345.1)" fill="rgb(63,67,67)"/>
<ellipse cx="1863.3" cy="345.0" rx="8.2" ry="3.7" transform="rotate(-20 1861.4 345.1)" fill="#b8161c"/>
<ellipse cx="2142.3" cy="74.5" rx="17.3" ry="7.1" transform="rotate(-52 2142.3 74.5)" fill="rgb(96,88,88)"/>
<ellipse cx="2141.2" cy="74.0" rx="8.1" ry="4.1" transform="rotate(-52 2142.3 74.5)" fill="#d41212"/>
<ellipse cx="1604.6" cy="29.0" rx="17.4" ry="8.4" transform="rotate(-23 1604.6 29.0)" fill="rgb(60,58,58)"/>
<ellipse cx="1602.7" cy="28.7" rx="8.9" ry="5.1" transform="rotate(-23 1604.6 29.0)" fill="#c01414"/>
<ellipse cx="1832.6" cy="521.9" rx="16.0" ry="7.9" transform="rotate(-49 1832.6 521.9)" fill="rgb(74,64,64)"/>
<ellipse cx="1833.6" cy="522.8" rx="7.9" ry="3.7" transform="rotate(-49 1832.6 521.9)" fill="#b8161c"/>
<ellipse cx="1949.7" cy="119.5" rx="16.7" ry="7.9" transform="rotate(-37 1949.7 119.5)" fill="rgb(79,77,77)"/>
<ellipse cx="1951.4" cy="119.7" rx="9.6" ry="4.9" transform="rotate(-37 1949.7 119.5)" fill="#f00000"/>
<ellipse cx="1655.8" cy="445.6" rx="16.3" ry="8.8" transform="rotate(-50 1655.8 445.6)" fill="rgb(82,73,73)"/>
<ellipse cx="1657.0" cy="445.7" rx="9.2" ry="4.7" transform="rotate(-50 1655.8 445.6)" fill="#b8161c"/>
<ellipse cx="2122.9" cy="173.9" rx="18.6" ry="8.4" transform="rotate(-49 2122.9 173.9)" fill="rgb(70,62,62)"/>
<ellipse cx="2122.5" cy="174.8" rx="9.7" ry="3.8" transform="rotate(-49 2122.9 173.9)" fill="#d41212"/>
<ellipse cx="1542.0" cy="484.9" rx="18.1" ry="6.5" transform="rotate(-21 1542.0 484.9)" fill="rgb(81,71,71)"/>
<ellipse cx="1541.5" cy="485.6" rx="10.6" ry="3.6" transform="rotate(-21 1542.0 484.9)" fill="#9a1a20"/>
<ellipse cx="2155.5" cy="311.6" rx="17.5" ry="8.2" transform="rotate(-33 2155.5 311.6)" fill="rgb(89,90,90)"/>
<ellipse cx="2153.8" cy="310.7" rx="9.3" ry="5.7" transform="rotate(-33 2155.5 311.6)" fill="#a81818"/>
<ellipse cx="1953.1" cy="48.1" rx="15.8" ry="6.0" transform="rotate(-24 1953.1 48.1)" fill="rgb(74,78,78)"/>
<ellipse cx="1951.8" cy="47.8" rx="10.5" ry="3.7" transform="rotate(-24 1953.1 48.1)" fill="#b8161c"/>
<ellipse cx="1765.5" cy="480.5" rx="17.3" ry="8.0" transform="rotate(-41 1765.5 480.5)" fill="rgb(78,69,69)"/>
<ellipse cx="1766.8" cy="480.4" rx="9.8" ry="3.6" transform="rotate(-41 1765.5 480.5)" fill="#e80a0a"/>
<ellipse cx="1825.4" cy="490.7" rx="15.5" ry="6.4" transform="rotate(-43 1825.4 490.7)" fill="rgb(75,66,66)"/>
<ellipse cx="1824.7" cy="491.0" rx="11.8" ry="4.4" transform="rotate(-43 1825.4 490.7)" fill="#d41212"/>
<ellipse cx="1968.6" cy="293.3" rx="13.8" ry="8.0" transform="rotate(-22 1968.6 293.3)" fill="rgb(61,58,58)"/>
<ellipse cx="1969.2" cy="293.1" rx="10.0" ry="4.8" transform="rotate(-22 1968.6 293.3)" fill="#d41212"/>
<ellipse cx="2020.5" cy="229.8" rx="18.4" ry="7.6" transform="rotate(-27 2020.5 229.8)" fill="rgb(90,78,78)"/>
<ellipse cx="2021.2" cy="230.3" rx="10.6" ry="4.5" transform="rotate(-27 2020.5 229.8)" fill="#c01414"/>
<ellipse cx="1505.4" cy="511.6" rx="21.5" ry="7.3" transform="rotate(-37 1505.4 511.6)" fill="rgb(99,89,89)"/>
<ellipse cx="1507.3" cy="511.6" rx="11.3" ry="4.1" transform="rotate(-37 1505.4 511.6)" fill="#f00000"/>
<ellipse cx="1677.8" cy="547.6" rx="13.5" ry="5.6" transform="rotate(-13 1677.8 547.6)" fill="rgb(68,72,72)"/>
<ellipse cx="1678.4" cy="547.8" rx="6.1" ry="2.5" transform="rotate(-13 1677.8 547.6)" fill="#d41212"/>
<ellipse cx="2097.7" cy="501.4" rx="22.5" ry="7.2" transform="rotate(-51 2097.7 501.4)" fill="rgb(63,62,62)"/>
<ellipse cx="2096.1" cy="501.4" rx="15.8" ry="5.1" transform="rotate(-51 2097.7 501.4)" fill="#f00000"/>
<ellipse cx="1662.8" cy="304.4" rx="14.4" ry="8.5" transform="rotate(-37 1662.8 304.4)" fill="rgb(71,60,60)"/>
<ellipse cx="1662.1" cy="305.1" rx="9.4" ry="5.1" transform="rotate(-37 1662.8 304.4)" fill="#c01414"/>
<ellipse cx="1837.1" cy="312.7" rx="22.9" ry="8.5" transform="rotate(-31 1837.1 312.7)" fill="rgb(83,75,75)"/>
<ellipse cx="1836.9" cy="313.4" rx="16.8" ry="5.8" transform="rotate(-31 1837.1 312.7)" fill="#9a1a20"/>
<ellipse cx="1458.6" cy="487.4" rx="18.2" ry="5.6" transform="rotate(-25 1458.6 487.4)" fill="rgb(65,56,56)"/>
<ellipse cx="1460.2" cy="488.0" rx="14.5" ry="3.9" transform="rotate(-25 1458.6 487.4)" fill="#d41212"/>
<ellipse cx="1859.5" cy="57.9" rx="13.6" ry="8.2" transform="rotate(-30 1859.5 57.9)" fill="rgb(62,60,60)"/>
<ellipse cx="1861.5" cy="58.3" rx="10.9" ry="3.8" transform="rotate(-30 1859.5 57.9)" fill="#a81818"/>
<ellipse cx="2041.8" cy="41.3" rx="13.5" ry="8.2" transform="rotate(-18 2041.8 41.3)" fill="rgb(71,67,67)"/>
<ellipse cx="2041.6" cy="40.9" rx="6.2" ry="4.0" transform="rotate(-18 2041.8 41.3)" fill="#b8161c"/>
<ellipse cx="1580.9" cy="203.4" rx="20.5" ry="9.8" transform="rotate(-34 1580.9 203.4)" fill="rgb(66,54,54)"/>
<ellipse cx="1580.8" cy="203.4" rx="13.8" ry="5.4" transform="rotate(-34 1580.9 203.4)" fill="#d41212"/>
<ellipse cx="2139.7" cy="339.8" rx="15.9" ry="6.3" transform="rotate(-33 2139.7 339.8)" fill="rgb(70,68,68)"/>
<ellipse cx="1559.4" cy="95.9" rx="23.6" ry="9.1" transform="rotate(-39 1559.4 95.9)" fill="rgb(74,71,71)"/>
<ellipse cx="1558.9" cy="96.6" rx="16.4" ry="4.9" transform="rotate(-39 1559.4 95.9)" fill="#f00000"/>
<ellipse cx="1523.8" cy="322.4" rx="14.8" ry="7.1" transform="rotate(-31 1523.8 322.4)" fill="rgb(87,82,82)"/>
<ellipse cx="1523.6" cy="321.8" rx="7.1" ry="4.1" transform="rotate(-31 1523.8 322.4)" fill="#b8161c"/>
<ellipse cx="1917.8" cy="221.1" rx="20.0" ry="5.8" transform="rotate(-24 1917.8 221.1)" fill="rgb(81,70,70)"/>
<ellipse cx="1916.6" cy="221.5" rx="10.4" ry="3.1" transform="rotate(-24 1917.8 221.1)" fill="#e80a0a"/>
<ellipse cx="2086.1" cy="391.1" rx="18.1" ry="6.2" transform="rotate(-7 2086.1 391.1)" fill="rgb(95,83,83)"/>
<ellipse cx="2085.0" cy="390.4" rx="8.2" ry="3.8" transform="rotate(-7 2086.1 391.1)" fill="#d41212"/>
<ellipse cx="1759.1" cy="550.8" rx="17.9" ry="5.5" transform="rotate(-46 1759.1 550.8)" fill="rgb(83,86,86)"/>
<ellipse cx="1760.0" cy="550.9" rx="12.3" ry="3.1" transform="rotate(-46 1759.1 550.8)" fill="#9a1a20"/>
<ellipse cx="2104.2" cy="425.8" rx="13.0" ry="7.7" transform="rotate(-25 2104.2 425.8)" fill="rgb(86,89,89)"/>
<ellipse cx="2103.5" cy="426.2" rx="6.0" ry="5.1" transform="rotate(-25 2104.2 425.8)" fill="#b8161c"/>
<ellipse cx="1730.3" cy="278.2" rx="18.4" ry="8.3" transform="rotate(-25 1730.3 278.2)" fill="rgb(87,80,80)"/>
<ellipse cx="1731.3" cy="278.4" rx="13.4" ry="4.0" transform="rotate(-25 1730.3 278.2)" fill="#b8161c"/>
<ellipse cx="1546.0" cy="547.5" rx="19.0" ry="6.9" transform="rotate(-48 1546.0 547.5)" fill="rgb(79,81,81)"/>
<ellipse cx="1547.9" cy="546.9" rx="13.6" ry="3.9" transform="rotate(-48 1546.0 547.5)" fill="#c01414"/>
<ellipse cx="1904.7" cy="470.6" rx="21.1" ry="6.4" transform="rotate(-29 1904.7 470.6)" fill="rgb(61,62,62)"/>
<ellipse cx="1911.2" cy="140.0" rx="17.7" ry="7.2" transform="rotate(-37 1911.2 140.0)" fill="rgb(64,57,57)"/>
<ellipse cx="1912.6" cy="140.8" rx="9.1" ry="4.9" transform="rotate(-37 1911.2 140.0)" fill="#9a1a20"/>
<ellipse cx="1599.3" cy="153.7" rx="30.5" ry="10.4" transform="rotate(-50 1599.3 153.7)" fill="rgb(93,88,88)"/>
<ellipse cx="1599.5" cy="154.1" rx="19.5" ry="5.7" transform="rotate(-50 1599.3 153.7)" fill="#9a1a20"/>
<ellipse cx="1808.6" cy="110.2" rx="19.6" ry="6.9" transform="rotate(-27 1808.6 110.2)" fill="rgb(86,86,86)"/>
<ellipse cx="1809.4" cy="109.3" rx="12.1" ry="3.7" transform="rotate(-27 1808.6 110.2)" fill="#c01414"/>
<ellipse cx="1879.8" cy="234.8" rx="18.5" ry="7.8" transform="rotate(-32 1879.8 234.8)" fill="rgb(81,73,73)"/>
<ellipse cx="1881.7" cy="234.4" rx="14.4" ry="4.2" transform="rotate(-32 1879.8 234.8)" fill="#b8161c"/>
<ellipse cx="1752.0" cy="176.3" rx="19.3" ry="6.3" transform="rotate(-23 1752.0 176.3)" fill="rgb(67,67,67)"/>
<ellipse cx="1895.1" cy="391.8" rx="15.2" ry="6.1" transform="rotate(-46 1895.1 391.8)" fill="rgb(84,84,84)"/>
<ellipse cx="1893.1" cy="391.6" rx="7.7" ry="3.7" transform="rotate(-46 1895.1 391.8)" fill="#d41212"/>
<ellipse cx="1633.5" cy="545.8" rx="19.5" ry="6.0" transform="rotate(-30 1633.5 545.8)" fill="rgb(79,68,68)"/>
<ellipse cx="1869.6" cy="491.6" rx="13.5" ry="7.7" transform="rotate(-38 1869.6 491.6)" fill="rgb(81,78,78)"/>
<ellipse cx="1870.6" cy="492.2" rx="9.2" ry="3.6" transform="rotate(-38 1869.6 491.6)" fill="#f00000"/>
<ellipse cx="1654.6" cy="223.8" rx="27.7" ry="8.3" transform="rotate(-47 1654.6 223.8)" fill="rgb(83,83,83)"/>
<ellipse cx="1654.3" cy="224.7" rx="20.3" ry="4.9" transform="rotate(-47 1654.6 223.8)" fill="#a81818"/>
<ellipse cx="1843.6" cy="183.1" rx="21.0" ry="8.6" transform="rotate(-14 1843.6 183.1)" fill="rgb(56,51,51)"/>
<ellipse cx="1843.7" cy="182.9" rx="10.3" ry="3.9" transform="rotate(-14 1843.6 183.1)" fill="#f00000"/>
<ellipse cx="2142.9" cy="271.0" rx="18.5" ry="8.2" transform="rotate(-36 2142.9 271.0)" fill="rgb(72,67,67)"/>
<ellipse cx="2144.0" cy="270.7" rx="11.7" ry="4.3" transform="rotate(-36 2142.9 271.0)" fill="#d41212"/>
<ellipse cx="1542.1" cy="54.8" rx="20.5" ry="11.0" transform="rotate(-36 1542.1 54.8)" fill="rgb(75,77,77)"/>
<ellipse cx="1540.8" cy="54.9" rx="11.7" ry="6.3" transform="rotate(-36 1542.1 54.8)" fill="#e80a0a"/>
<ellipse cx="1452.0" cy="136.7" rx="24.5" ry="11.2" transform="rotate(-19 1452.0 136.7)" fill="rgb(74,74,74)"/>
<ellipse cx="1451.1" cy="135.9" rx="17.5" ry="5.6" transform="rotate(-19 1452.0 136.7)" fill="#9a1a20"/>
<ellipse cx="1676.3" cy="482.6" rx="13.4" ry="8.9" transform="rotate(-45 1676.3 482.6)" fill="rgb(59,63,63)"/>
<ellipse cx="1676.2" cy="482.7" rx="10.5" ry="4.1" transform="rotate(-45 1676.3 482.6)" fill="#d41212"/>
<ellipse cx="1703.4" cy="104.9" rx="18.0" ry="7.9" transform="rotate(-33 1703.4 104.9)" fill="rgb(62,50,50)"/>
<ellipse cx="1704.4" cy="105.0" rx="12.6" ry="3.9" transform="rotate(-33 1703.4 104.9)" fill="#b8161c"/>
<ellipse cx="1651.7" cy="298.3" rx="14.3" ry="8.0" transform="rotate(-46 1651.7 298.3)" fill="rgb(54,50,50)"/>
<ellipse cx="1650.5" cy="297.4" rx="9.4" ry="4.1" transform="rotate(-46 1651.7 298.3)" fill="#9a1a20"/>
<ellipse cx="1822.5" cy="356.0" rx="16.0" ry="8.3" transform="rotate(-56 1822.5 356.0)" fill="rgb(92,86,86)"/>
<ellipse cx="1822.5" cy="355.7" rx="12.4" ry="4.6" transform="rotate(-56 1822.5 356.0)" fill="#c01414"/>
<ellipse cx="1953.9" cy="335.3" rx="15.1" ry="7.3" transform="rotate(-28 1953.9 335.3)" fill="rgb(89,83,83)"/>
<ellipse cx="1955.6" cy="335.2" rx="8.1" ry="4.5" transform="rotate(-28 1953.9 335.3)" fill="#d41212"/>
<ellipse cx="1616.2" cy="541.1" rx="15.7" ry="6.7" transform="rotate(-39 1616.2 541.1)" fill="rgb(81,81,81)"/>
<ellipse cx="2088.1" cy="132.6" rx="16.4" ry="7.3" transform="rotate(-22 2088.1 132.6)" fill="rgb(79,70,70)"/>
<ellipse cx="2088.2" cy="133.1" rx="8.8" ry="3.4" transform="rotate(-22 2088.1 132.6)" fill="#f00000"/>
<ellipse cx="1541.3" cy="420.7" rx="15.5" ry="7.0" transform="rotate(-49 1541.3 420.7)" fill="rgb(77,81,81)"/>
<ellipse cx="1542.7" cy="421.3" rx="8.0" ry="3.2" transform="rotate(-49 1541.3 420.7)" fill="#d41212"/>
<ellipse cx="1717.3" cy="266.1" rx="13.4" ry="6.9" transform="rotate(-50 1717.3 266.1)" fill="rgb(97,86,86)"/>
<ellipse cx="1717.9" cy="266.4" rx="8.7" ry="3.2" transform="rotate(-50 1717.3 266.1)" fill="#c01414"/>
<ellipse cx="2034.5" cy="29.6" rx="17.8" ry="7.7" transform="rotate(-31 2034.5 29.6)" fill="rgb(53,54,54)"/>
<ellipse cx="2035.5" cy="29.9" rx="13.6" ry="3.8" transform="rotate(-31 2034.5 29.6)" fill="#f00000"/>
<ellipse cx="1586.0" cy="143.6" rx="34.3" ry="10.8" transform="rotate(-52 1586.0 143.6)" fill="rgb(89,77,77)"/>
<ellipse cx="1587.2" cy="144.3" rx="19.0" ry="5.5" transform="rotate(-52 1586.0 143.6)" fill="#d41212"/>
<ellipse cx="1722.0" cy="353.7" rx="15.8" ry="6.8" transform="rotate(-23 1722.0 353.7)" fill="rgb(78,71,71)"/>
<ellipse cx="1894.5" cy="462.3" rx="22.3" ry="7.9" transform="rotate(-25 1894.5 462.3)" fill="rgb(53,50,50)"/>
<ellipse cx="1895.7" cy="461.8" rx="17.7" ry="5.5" transform="rotate(-25 1894.5 462.3)" fill="#e80a0a"/>
<ellipse cx="2000.6" cy="259.3" rx="16.3" ry="8.0" transform="rotate(-43 2000.6 259.3)" fill="rgb(60,61,61)"/>
<ellipse cx="1956.7" cy="77.0" rx="22.9" ry="7.1" transform="rotate(-35 1956.7 77.0)" fill="rgb(73,73,73)"/>
<ellipse cx="1957.6" cy="76.7" rx="11.3" ry="4.1" transform="rotate(-35 1956.7 77.0)" fill="#c01414"/>
<ellipse cx="1905.4" cy="486.6" rx="14.3" ry="6.3" transform="rotate(-35 1905.4 486.6)" fill="rgb(86,81,81)"/>
<ellipse cx="1905.2" cy="487.0" rx="9.9" ry="3.1" transform="rotate(-35 1905.4 486.6)" fill="#b8161c"/>
<ellipse cx="2008.2" cy="425.8" rx="22.8" ry="6.9" transform="rotate(-20 2008.2 425.8)" fill="rgb(84,72,72)"/>
<ellipse cx="2008.4" cy="426.1" rx="11.4" ry="4.7" transform="rotate(-20 2008.2 425.8)" fill="#f00000"/>
<ellipse cx="1476.7" cy="438.9" rx="20.5" ry="6.1" transform="rotate(-35 1476.7 438.9)" fill="rgb(70,58,58)"/>
<ellipse cx="1478.5" cy="438.5" rx="13.0" ry="2.9" transform="rotate(-35 1476.7 438.9)" fill="#a81818"/>
<ellipse cx="1782.5" cy="280.7" rx="22.7" ry="5.7" transform="rotate(-37 1782.5 280.7)" fill="rgb(65,62,62)"/>
<ellipse cx="1781.5" cy="280.0" rx="15.4" ry="2.9" transform="rotate(-37 1782.5 280.7)" fill="#c01414"/>
<ellipse cx="1913.5" cy="72.9" rx="18.6" ry="6.2" transform="rotate(-30 1913.5 72.9)" fill="rgb(62,50,50)"/>
<ellipse cx="1913.4" cy="72.9" rx="10.3" ry="4.3" transform="rotate(-30 1913.5 72.9)" fill="#f00000"/>
<ellipse cx="1779.2" cy="503.5" rx="14.6" ry="8.0" transform="rotate(-28 1779.2 503.5)" fill="rgb(60,53,53)"/>
<ellipse cx="1588.4" cy="408.2" rx="20.3" ry="8.3" transform="rotate(-51 1588.4 408.2)" fill="rgb(64,54,54)"/>
<ellipse cx="1588.6" cy="407.5" rx="12.6" ry="4.2" transform="rotate(-51 1588.4 408.2)" fill="#d41212"/>
<ellipse cx="1914.4" cy="413.5" rx="17.1" ry="7.7" transform="rotate(-39 1914.4 413.5)" fill="rgb(76,70,70)"/>
<ellipse cx="1913.5" cy="412.9" rx="10.3" ry="4.7" transform="rotate(-39 1914.4 413.5)" fill="#9a1a20"/>
<ellipse cx="2131.2" cy="205.5" rx="18.0" ry="7.6" transform="rotate(-54 2131.2 205.5)" fill="rgb(92,87,87)"/>
<ellipse cx="2131.7" cy="204.9" rx="12.4" ry="5.3" transform="rotate(-54 2131.2 205.5)" fill="#b8161c"/>
<ellipse cx="1986.4" cy="476.0" rx="22.9" ry="6.6" transform="rotate(-13 1986.4 476.0)" fill="rgb(71,69,69)"/>
<ellipse cx="1988.2" cy="475.9" rx="16.1" ry="3.1" transform="rotate(-13 1986.4 476.0)" fill="#b8161c"/>
<ellipse cx="2005.6" cy="150.7" rx="15.9" ry="6.6" transform="rotate(-16 2005.6 150.7)" fill="rgb(95,89,89)"/>
<ellipse cx="2006.6" cy="150.6" rx="10.5" ry="3.2" transform="rotate(-16 2005.6 150.7)" fill="#9a1a20"/>
<ellipse cx="2021.7" cy="359.3" rx="17.3" ry="8.1" transform="rotate(-46 2021.7 359.3)" fill="rgb(68,69,69)"/>
<ellipse cx="2020.0" cy="359.4" rx="10.0" ry="3.9" transform="rotate(-46 2021.7 359.3)" fill="#f00000"/>
<ellipse cx="1771.4" cy="427.0" rx="21.0" ry="7.2" transform="rotate(-38 1771.4 427.0)" fill="rgb(78,69,69)"/>
<ellipse cx="1772.7" cy="427.3" rx="12.7" ry="4.3" transform="rotate(-38 1771.4 427.0)" fill="#9a1a20"/>
<ellipse cx="2127.9" cy="465.3" rx="20.0" ry="7.4" transform="rotate(-36 2127.9 465.3)" fill="rgb(87,87,87)"/>
<ellipse cx="2128.2" cy="465.1" rx="13.6" ry="3.9" transform="rotate(-36 2127.9 465.3)" fill="#9a1a20"/>
<ellipse cx="2073.8" cy="89.2" rx="22.6" ry="8.6" transform="rotate(-23 2073.8 89.2)" fill="rgb(66,55,55)"/>
<ellipse cx="2073.6" cy="88.6" rx="10.7" ry="5.3" transform="rotate(-23 2073.8 89.2)" fill="#c01414"/>
<ellipse cx="2026.5" cy="167.3" rx="15.6" ry="8.6" transform="rotate(-7 2026.5 167.3)" fill="rgb(66,62,62)"/>
<ellipse cx="2027.2" cy="166.6" rx="9.3" ry="4.6" transform="rotate(-7 2026.5 167.3)" fill="#d41212"/>
<ellipse cx="2109.1" cy="510.2" rx="16.9" ry="8.7" transform="rotate(-19 2109.1 510.2)" fill="rgb(59,53,53)"/>
<ellipse cx="2109.9" cy="509.3" rx="9.1" ry="5.0" transform="rotate(-19 2109.1 510.2)" fill="#f00000"/>
<ellipse cx="1587.9" cy="127.7" rx="28.6" ry="8.7" transform="rotate(-43 1587.9 127.7)" fill="rgb(61,63,63)"/>
<ellipse cx="1588.5" cy="127.7" rx="17.5" ry="4.2" transform="rotate(-43 1587.9 127.7)" fill="#a81818"/>
<ellipse cx="2002.7" cy="548.3" rx="19.9" ry="6.8" transform="rotate(-59 2002.7 548.3)" fill="rgb(85,76,76)"/>
<ellipse cx="2002.8" cy="547.4" rx="12.9" ry="4.4" transform="rotate(-59 2002.7 548.3)" fill="#f00000"/>
<ellipse cx="2084.0" cy="327.4" rx="19.8" ry="6.4" transform="rotate(-36 2084.0 327.4)" fill="rgb(87,77,77)"/>
<ellipse cx="2085.2" cy="327.7" rx="13.3" ry="3.5" transform="rotate(-36 2084.0 327.4)" fill="#f00000"/>
<ellipse cx="1653.8" cy="245.5" rx="22.6" ry="9.7" transform="rotate(-38 1653.8 245.5)" fill="rgb(81,75,75)"/>
<ellipse cx="1654.5" cy="245.8" rx="15.4" ry="5.5" transform="rotate(-38 1653.8 245.5)" fill="#e80a0a"/>
<ellipse cx="2074.0" cy="173.2" rx="21.6" ry="6.2" transform="rotate(-47 2074.0 173.2)" fill="rgb(88,80,80)"/>
<ellipse cx="2074.4" cy="173.8" rx="15.3" ry="3.5" transform="rotate(-47 2074.0 173.2)" fill="#9a1a20"/>
<ellipse cx="1747.1" cy="80.8" rx="19.2" ry="6.6" transform="rotate(-42 1747.1 80.8)" fill="rgb(91,85,85)"/>
<ellipse cx="2026.7" cy="89.7" rx="17.9" ry="7.7" transform="rotate(-33 2026.7 89.7)" fill="rgb(87,88,88)"/>
<ellipse cx="2025.2" cy="89.4" rx="8.1" ry="5.0" transform="rotate(-33 2026.7 89.7)" fill="#e80a0a"/>
<ellipse cx="1817.5" cy="544.9" rx="16.5" ry="7.5" transform="rotate(-22 1817.5 544.9)" fill="rgb(69,57,57)"/>
<ellipse cx="1819.3" cy="544.6" rx="8.3" ry="4.8" transform="rotate(-22 1817.5 544.9)" fill="#f00000"/>
<ellipse cx="1934.4" cy="176.7" rx="19.3" ry="6.7" transform="rotate(-29 1934.4 176.7)" fill="rgb(75,73,73)"/>
<ellipse cx="1936.0" cy="176.2" rx="10.4" ry="3.6" transform="rotate(-29 1934.4 176.7)" fill="#a81818"/>
<ellipse cx="2117.1" cy="373.9" rx="20.6" ry="8.2" transform="rotate(-5 2117.1 373.9)" fill="rgb(62,65,65)"/>
<ellipse cx="2117.7" cy="373.4" rx="14.9" ry="4.5" transform="rotate(-5 2117.1 373.9)" fill="#a81818"/>
<ellipse cx="1736.8" cy="153.3" rx="26.8" ry="9.9" transform="rotate(-21 1736.8 153.3)" fill="rgb(63,56,56)"/>
<ellipse cx="1737.8" cy="153.7" rx="19.4" ry="6.9" transform="rotate(-21 1736.8 153.3)" fill="#e80a0a"/>
<ellipse cx="1796.9" cy="384.6" rx="21.4" ry="6.3" transform="rotate(-51 1796.9 384.6)" fill="rgb(70,65,65)"/>
<ellipse cx="1796.4" cy="384.5" rx="12.2" ry="4.2" transform="rotate(-51 1796.9 384.6)" fill="#9a1a20"/>
<ellipse cx="1993.2" cy="531.7" rx="17.7" ry="5.9" transform="rotate(-38 1993.2 531.7)" fill="rgb(94,90,90)"/>
<ellipse cx="1992.9" cy="532.6" rx="9.4" ry="4.0" transform="rotate(-38 1993.2 531.7)" fill="#a81818"/>
<ellipse cx="2003.8" cy="497.9" rx="17.7" ry="7.3" transform="rotate(-29 2003.8 497.9)" fill="rgb(65,65,65)"/>
<ellipse cx="2002.0" cy="497.4" rx="12.2" ry="5.2" transform="rotate(-29 2003.8 497.9)" fill="#d41212"/>
<ellipse cx="1440.0" cy="394.4" rx="14.3" ry="8.9" transform="rotate(-43 1440.0 394.4)" fill="rgb(74,71,71)"/>
<ellipse cx="1439.1" cy="394.0" rx="8.8" ry="5.8" transform="rotate(-43 1440.0 394.4)" fill="#9a1a20"/>
<ellipse cx="1844.8" cy="459.3" rx="14.8" ry="8.9" transform="rotate(-41 1844.8 459.3)" fill="rgb(62,66,66)"/>
<ellipse cx="1846.3" cy="460.1" rx="10.4" ry="4.0" transform="rotate(-41 1844.8 459.3)" fill="#b8161c"/>
<ellipse cx="1880.5" cy="521.8" rx="13.6" ry="7.9" transform="rotate(-30 1880.5 521.8)" fill="rgb(59,62,62)"/>
<ellipse cx="1881.0" cy="521.4" rx="6.4" ry="4.2" transform="rotate(-30 1880.5 521.8)" fill="#c01414"/>
<ellipse cx="1497.3" cy="480.0" rx="13.4" ry="6.3" transform="rotate(-39 1497.3 480.0)" fill="rgb(87,81,81)"/>
<ellipse cx="2005.2" cy="275.3" rx="15.8" ry="5.6" transform="rotate(-29 2005.2 275.3)" fill="rgb(52,53,53)"/>
<ellipse cx="2004.1" cy="274.8" rx="11.0" ry="3.3" transform="rotate(-29 2005.2 275.3)" fill="#f00000"/>
<ellipse cx="1552.1" cy="492.0" rx="16.6" ry="6.8" transform="rotate(-38 1552.1 492.0)" fill="rgb(73,70,70)"/>
<ellipse cx="1553.2" cy="491.8" rx="12.5" ry="3.2" transform="rotate(-38 1552.1 492.0)" fill="#f00000"/>
<ellipse cx="1730.0" cy="125.6" rx="18.8" ry="9.7" transform="rotate(-36 1730.0 125.6)" fill="rgb(54,53,53)"/>
<ellipse cx="1729.7" cy="125.8" rx="11.6" ry="6.1" transform="rotate(-36 1730.0 125.6)" fill="#e80a0a"/>
<ellipse cx="1440.2" cy="118.8" rx="21.7" ry="6.9" transform="rotate(-38 1440.2 118.8)" fill="rgb(56,52,52)"/>
<ellipse cx="1685.1" cy="496.8" rx="17.4" ry="7.8" transform="rotate(-33 1685.1 496.8)" fill="rgb(87,75,75)"/>
<ellipse cx="1685.5" cy="496.2" rx="8.1" ry="4.3" transform="rotate(-33 1685.1 496.8)" fill="#b8161c"/>
<ellipse cx="1760.6" cy="311.9" rx="21.2" ry="6.9" transform="rotate(-19 1760.6 311.9)" fill="rgb(60,53,53)"/>
<ellipse cx="1893.4" cy="321.7" rx="20.6" ry="8.8" transform="rotate(-40 1893.4 321.7)" fill="rgb(74,68,68)"/>
<ellipse cx="1893.6" cy="321.3" rx="10.6" ry="4.9" transform="rotate(-40 1893.4 321.7)" fill="#c01414"/>
<ellipse cx="1816.8" cy="259.5" rx="17.7" ry="6.9" transform="rotate(-33 1816.8 259.5)" fill="rgb(60,56,56)"/>
<ellipse cx="1818.2" cy="259.4" rx="9.6" ry="3.7" transform="rotate(-33 1816.8 259.5)" fill="#a81818"/>
<ellipse cx="2116.6" cy="91.8" rx="14.3" ry="6.7" transform="rotate(-34 2116.6 91.8)" fill="rgb(54,58,58)"/>
<ellipse cx="1663.8" cy="99.9" rx="17.9" ry="11.3" transform="rotate(-37 1663.8 99.9)" fill="rgb(65,63,63)"/>
<ellipse cx="1665.3" cy="99.6" rx="12.6" ry="7.3" transform="rotate(-37 1663.8 99.9)" fill="#c01414"/>
<ellipse cx="2085.4" cy="257.7" rx="14.8" ry="8.0" transform="rotate(-32 2085.4 257.7)" fill="rgb(58,60,60)"/>
<ellipse cx="2085.4" cy="257.1" rx="8.8" ry="5.4" transform="rotate(-32 2085.4 257.7)" fill="#e80a0a"/>
<ellipse cx="1495.5" cy="273.3" rx="17.7" ry="6.2" transform="rotate(-30 1495.5 273.3)" fill="rgb(74,71,71)"/>
<ellipse cx="1496.4" cy="274.2" rx="11.6" ry="3.4" transform="rotate(-30 1495.5 273.3)" fill="#9a1a20"/>
<ellipse cx="1994.5" cy="123.3" rx="16.7" ry="5.6" transform="rotate(-28 1994.5 123.3)" fill="rgb(70,71,71)"/>
<ellipse cx="1995.9" cy="123.3" rx="11.0" ry="3.7" transform="rotate(-28 1994.5 123.3)" fill="#a81818"/>
<ellipse cx="1808.7" cy="535.1" rx="20.7" ry="6.7" transform="rotate(-17 1808.7 535.1)" fill="rgb(78,71,71)"/>
<ellipse cx="1536.9" cy="42.1" rx="21.7" ry="9.2" transform="rotate(-17 1536.9 42.1)" fill="rgb(80,76,76)"/>
<ellipse cx="1535.2" cy="41.6" rx="11.5" ry="5.4" transform="rotate(-17 1536.9 42.1)" fill="#b8161c"/>
<ellipse cx="1857.5" cy="401.0" rx="18.3" ry="7.1" transform="rotate(-24 1857.5 401.0)" fill="rgb(66,66,66)"/>
<ellipse cx="1859.4" cy="400.2" rx="8.6" ry="3.6" transform="rotate(-24 1857.5 401.0)" fill="#b8161c"/>
<ellipse cx="1698.5" cy="157.3" rx="19.1" ry="8.6" transform="rotate(-26 1698.5 157.3)" fill="rgb(88,90,90)"/>
<ellipse cx="1698.5" cy="156.6" rx="12.2" ry="4.9" transform="rotate(-26 1698.5 157.3)" fill="#b8161c"/>
<ellipse cx="1664.2" cy="163.7" rx="23.4" ry="8.7" transform="rotate(-33 1664.2 163.7)" fill="rgb(75,76,76)"/>
<ellipse cx="1665.3" cy="163.9" rx="14.8" ry="4.6" transform="rotate(-33 1664.2 163.7)" fill="#a81818"/>
<ellipse cx="1496.7" cy="546.3" rx="20.0" ry="8.0" transform="rotate(-18 1496.7 546.3)" fill="rgb(76,80,80)"/>
<ellipse cx="1496.8" cy="547.0" rx="11.8" ry="5.8" transform="rotate(-18 1496.7 546.3)" fill="#f00000"/>
<ellipse cx="1481.3" cy="321.8" rx="16.0" ry="8.6" transform="rotate(-30 1481.3 321.8)" fill="rgb(59,63,63)"/>
<ellipse cx="1482.1" cy="322.0" rx="11.6" ry="4.6" transform="rotate(-30 1481.3 321.8)" fill="#f00000"/>
<ellipse cx="1625.6" cy="329.1" rx="14.4" ry="8.9" transform="rotate(-21 1625.6 329.1)" fill="rgb(95,83,83)"/>
<ellipse cx="1623.8" cy="328.4" rx="10.3" ry="5.8" transform="rotate(-21 1625.6 329.1)" fill="#e80a0a"/>
<ellipse cx="1514.7" cy="95.1" rx="18.6" ry="10.1" transform="rotate(-29 1514.7 95.1)" fill="rgb(64,61,61)"/>
<ellipse cx="1516.3" cy="94.9" rx="10.0" ry="5.2" transform="rotate(-29 1514.7 95.1)" fill="#c01414"/>
<ellipse cx="1618.0" cy="113.5" rx="31.1" ry="9.5" transform="rotate(-23 1618.0 113.5)" fill="rgb(91,90,90)"/>
<ellipse cx="1616.9" cy="114.2" rx="24.9" ry="5.5" transform="rotate(-23 1618.0 113.5)" fill="#e80a0a"/>
<path d="M1405.4,72.0 C1403.2,3.2 1413.4,-59.6 1485.9,-91.6" stroke="#9aa6a6" stroke-width="11.5" fill="none" stroke-opacity="0.55"/>
<path d="M1405.4,72.0 C1403.2,3.2 1413.4,-59.6 1485.9,-91.6" stroke="rgb(251,253,253)" stroke-width="9.3" fill="none"/>
<path d="M1940.0,381.0 C1977.2,328.8 1957.9,264.5 1976.8,208.3" stroke="#9aa6a6" stroke-width="10.3" fill="none" stroke-opacity="0.55"/>
<path d="M1940.0,381.0 C1977.2,328.8 1957.9,264.5 1976.8,208.3" stroke="rgb(243,245,245)" stroke-width="8.1" fill="none"/>
<path d="M2016.3,579.0 C2085.2,603.5 2138.3,579.4 2181.6,525.1" stroke="#9aa6a6" stroke-width="10.1" fill="none" stroke-opacity="0.55"/>
<path d="M2016.3,579.0 C2085.2,603.5 2138.3,579.4 2181.6,525.1" stroke="rgb(241,243,243)" stroke-width="7.9" fill="none"/>
<path d="M1708.8,469.8 C1765.5,411.5 1846.2,464.6 1907.4,427.0" stroke="#9aa6a6" stroke-width="9.8" fill="none" stroke-opacity="0.55"/>
<path d="M1708.8,469.8 C1765.5,411.5 1846.2,464.6 1907.4,427.0" stroke="rgb(246,248,248)" stroke-width="7.6" fill="none"/>
<path d="M2013.6,218.7 C2034.8,183.7 2057.2,149.0 2034.7,105.9" stroke="#9aa6a6" stroke-width="11.3" fill="none" stroke-opacity="0.55"/>
<path d="M2013.6,218.7 C2034.8,183.7 2057.2,149.0 2034.7,105.9" stroke="rgb(246,248,248)" stroke-width="9.1" fill="none"/>
<path d="M1528.6,239.2 C1494.9,132.8 1530.0,34.6 1564.8,-63.7" stroke="#9aa6a6" stroke-width="9.9" fill="none" stroke-opacity="0.55"/>
<path d="M1528.6,239.2 C1494.9,132.8 1530.0,34.6 1564.8,-63.7" stroke="rgb(241,243,243)" stroke-width="7.7" fill="none"/>
<path d="M1794.9,465.6 C1848.7,401.1 1907.7,343.1 1988.4,312.7" stroke="#9aa6a6" stroke-width="8.3" fill="none" stroke-opacity="0.55"/>
<path d="M1794.9,465.6 C1848.7,401.1 1907.7,343.1 1988.4,312.7" stroke="rgb(249,251,251)" stroke-width="6.1" fill="none"/>
<path d="M2019.9,305.7 C2066.5,248.1 2106.9,186.1 2146.9,123.8" stroke="#9aa6a6" stroke-width="8.6" fill="none" stroke-opacity="0.55"/>
<path d="M2019.9,305.7 C2066.5,248.1 2106.9,186.1 2146.9,123.8" stroke="rgb(250,252,252)" stroke-width="6.4" fill="none"/>
<path d="M1881.1,117.8 C1958.3,146.2 2007.9,92.0 2063.8,56.7" stroke="#9aa6a6" stroke-width="8.6" fill="none" stroke-opacity="0.55"/>
<path d="M1881.1,117.8 C1958.3,146.2 2007.9,92.0 2063.8,56.7" stroke="rgb(246,248,248)" stroke-width="6.4" fill="none"/>
<path d="M1674.2,11.4 C1708.8,34.5 1743.3,61.0 1779.3,13.4" stroke="#9aa6a6" stroke-width="9.0" fill="none" stroke-opacity="0.55"/>
<path d="M1674.2,11.4 C1708.8,34.5 1743.3,61.0 1779.3,13.4" stroke="rgb(247,249,249)" stroke-width="6.8" fill="none"/>
<path d="M1574.1,497.2 C1647.8,393.4 1771.4,362.8 1869.9,295.4" stroke="#9aa6a6" stroke-width="7.5" fill="none" stroke-opacity="0.55"/>
<path d="M1574.1,497.2 C1647.8,393.4 1771.4,362.8 1869.9,295.4" stroke="rgb(248,250,250)" stroke-width="5.3" fill="none"/>
<path d="M1342.3,635.0 C1421.6,622.2 1426.9,514.9 1508.4,504.8" stroke="#9aa6a6" stroke-width="9.7" fill="none" stroke-opacity="0.55"/>
<path d="M1342.3,635.0 C1421.6,622.2 1426.9,514.9 1508.4,504.8" stroke="rgb(247,249,249)" stroke-width="7.5" fill="none"/>
<path d="M1363.3,471.5 C1405.0,377.5 1481.5,326.8 1576.9,299.4" stroke="#9aa6a6" stroke-width="9.1" fill="none" stroke-opacity="0.55"/>
<path d="M1363.3,471.5 C1405.0,377.5 1481.5,326.8 1576.9,299.4" stroke="rgb(251,253,253)" stroke-width="6.9" fill="none"/>
<path d="M1714.7,185.1 C1785.7,147.3 1821.4,53.9 1917.7,55.9" stroke="#9aa6a6" stroke-width="10.3" fill="none" stroke-opacity="0.55"/>
<path d="M1714.7,185.1 C1785.7,147.3 1821.4,53.9 1917.7,55.9" stroke="rgb(250,252,252)" stroke-width="8.1" fill="none"/>
<path d="M1638.3,253.8 C1628.3,198.6 1663.7,179.7 1707.5,167.5" stroke="#9aa6a6" stroke-width="8.6" fill="none" stroke-opacity="0.55"/>
<path d="M1638.3,253.8 C1628.3,198.6 1663.7,179.7 1707.5,167.5" stroke="rgb(253,255,255)" stroke-width="6.4" fill="none"/>
<path d="M1566.1,448.2 C1612.2,442.8 1587.6,363.6 1646.4,371.5" stroke="#9aa6a6" stroke-width="9.3" fill="none" stroke-opacity="0.55"/>
<path d="M1566.1,448.2 C1612.2,442.8 1587.6,363.6 1646.4,371.5" stroke="rgb(246,248,248)" stroke-width="7.1" fill="none"/>
<path d="M2022.2,524.5 C2070.5,471.5 2141.7,433.5 2138.3,346.7" stroke="#9aa6a6" stroke-width="11.1" fill="none" stroke-opacity="0.55"/>
<path d="M2022.2,524.5 C2070.5,471.5 2141.7,433.5 2138.3,346.7" stroke="rgb(249,251,251)" stroke-width="8.9" fill="none"/>
<path d="M1890.6,668.8 C1974.1,583.7 1969.4,470.5 1988.0,364.7" stroke="#9aa6a6" stroke-width="11.4" fill="none" stroke-opacity="0.55"/>
<path d="M1890.6,668.8 C1974.1,583.7 1969.4,470.5 1988.0,364.7" stroke="rgb(247,249,249)" stroke-width="9.2" fill="none"/>
<path d="M1975.4,284.8 C2066.3,222.0 2139.9,144.1 2186.0,42.4" stroke="#9aa6a6" stroke-width="7.3" fill="none" stroke-opacity="0.55"/>
<path d="M1975.4,284.8 C2066.3,222.0 2139.9,144.1 2186.0,42.4" stroke="rgb(250,252,252)" stroke-width="5.1" fill="none"/>
<path d="M1857.7,198.9 C1929.7,205.1 1939.7,137.0 1976.0,100.3" stroke="#9aa6a6" stroke-width="10.8" fill="none" stroke-opacity="0.55"/>
<path d="M1857.7,198.9 C1929.7,205.1 1939.7,137.0 1976.0,100.3" stroke="rgb(241,243,243)" stroke-width="8.6" fill="none"/>
<path d="M1461.3,462.9 C1442.9,423.8 1509.9,402.2 1482.1,361.3" stroke="#9aa6a6" stroke-width="10.3" fill="none" stroke-opacity="0.55"/>
<path d="M1461.3,462.9 C1442.9,423.8 1509.9,402.2 1482.1,361.3" stroke="rgb(249,251,251)" stroke-width="8.1" fill="none"/>
<path d="M1824.5,408.8 C1923.7,360.6 1979.8,266.4 2054.8,192.3" stroke="#9aa6a6" stroke-width="10.6" fill="none" stroke-opacity="0.55"/>
<path d="M1824.5,408.8 C1923.7,360.6 1979.8,266.4 2054.8,192.3" stroke="rgb(249,251,251)" stroke-width="8.4" fill="none"/>
<path d="M1366.5,485.2 C1424.7,393.2 1547.4,362.4 1587.4,253.0" stroke="#9aa6a6" stroke-width="7.5" fill="none" stroke-opacity="0.55"/>
<path d="M1366.5,485.2 C1424.7,393.2 1547.4,362.4 1587.4,253.0" stroke="rgb(244,246,246)" stroke-width="5.3" fill="none"/>
<path d="M1764.2,312.3 C1880.9,321.1 1996.7,310.9 2112.1,294.7" stroke="#9aa6a6" stroke-width="11.3" fill="none" stroke-opacity="0.55"/>
<path d="M1764.2,312.3 C1880.9,321.1 1996.7,310.9 2112.1,294.7" stroke="rgb(246,248,248)" stroke-width="9.1" fill="none"/>
<path d="M1450.8,97.6 C1505.3,26.4 1560.9,-43.6 1639.4,-90.8" stroke="#9aa6a6" stroke-width="9.0" fill="none" stroke-opacity="0.55"/>
<path d="M1450.8,97.6 C1505.3,26.4 1560.9,-43.6 1639.4,-90.8" stroke="rgb(252,254,254)" stroke-width="6.8" fill="none"/>
<path d="M1460.2,153.5 C1499.4,69.1 1592.1,60.2 1657.8,13.2" stroke="#9aa6a6" stroke-width="10.1" fill="none" stroke-opacity="0.55"/>
<path d="M1460.2,153.5 C1499.4,69.1 1592.1,60.2 1657.8,13.2" stroke="rgb(242,244,244)" stroke-width="7.9" fill="none"/>
<path d="M2040.3,534.7 C2089.0,538.2 2138.8,560.0 2185.0,525.6" stroke="#9aa6a6" stroke-width="7.5" fill="none" stroke-opacity="0.55"/>
<path d="M2040.3,534.7 C2089.0,538.2 2138.8,560.0 2185.0,525.6" stroke="rgb(247,249,249)" stroke-width="5.3" fill="none"/>
<path d="M1409.7,660.6 C1502.5,588.6 1616.7,542.9 1683.6,438.8" stroke="#9aa6a6" stroke-width="11.4" fill="none" stroke-opacity="0.55"/>
<path d="M1409.7,660.6 C1502.5,588.6 1616.7,542.9 1683.6,438.8" stroke="rgb(249,251,251)" stroke-width="9.2" fill="none"/>
<path d="M1398.6,310.4 C1467.8,280.1 1555.6,316.3 1614.6,249.9" stroke="#9aa6a6" stroke-width="9.8" fill="none" stroke-opacity="0.55"/>
<path d="M1398.6,310.4 C1467.8,280.1 1555.6,316.3 1614.6,249.9" stroke="rgb(250,252,252)" stroke-width="7.6" fill="none"/>
<path d="M1808.7,322.4 C1782.8,273.1 1799.1,235.8 1842.0,206.1" stroke="#9aa6a6" stroke-width="9.5" fill="none" stroke-opacity="0.55"/>
<path d="M1808.7,322.4 C1782.8,273.1 1799.1,235.8 1842.0,206.1" stroke="rgb(251,253,253)" stroke-width="7.3" fill="none"/>
<path d="M1557.3,621.2 C1563.8,555.7 1621.7,533.1 1662.0,495.9" stroke="#9aa6a6" stroke-width="9.8" fill="none" stroke-opacity="0.55"/>
<path d="M1557.3,621.2 C1563.8,555.7 1621.7,533.1 1662.0,495.9" stroke="rgb(241,243,243)" stroke-width="7.6" fill="none"/>
<path d="M1326.0,272.4 C1416.3,275.1 1438.4,164.3 1521.4,154.8" stroke="#9aa6a6" stroke-width="8.1" fill="none" stroke-opacity="0.55"/>
<path d="M1326.0,272.4 C1416.3,275.1 1438.4,164.3 1521.4,154.8" stroke="rgb(242,244,244)" stroke-width="5.9" fill="none"/>
<path d="M1779.3,392.7 C1756.9,346.4 1766.9,310.7 1813.9,287.1" stroke="#9aa6a6" stroke-width="10.5" fill="none" stroke-opacity="0.55"/>
<path d="M1779.3,392.7 C1756.9,346.4 1766.9,310.7 1813.9,287.1" stroke="rgb(243,245,245)" stroke-width="8.3" fill="none"/>
<path d="M1559.9,471.5 C1634.1,450.3 1648.3,362.3 1714.8,332.6" stroke="#9aa6a6" stroke-width="8.0" fill="none" stroke-opacity="0.55"/>
<path d="M1559.9,471.5 C1634.1,450.3 1648.3,362.3 1714.8,332.6" stroke="rgb(246,248,248)" stroke-width="5.8" fill="none"/>
<path d="M1448.5,386.2 C1550.3,344.9 1595.3,228.3 1702.8,194.6" stroke="#9aa6a6" stroke-width="8.5" fill="none" stroke-opacity="0.55"/>
<path d="M1448.5,386.2 C1550.3,344.9 1595.3,228.3 1702.8,194.6" stroke="rgb(247,249,249)" stroke-width="6.3" fill="none"/>
<path d="M1789.0,287.8 C1807.1,239.9 1864.2,242.4 1892.4,207.6" stroke="#9aa6a6" stroke-width="9.9" fill="none" stroke-opacity="0.55"/>
<path d="M1789.0,287.8 C1807.1,239.9 1864.2,242.4 1892.4,207.6" stroke="rgb(242,244,244)" stroke-width="7.7" fill="none"/>
<path d="M1754.5,296.5 C1851.5,248.3 1916.5,163.8 1990.5,89.3" stroke="#9aa6a6" stroke-width="7.5" fill="none" stroke-opacity="0.55"/>
<path d="M1754.5,296.5 C1851.5,248.3 1916.5,163.8 1990.5,89.3" stroke="rgb(253,255,255)" stroke-width="5.3" fill="none"/>
<path d="M1399.1,224.3 C1397.2,128.6 1473.8,49.5 1456.7,-49.3" stroke="#9aa6a6" stroke-width="10.3" fill="none" stroke-opacity="0.55"/>
<path d="M1399.1,224.3 C1397.2,128.6 1473.8,49.5 1456.7,-49.3" stroke="rgb(245,247,247)" stroke-width="8.1" fill="none"/>
<path d="M1982.0,548.0 C2061.4,494.3 2096.2,392.9 2189.4,354.0" stroke="#9aa6a6" stroke-width="9.1" fill="none" stroke-opacity="0.55"/>
<path d="M1982.0,548.0 C2061.4,494.3 2096.2,392.9 2189.4,354.0" stroke="rgb(243,245,245)" stroke-width="6.9" fill="none"/>
<path d="M1917.2,567.7 C2003.4,491.7 2041.0,391.0 2062.4,282.1" stroke="#9aa6a6" stroke-width="8.2" fill="none" stroke-opacity="0.55"/>
<path d="M1917.2,567.7 C2003.4,491.7 2041.0,391.0 2062.4,282.1" stroke="rgb(249,251,251)" stroke-width="6.0" fill="none"/>
<path d="M1637.2,230.8 C1725.0,192.8 1813.9,157.1 1898.9,112.9" stroke="#9aa6a6" stroke-width="10.0" fill="none" stroke-opacity="0.55"/>
<path d="M1637.2,230.8 C1725.0,192.8 1813.9,157.1 1898.9,112.9" stroke="rgb(245,247,247)" stroke-width="7.8" fill="none"/>
<path d="M2028.2,567.0 C2101.3,590.4 2153.9,567.5 2185.5,497.2" stroke="#9aa6a6" stroke-width="10.2" fill="none" stroke-opacity="0.55"/>
<path d="M2028.2,567.0 C2101.3,590.4 2153.9,567.5 2185.5,497.2" stroke="rgb(246,248,248)" stroke-width="8.0" fill="none"/>
<path d="M2022.6,501.3 C2047.9,437.8 2033.0,360.9 2087.7,307.3" stroke="#9aa6a6" stroke-width="11.5" fill="none" stroke-opacity="0.55"/>
<path d="M2022.6,501.3 C2047.9,437.8 2033.0,360.9 2087.7,307.3" stroke="rgb(251,253,253)" stroke-width="9.3" fill="none"/>
<path d="M2030.1,89.3 C2095.2,23.3 2173.7,-7.1 2266.5,0.8" stroke="#9aa6a6" stroke-width="10.8" fill="none" stroke-opacity="0.55"/>
<path d="M2030.1,89.3 C2095.2,23.3 2173.7,-7.1 2266.5,0.8" stroke="rgb(252,254,254)" stroke-width="8.6" fill="none"/>
<path d="M2070.9,236.4 C2112.8,167.6 2141.8,90.4 2204.3,35.3" stroke="#9aa6a6" stroke-width="9.2" fill="none" stroke-opacity="0.55"/>
<path d="M2070.9,236.4 C2112.8,167.6 2141.8,90.4 2204.3,35.3" stroke="rgb(250,252,252)" stroke-width="7.0" fill="none"/>
<path d="M1468.5,516.0 C1510.9,491.5 1568.9,484.3 1574.5,419.4" stroke="#9aa6a6" stroke-width="7.9" fill="none" stroke-opacity="0.55"/>
<path d="M1468.5,516.0 C1510.9,491.5 1568.9,484.3 1574.5,419.4" stroke="rgb(248,250,250)" stroke-width="5.7" fill="none"/>
<path d="M1906.3,379.7 C1986.8,292.7 2100.9,257.1 2194.7,190.5" stroke="#9aa6a6" stroke-width="10.1" fill="none" stroke-opacity="0.55"/>
<path d="M1906.3,379.7 C1986.8,292.7 2100.9,257.1 2194.7,190.5" stroke="rgb(240,242,242)" stroke-width="7.9" fill="none"/>
<path d="M2042.5,507.6 C2107.9,419.7 2194.0,367.6 2303.5,355.7" stroke="#9aa6a6" stroke-width="9.4" fill="none" stroke-opacity="0.55"/>
<path d="M2042.5,507.6 C2107.9,419.7 2194.0,367.6 2303.5,355.7" stroke="rgb(248,250,250)" stroke-width="7.2" fill="none"/>
<path d="M1769.6,111.3 C1829.4,58.9 1801.4,-16.4 1819.6,-79.7" stroke="#9aa6a6" stroke-width="9.3" fill="none" stroke-opacity="0.55"/>
<path d="M1769.6,111.3 C1829.4,58.9 1801.4,-16.4 1819.6,-79.7" stroke="rgb(248,250,250)" stroke-width="7.1" fill="none"/>
<path d="M1798.5,653.9 C1804.7,590.3 1824.9,528.7 1825.9,464.3" stroke="#9aa6a6" stroke-width="10.5" fill="none" stroke-opacity="0.55"/>
<path d="M1798.5,653.9 C1804.7,590.3 1824.9,528.7 1825.9,464.3" stroke="rgb(250,252,252)" stroke-width="8.3" fill="none"/>
<path d="M1848.2,82.8 C1933.1,54.8 1976.3,-22.1 2037.3,-78.2" stroke="#9aa6a6" stroke-width="11.6" fill="none" stroke-opacity="0.55"/>
<path d="M1848.2,82.8 C1933.1,54.8 1976.3,-22.1 2037.3,-78.2" stroke="rgb(245,247,247)" stroke-width="9.4" fill="none"/>
<path d="M1457.2,174.8 C1480.5,105.2 1522.2,43.3 1543.6,-27.1" stroke="#9aa6a6" stroke-width="8.2" fill="none" stroke-opacity="0.55"/>
<path d="M1457.2,174.8 C1480.5,105.2 1522.2,43.3 1543.6,-27.1" stroke="rgb(248,250,250)" stroke-width="6.0" fill="none"/>
<path d="M1848.8,605.6 C1883.7,555.5 1907.2,494.6 1973.1,473.8" stroke="#9aa6a6" stroke-width="10.0" fill="none" stroke-opacity="0.55"/>
<path d="M1848.8,605.6 C1883.7,555.5 1907.2,494.6 1973.1,473.8" stroke="rgb(242,244,244)" stroke-width="7.8" fill="none"/>
<path d="M1374.7,424.1 C1406.2,373.3 1455.6,423.2 1492.6,403.2" stroke="#9aa6a6" stroke-width="8.4" fill="none" stroke-opacity="0.55"/>
<path d="M1374.7,424.1 C1406.2,373.3 1455.6,423.2 1492.6,403.2" stroke="rgb(243,245,245)" stroke-width="6.2" fill="none"/>
<path d="M1829.9,616.7 C1867.3,569.3 1937.3,590.7 1976.5,547.0" stroke="#9aa6a6" stroke-width="11.1" fill="none" stroke-opacity="0.55"/>
<path d="M1829.9,616.7 C1867.3,569.3 1937.3,590.7 1976.5,547.0" stroke="rgb(242,244,244)" stroke-width="8.9" fill="none"/>
<path d="M1944.7,467.1 C1960.0,397.3 2019.3,376.4 2074.1,350.5" stroke="#9aa6a6" stroke-width="7.9" fill="none" stroke-opacity="0.55"/>
<path d="M1944.7,467.1 C1960.0,397.3 2019.3,376.4 2074.1,350.5" stroke="rgb(246,248,248)" stroke-width="5.7" fill="none"/>
<path d="M1791.5,525.3 C1861.0,444.8 1959.8,434.9 2054.8,415.9" stroke="#9aa6a6" stroke-width="11.4" fill="none" stroke-opacity="0.55"/>
<path d="M1791.5,525.3 C1861.0,444.8 1959.8,434.9 2054.8,415.9" stroke="rgb(244,246,246)" stroke-width="9.2" fill="none"/>
<path d="M1697.1,436.2 C1730.4,408.6 1761.2,378.3 1793.0,349.1" stroke="#9aa6a6" stroke-width="9.2" fill="none" stroke-opacity="0.55"/>
<path d="M1697.1,436.2 C1730.4,408.6 1761.2,378.3 1793.0,349.1" stroke="rgb(244,246,246)" stroke-width="7.0" fill="none"/>
<path d="M2002.9,657.7 C2073.9,620.9 2056.0,519.8 2128.5,484.1" stroke="#9aa6a6" stroke-width="9.4" fill="none" stroke-opacity="0.55"/>
<path d="M2002.9,657.7 C2073.9,620.9 2056.0,519.8 2128.5,484.1" stroke="rgb(240,242,242)" stroke-width="7.2" fill="none"/>
<path d="M1536.8,485.4 C1548.3,379.9 1653.5,327.4 1681.0,230.9" stroke="#9aa6a6" stroke-width="11.5" fill="none" stroke-opacity="0.55"/>
<path d="M1536.8,485.4 C1548.3,379.9 1653.5,327.4 1681.0,230.9" stroke="rgb(243,245,245)" stroke-width="9.3" fill="none"/>
<path d="M2081.6,466.2 C2137.5,459.0 2148.5,421.2 2144.8,373.4" stroke="#9aa6a6" stroke-width="7.9" fill="none" stroke-opacity="0.55"/>
<path d="M2081.6,466.2 C2137.5,459.0 2148.5,421.2 2144.8,373.4" stroke="rgb(244,246,246)" stroke-width="5.7" fill="none"/>
<path d="M1658.9,549.6 C1646.1,480.7 1716.7,455.5 1735.6,403.3" stroke="#9aa6a6" stroke-width="7.5" fill="none" stroke-opacity="0.55"/>
<path d="M1658.9,549.6 C1646.1,480.7 1716.7,455.5 1735.6,403.3" stroke="rgb(243,245,245)" stroke-width="5.3" fill="none"/>
<path d="M1393.0,282.3 C1458.8,196.4 1516.9,103.4 1611.5,43.9" stroke="#9aa6a6" stroke-width="9.8" fill="none" stroke-opacity="0.55"/>
<path d="M1393.0,282.3 C1458.8,196.4 1516.9,103.4 1611.5,43.9" stroke="rgb(244,246,246)" stroke-width="7.6" fill="none"/>
<path d="M1762.3,394.7 C1797.0,343.5 1876.2,397.8 1905.6,334.2" stroke="#9aa6a6" stroke-width="8.5" fill="none" stroke-opacity="0.55"/>
<path d="M1762.3,394.7 C1797.0,343.5 1876.2,397.8 1905.6,334.2" stroke="rgb(250,252,252)" stroke-width="6.3" fill="none"/>
<path d="M1759.4,202.6 C1771.2,98.6 1841.3,31.2 1909.7,-37.3" stroke="#9aa6a6" stroke-width="7.4" fill="none" stroke-opacity="0.55"/>
<path d="M1759.4,202.6 C1771.2,98.6 1841.3,31.2 1909.7,-37.3" stroke="rgb(250,252,252)" stroke-width="5.2" fill="none"/>
<path d="M1618.5,591.7 C1691.8,565.0 1645.0,472.9 1702.4,437.6" stroke="#9aa6a6" stroke-width="9.3" fill="none" stroke-opacity="0.55"/>
<path d="M1618.5,591.7 C1691.8,565.0 1645.0,472.9 1702.4,437.6" stroke="rgb(244,246,246)" stroke-width="7.1" fill="none"/>
<path d="M1284.1,137.5 C1349.8,33.1 1452.4,-23.7 1558.5,-76.1" stroke="#9aa6a6" stroke-width="9.8" fill="none" stroke-opacity="0.55"/>
<path d="M1284.1,137.5 C1349.8,33.1 1452.4,-23.7 1558.5,-76.1" stroke="rgb(251,253,253)" stroke-width="7.6" fill="none"/>
<path d="M1644.4,144.9 C1662.1,59.5 1755.0,31.8 1787.7,-41.9" stroke="#9aa6a6" stroke-width="9.7" fill="none" stroke-opacity="0.55"/>
<path d="M1644.4,144.9 C1662.1,59.5 1755.0,31.8 1787.7,-41.9" stroke="rgb(244,246,246)" stroke-width="7.5" fill="none"/>
<path d="M1338.1,375.0 C1441.5,389.8 1531.5,302.3 1637.3,335.6" stroke="#9aa6a6" stroke-width="10.7" fill="none" stroke-opacity="0.55"/>
<path d="M1338.1,375.0 C1441.5,389.8 1531.5,302.3 1637.3,335.6" stroke="rgb(241,243,243)" stroke-width="8.5" fill="none"/>
<path d="M1392.9,123.7 C1481.2,93.0 1574.4,70.4 1628.7,-17.2" stroke="#9aa6a6" stroke-width="8.9" fill="none" stroke-opacity="0.55"/>
<path d="M1392.9,123.7 C1481.2,93.0 1574.4,70.4 1628.7,-17.2" stroke="rgb(240,242,242)" stroke-width="6.7" fill="none"/>
<path d="M1976.7,490.7 C2097.4,505.0 2217.0,508.4 2330.6,453.9" stroke="#9aa6a6" stroke-width="7.2" fill="none" stroke-opacity="0.55"/>
<path d="M1976.7,490.7 C2097.4,505.0 2217.0,508.4 2330.6,453.9" stroke="rgb(241,243,243)" stroke-width="5.0" fill="none"/>
<path d="M1423.4,697.0 C1445.3,604.5 1503.6,518.8 1475.9,416.9" stroke="#9aa6a6" stroke-width="9.7" fill="none" stroke-opacity="0.55"/>
<path d="M1423.4,697.0 C1445.3,604.5 1503.6,518.8 1475.9,416.9" stroke="rgb(250,252,252)" stroke-width="7.5" fill="none"/>
<path d="M1898.0,476.7 C1977.5,424.5 2077.2,423.5 2157.8,374.2" stroke="#9aa6a6" stroke-width="11.6" fill="none" stroke-opacity="0.55"/>
<path d="M1898.0,476.7 C1977.5,424.5 2077.2,423.5 2157.8,374.2" stroke="rgb(242,244,244)" stroke-width="9.4" fill="none"/>
<path d="M1411.3,482.8 C1399.2,397.5 1498.3,362.3 1501.2,283.8" stroke="#9aa6a6" stroke-width="8.3" fill="none" stroke-opacity="0.55"/>
<path d="M1411.3,482.8 C1399.2,397.5 1498.3,362.3 1501.2,283.8" stroke="rgb(246,248,248)" stroke-width="6.1" fill="none"/>
<path d="M1711.3,260.7 C1781.7,251.6 1813.9,168.6 1889.1,168.5" stroke="#9aa6a6" stroke-width="10.1" fill="none" stroke-opacity="0.55"/>
<path d="M1711.3,260.7 C1781.7,251.6 1813.9,168.6 1889.1,168.5" stroke="rgb(248,250,250)" stroke-width="7.9" fill="none"/>
<path d="M1799.6,303.8 C1907.7,252.5 1939.6,123.5 2041.9,66.3" stroke="#9aa6a6" stroke-width="9.9" fill="none" stroke-opacity="0.55"/>
<path d="M1799.6,303.8 C1907.7,252.5 1939.6,123.5 2041.9,66.3" stroke="rgb(250,252,252)" stroke-width="7.7" fill="none"/>
<path d="M1792.8,497.3 C1851.6,463.0 1895.1,412.1 1939.5,362.1" stroke="#9aa6a6" stroke-width="9.5" fill="none" stroke-opacity="0.55"/>
<path d="M1792.8,497.3 C1851.6,463.0 1895.1,412.1 1939.5,362.1" stroke="rgb(248,250,250)" stroke-width="7.3" fill="none"/>
<path d="M1589.3,310.7 C1595.6,226.1 1681.9,212.1 1723.4,158.5" stroke="#9aa6a6" stroke-width="7.4" fill="none" stroke-opacity="0.55"/>
<path d="M1589.3,310.7 C1595.6,226.1 1681.9,212.1 1723.4,158.5" stroke="rgb(251,253,253)" stroke-width="5.2" fill="none"/>
<path d="M1618.0,490.5 C1729.9,470.2 1842.1,457.1 1955.7,476.0" stroke="#9aa6a6" stroke-width="9.3" fill="none" stroke-opacity="0.55"/>
<path d="M1618.0,490.5 C1729.9,470.2 1842.1,457.1 1955.7,476.0" stroke="rgb(242,244,244)" stroke-width="7.1" fill="none"/>
<path d="M1732.7,199.1 C1792.4,127.2 1882.4,95.7 1951.1,35.8" stroke="#9aa6a6" stroke-width="8.8" fill="none" stroke-opacity="0.55"/>
<path d="M1732.7,199.1 C1792.4,127.2 1882.4,95.7 1951.1,35.8" stroke="rgb(243,245,245)" stroke-width="6.6" fill="none"/>
<path d="M1406.9,102.0 C1476.8,63.9 1468.1,-10.8 1488.3,-72.1" stroke="#9aa6a6" stroke-width="8.6" fill="none" stroke-opacity="0.55"/>
<path d="M1406.9,102.0 C1476.8,63.9 1468.1,-10.8 1488.3,-72.1" stroke="rgb(248,250,250)" stroke-width="6.4" fill="none"/>
<path d="M2051.7,673.3 C2037.3,569.8 2018.3,465.8 2079.0,369.0" stroke="#9aa6a6" stroke-width="11.1" fill="none" stroke-opacity="0.55"/>
<path d="M2051.7,673.3 C2037.3,569.8 2018.3,465.8 2079.0,369.0" stroke="rgb(251,253,253)" stroke-width="8.9" fill="none"/>
<path d="M1566.8,417.0 C1578.0,298.2 1630.4,195.7 1693.9,97.7" stroke="#9aa6a6" stroke-width="9.0" fill="none" stroke-opacity="0.55"/>
<path d="M1566.8,417.0 C1578.0,298.2 1630.4,195.7 1693.9,97.7" stroke="rgb(252,254,254)" stroke-width="6.8" fill="none"/>
<path d="M1741.1,221.1 C1814.1,171.6 1903.8,144.9 1954.0,64.5" stroke="#9aa6a6" stroke-width="8.1" fill="none" stroke-opacity="0.55"/>
<path d="M1741.1,221.1 C1814.1,171.6 1903.8,144.9 1954.0,64.5" stroke="rgb(245,247,247)" stroke-width="5.9" fill="none"/>
<path d="M1295.5,516.3 C1385.6,469.2 1489.0,441.4 1543.8,343.6" stroke="#9aa6a6" stroke-width="7.6" fill="none" stroke-opacity="0.55"/>
<path d="M1295.5,516.3 C1385.6,469.2 1489.0,441.4 1543.8,343.6" stroke="rgb(252,254,254)" stroke-width="5.4" fill="none"/>
<path d="M1982.2,277.9 C2008.5,234.2 2058.4,245.6 2096.3,229.1" stroke="#9aa6a6" stroke-width="10.1" fill="none" stroke-opacity="0.55"/>
<path d="M1982.2,277.9 C2008.5,234.2 2058.4,245.6 2096.3,229.1" stroke="rgb(247,249,249)" stroke-width="7.9" fill="none"/>
<path d="M2088.6,397.3 C2084.8,322.1 2175.0,331.0 2195.6,277.6" stroke="#9aa6a6" stroke-width="7.3" fill="none" stroke-opacity="0.55"/>
<path d="M2088.6,397.3 C2084.8,322.1 2175.0,331.0 2195.6,277.6" stroke="rgb(253,255,255)" stroke-width="5.1" fill="none"/>
<path d="M1843.4,445.5 C1958.9,405.7 2028.0,289.2 2150.1,260.3" stroke="#9aa6a6" stroke-width="9.0" fill="none" stroke-opacity="0.55"/>
<path d="M1843.4,445.5 C1958.9,405.7 2028.0,289.2 2150.1,260.3" stroke="rgb(251,253,253)" stroke-width="6.8" fill="none"/>
<path d="M1711.7,216.5 C1748.7,204.5 1765.3,167.3 1796.3,147.8" stroke="#9aa6a6" stroke-width="8.6" fill="none" stroke-opacity="0.55"/>
<path d="M1711.7,216.5 C1748.7,204.5 1765.3,167.3 1796.3,147.8" stroke="rgb(248,250,250)" stroke-width="6.4" fill="none"/>
<path d="M1696.2,588.9 C1787.3,579.7 1830.9,500.6 1896.1,453.3" stroke="#9aa6a6" stroke-width="9.3" fill="none" stroke-opacity="0.55"/>
<path d="M1696.2,588.9 C1787.3,579.7 1830.9,500.6 1896.1,453.3" stroke="rgb(245,247,247)" stroke-width="7.1" fill="none"/>
<path d="M1294.5,98.4 C1401.9,35.4 1524.5,45.0 1641.0,25.6" stroke="#9aa6a6" stroke-width="7.9" fill="none" stroke-opacity="0.55"/>
<path d="M1294.5,98.4 C1401.9,35.4 1524.5,45.0 1641.0,25.6" stroke="rgb(248,250,250)" stroke-width="5.7" fill="none"/>
<path d="M1364.4,140.7 C1421.1,125.6 1489.8,141.6 1527.7,77.6" stroke="#9aa6a6" stroke-width="11.3" fill="none" stroke-opacity="0.55"/>
<path d="M1364.4,140.7 C1421.1,125.6 1489.8,141.6 1527.7,77.6" stroke="rgb(251,253,253)" stroke-width="9.1" fill="none"/>
<path d="M1542.6,410.6 C1583.5,408.9 1607.0,367.3 1647.5,364.8" stroke="#9aa6a6" stroke-width="7.5" fill="none" stroke-opacity="0.55"/>
<path d="M1542.6,410.6 C1583.5,408.9 1607.0,367.3 1647.5,364.8" stroke="rgb(241,243,243)" stroke-width="5.3" fill="none"/>
<path d="M1350.8,485.5 C1428.0,418.6 1475.1,316.1 1584.8,287.7" stroke="#9aa6a6" stroke-width="7.7" fill="none" stroke-opacity="0.55"/>
<path d="M1350.8,485.5 C1428.0,418.6 1475.1,316.1 1584.8,287.7" stroke="rgb(246,248,248)" stroke-width="5.5" fill="none"/>
<path d="M1629.5,160.9 C1684.4,136.7 1693.6,76.2 1728.5,36.2" stroke="#9aa6a6" stroke-width="10.8" fill="none" stroke-opacity="0.55"/>
<path d="M1629.5,160.9 C1684.4,136.7 1693.6,76.2 1728.5,36.2" stroke="rgb(247,249,249)" stroke-width="8.6" fill="none"/>
<path d="M1995.6,125.4 C2063.0,51.2 2140.4,-17.2 2145.5,-128.3" stroke="#9aa6a6" stroke-width="10.4" fill="none" stroke-opacity="0.55"/>
<path d="M1995.6,125.4 C2063.0,51.2 2140.4,-17.2 2145.5,-128.3" stroke="rgb(244,246,246)" stroke-width="8.2" fill="none"/>
<path d="M1763.3,129.3 C1886.9,128.5 1957.3,5.2 2076.0,-6.9" stroke="#9aa6a6" stroke-width="11.5" fill="none" stroke-opacity="0.55"/>
<path d="M1763.3,129.3 C1886.9,128.5 1957.3,5.2 2076.0,-6.9" stroke="rgb(242,244,244)" stroke-width="9.3" fill="none"/>
<path d="M1583.6,594.9 C1661.3,623.3 1714.2,561.8 1778.4,541.1" stroke="#9aa6a6" stroke-width="8.3" fill="none" stroke-opacity="0.55"/>
<path d="M1583.6,594.9 C1661.3,623.3 1714.2,561.8 1778.4,541.1" stroke="rgb(249,251,251)" stroke-width="6.1" fill="none"/>
<path d="M1393.5,374.8 C1443.7,307.5 1524.5,282.3 1588.1,233.3" stroke="#9aa6a6" stroke-width="8.9" fill="none" stroke-opacity="0.55"/>
<path d="M1393.5,374.8 C1443.7,307.5 1524.5,282.3 1588.1,233.3" stroke="rgb(246,248,248)" stroke-width="6.7" fill="none"/>
<path d="M2022.4,26.9 C2101.7,32.0 2113.9,-46.2 2159.2,-83.2" stroke="#9aa6a6" stroke-width="7.3" fill="none" stroke-opacity="0.55"/>
<path d="M2022.4,26.9 C2101.7,32.0 2113.9,-46.2 2159.2,-83.2" stroke="rgb(241,243,243)" stroke-width="5.1" fill="none"/>
<path d="M1760.7,373.4 C1752.7,311.1 1828.9,284.7 1824.5,223.9" stroke="#9aa6a6" stroke-width="11.3" fill="none" stroke-opacity="0.55"/>
<path d="M1760.7,373.4 C1752.7,311.1 1828.9,284.7 1824.5,223.9" stroke="rgb(242,244,244)" stroke-width="9.1" fill="none"/>
<path d="M2112.2,251.7 C2186.0,173.6 2214.5,80.1 2206.8,-25.7" stroke="#9aa6a6" stroke-width="7.9" fill="none" stroke-opacity="0.55"/>
<path d="M2112.2,251.7 C2186.0,173.6 2214.5,80.1 2206.8,-25.7" stroke="rgb(243,245,245)" stroke-width="5.7" fill="none"/>
<path d="M1848.6,190.7 C1884.7,162.1 1873.8,112.6 1898.4,78.9" stroke="#9aa6a6" stroke-width="11.3" fill="none" stroke-opacity="0.55"/>
<path d="M1848.6,190.7 C1884.7,162.1 1873.8,112.6 1898.4,78.9" stroke="rgb(249,251,251)" stroke-width="9.1" fill="none"/>
<path d="M1696.4,591.5 C1754.4,563.0 1758.0,478.0 1829.4,463.4" stroke="#9aa6a6" stroke-width="7.7" fill="none" stroke-opacity="0.55"/>
<path d="M1696.4,591.5 C1754.4,563.0 1758.0,478.0 1829.4,463.4" stroke="rgb(244,246,246)" stroke-width="5.5" fill="none"/>
<path d="M1639.9,250.0 C1676.9,157.1 1639.0,46.0 1710.5,-38.5" stroke="#9aa6a6" stroke-width="11.0" fill="none" stroke-opacity="0.55"/>
<path d="M1639.9,250.0 C1676.9,157.1 1639.0,46.0 1710.5,-38.5" stroke="rgb(252,254,254)" stroke-width="8.8" fill="none"/>
<path d="M1663.1,592.6 C1772.3,576.5 1807.0,440.2 1921.4,432.5" stroke="#9aa6a6" stroke-width="7.6" fill="none" stroke-opacity="0.55"/>
<path d="M1663.1,592.6 C1772.3,576.5 1807.0,440.2 1921.4,432.5" stroke="rgb(250,252,252)" stroke-width="5.4" fill="none"/>
<path d="M1483.2,455.2 C1548.0,400.0 1631.5,364.5 1668.5,279.9" stroke="#9aa6a6" stroke-width="8.6" fill="none" stroke-opacity="0.55"/>
<path d="M1483.2,455.2 C1548.0,400.0 1631.5,364.5 1668.5,279.9" stroke="rgb(251,253,253)" stroke-width="6.4" fill="none"/>
<path d="M1821.2,477.7 C1832.9,391.8 1815.1,299.1 1879.9,225.7" stroke="#9aa6a6" stroke-width="7.8" fill="none" stroke-opacity="0.55"/>
<path d="M1821.2,477.7 C1832.9,391.8 1815.1,299.1 1879.9,225.7" stroke="rgb(248,250,250)" stroke-width="5.6" fill="none"/>
<path d="M1506.0,453.2 C1583.2,404.6 1681.8,389.7 1736.8,306.3" stroke="#9aa6a6" stroke-width="11.3" fill="none" stroke-opacity="0.55"/>
<path d="M1506.0,453.2 C1583.2,404.6 1681.8,389.7 1736.8,306.3" stroke="rgb(248,250,250)" stroke-width="9.1" fill="none"/>
<path d="M1744.4,207.8 C1781.8,137.3 1867.6,162.7 1918.9,119.7" stroke="#9aa6a6" stroke-width="7.4" fill="none" stroke-opacity="0.55"/>
<path d="M1744.4,207.8 C1781.8,137.3 1867.6,162.7 1918.9,119.7" stroke="rgb(251,253,253)" stroke-width="5.2" fill="none"/>
<path d="M1439.3,298.0 C1530.2,224.2 1542.5,87.6 1653.6,30.0" stroke="#9aa6a6" stroke-width="7.9" fill="none" stroke-opacity="0.55"/>
<path d="M1439.3,298.0 C1530.2,224.2 1542.5,87.6 1653.6,30.0" stroke="rgb(241,243,243)" stroke-width="5.7" fill="none"/>
<path d="M1675.0,457.3 C1682.8,399.5 1774.8,439.0 1774.2,371.4" stroke="#9aa6a6" stroke-width="7.2" fill="none" stroke-opacity="0.55"/>
<path d="M1675.0,457.3 C1682.8,399.5 1774.8,439.0 1774.2,371.4" stroke="rgb(240,242,242)" stroke-width="5.0" fill="none"/>
<path d="M1492.1,380.4 C1553.7,316.9 1560.5,214.3 1644.5,166.8" stroke="#9aa6a6" stroke-width="9.9" fill="none" stroke-opacity="0.55"/>
<path d="M1492.1,380.4 C1553.7,316.9 1560.5,214.3 1644.5,166.8" stroke="rgb(250,252,252)" stroke-width="7.7" fill="none"/>
<path d="M1742.7,416.0 C1787.2,348.7 1879.6,333.2 1915.6,256.6" stroke="#9aa6a6" stroke-width="8.8" fill="none" stroke-opacity="0.55"/>
<path d="M1742.7,416.0 C1787.2,348.7 1879.6,333.2 1915.6,256.6" stroke="rgb(241,243,243)" stroke-width="6.6" fill="none"/>
<path d="M1901.1,459.3 C1950.4,464.0 2002.3,474.8 2020.8,407.9" stroke="#9aa6a6" stroke-width="8.5" fill="none" stroke-opacity="0.55"/>
<path d="M1901.1,459.3 C1950.4,464.0 2002.3,474.8 2020.8,407.9" stroke="rgb(240,242,242)" stroke-width="6.3" fill="none"/>
<path d="M1785.9,575.3 C1904.7,535.7 1992.9,456.3 2067.5,359.2" stroke="#9aa6a6" stroke-width="8.4" fill="none" stroke-opacity="0.55"/>
<path d="M1785.9,575.3 C1904.7,535.7 1992.9,456.3 2067.5,359.2" stroke="rgb(248,250,250)" stroke-width="6.2" fill="none"/>
<path d="M1807.0,105.7 C1843.6,85.0 1829.1,13.2 1892.9,19.7" stroke="#9aa6a6" stroke-width="10.1" fill="none" stroke-opacity="0.55"/>
<path d="M1807.0,105.7 C1843.6,85.0 1829.1,13.2 1892.9,19.7" stroke="rgb(252,254,254)" stroke-width="7.9" fill="none"/>
<path d="M1925.5,564.5 C2003.6,534.6 1978.5,417.8 2067.0,396.6" stroke="#9aa6a6" stroke-width="8.6" fill="none" stroke-opacity="0.55"/>
<path d="M1925.5,564.5 C2003.6,534.6 1978.5,417.8 2067.0,396.6" stroke="rgb(247,249,249)" stroke-width="6.4" fill="none"/>
<path d="M1389.7,195.9 C1480.5,151.8 1566.0,95.9 1666.1,72.8" stroke="#9aa6a6" stroke-width="11.1" fill="none" stroke-opacity="0.55"/>
<path d="M1389.7,195.9 C1480.5,151.8 1566.0,95.9 1666.1,72.8" stroke="rgb(251,253,253)" stroke-width="8.9" fill="none"/>
<path d="M1912.4,331.3 C2024.6,312.4 2075.7,192.0 2184.5,167.5" stroke="#9aa6a6" stroke-width="10.6" fill="none" stroke-opacity="0.55"/>
<path d="M1912.4,331.3 C2024.6,312.4 2075.7,192.0 2184.5,167.5" stroke="rgb(247,249,249)" stroke-width="8.4" fill="none"/>
<path d="M1624.1,399.8 C1662.3,322.3 1741.6,272.3 1767.5,186.5" stroke="#9aa6a6" stroke-width="11.3" fill="none" stroke-opacity="0.55"/>
<path d="M1624.1,399.8 C1662.3,322.3 1741.6,272.3 1767.5,186.5" stroke="rgb(250,252,252)" stroke-width="9.1" fill="none"/>
<path d="M2052.8,117.2 C2097.8,84.1 2140.1,47.9 2178.4,7.2" stroke="#9aa6a6" stroke-width="10.8" fill="none" stroke-opacity="0.55"/>
<path d="M2052.8,117.2 C2097.8,84.1 2140.1,47.9 2178.4,7.2" stroke="rgb(244,246,246)" stroke-width="8.6" fill="none"/>
<path d="M1620.4,364.9 C1720.7,359.3 1798.7,298.1 1885.4,258.5" stroke="#9aa6a6" stroke-width="11.4" fill="none" stroke-opacity="0.55"/>
<path d="M1620.4,364.9 C1720.7,359.3 1798.7,298.1 1885.4,258.5" stroke="rgb(240,242,242)" stroke-width="9.2" fill="none"/>
<path d="M1636.7,322.1 C1689.0,280.6 1707.6,219.2 1732.0,161.2" stroke="#9aa6a6" stroke-width="7.9" fill="none" stroke-opacity="0.55"/>
<path d="M1636.7,322.1 C1689.0,280.6 1707.6,219.2 1732.0,161.2" stroke="rgb(246,248,248)" stroke-width="5.7" fill="none"/>
<path d="M1753.2,115.3 C1815.4,114.9 1868.6,87.0 1922.1,60.0" stroke="#9aa6a6" stroke-width="11.3" fill="none" stroke-opacity="0.55"/>
<path d="M1753.2,115.3 C1815.4,114.9 1868.6,87.0 1922.1,60.0" stroke="rgb(245,247,247)" stroke-width="9.1" fill="none"/>
<path d="M1742.0,203.0 C1773.0,112.2 1891.8,140.5 1932.3,62.6" stroke="#9aa6a6" stroke-width="8.2" fill="none" stroke-opacity="0.55"/>
<path d="M1742.0,203.0 C1773.0,112.2 1891.8,140.5 1932.3,62.6" stroke="rgb(251,253,253)" stroke-width="6.0" fill="none"/>
<path d="M2043.0,566.1 C2089.6,484.1 2110.4,392.9 2135.6,303.3" stroke="#9aa6a6" stroke-width="11.5" fill="none" stroke-opacity="0.55"/>
<path d="M2043.0,566.1 C2089.6,484.1 2110.4,392.9 2135.6,303.3" stroke="rgb(241,243,243)" stroke-width="9.3" fill="none"/>
<path d="M2093.7,176.4 C2152.2,157.9 2207.9,130.9 2268.1,117.4" stroke="#9aa6a6" stroke-width="9.2" fill="none" stroke-opacity="0.55"/>
<path d="M2093.7,176.4 C2152.2,157.9 2207.9,130.9 2268.1,117.4" stroke="rgb(244,246,246)" stroke-width="7.0" fill="none"/>
<path d="M1844,530 C1872,400 1900.4,220 1949.0,20" stroke="#9aa6a6" stroke-width="7" fill="none" stroke-opacity="0.5"/>
<path d="M1844,530 C1872,400 1900.4,220 1949.0,20" stroke="#f6f8f8" stroke-width="5" fill="none"/>
<path d="M1852,530 C1880,400 1912.0,220 1962.0,20" stroke="#9aa6a6" stroke-width="8.5" fill="none" stroke-opacity="0.5"/>
<path d="M1852,530 C1880,400 1912.0,220 1962.0,20" stroke="#f6f8f8" stroke-width="6.5" fill="none"/>
<path d="M1859,530 C1887,400 1921.9,220 1973.0,20" stroke="#9aa6a6" stroke-width="7" fill="none" stroke-opacity="0.5"/>
<path d="M1859,530 C1887,400 1921.9,220 1973.0,20" stroke="#f6f8f8" stroke-width="5" fill="none"/>
<path d="M1866,530 C1894,400 1933.8,220 1987.0,20" stroke="#9aa6a6" stroke-width="6" fill="none" stroke-opacity="0.5"/>
<path d="M1866,530 C1894,400 1933.8,220 1987.0,20" stroke="#f6f8f8" stroke-width="4" fill="none"/>
<ellipse cx="1706" cy="381" rx="17" ry="11" transform="rotate(-25 1706 381)" fill="#12e012"/>
<ellipse cx="1894" cy="466" rx="9" ry="19" transform="rotate(-12 1894 466)" fill="#12e012"/>
</g></defs>
<g clip-path="url(#ic)"><use href="#insetArt" xlink:href="#insetArt"/><use href="#insetArt" xlink:href="#insetArt" filter="url(#ib)"/></g>
<clipPath id="pa"><rect x="288.5" y="11.5" width="1859.0" height="1368.5"/></clipPath>
<g clip-path="url(#pa)">
<polyline points="300,75.6 312,76.1 324,76.6 336,77.2 348,77.7 360,78.2 372,78.8 384,79.4 396,80.0 408,80.7 420,81.5 432,82.3 444,83.2 456,84.2 468,85.3 480,86.4 492,87.7 504,89.1 516,90.7 528,92.4 540,94.2 552,96.2 564,98.3 576,100.6 588,103.1 600,105.8 612,108.6 624,111.7 636,114.9 648,118.3 660,121.9 672,125.6 684,129.5 696,133.7 708,137.9 720,142.4 732,147.0 744,151.9 756,156.8 768,162.0 780,167.3 792,172.8 804,178.5 816,184.3 828,190.3 840,196.5 852,202.9 864,209.6 876,216.4 888,223.5 900,230.8 912,238.5 924,246.4 936,254.7 948,263.2 960,271.9 972,280.8 984,289.6 996,298.5 1008,307.2 1020,315.7 1032,323.9 1044,331.9 1056,340.2 1068,348.8 1080,357.7 1092,367.0 1104,376.6 1116,386.4 1128,396.5 1140,406.6 1152,416.9 1164,427.1 1176,437.3 1188,447.5 1200,457.7 1212,467.8 1224,477.9 1236,487.8 1248,497.7 1260,507.6 1272,517.3 1284,527.1 1296,536.9 1308,546.7 1320,556.6 1332,566.6 1344,576.5 1356,586.4 1368,596.3 1380,606.1 1392,615.8 1404,625.5 1416,635.1 1428,644.6 1440,654.0 1452,663.4 1464,672.7 1476,681.9 1488,691.0 1500,700.1 1512,709.1 1524,718.0 1536,726.8 1548,735.5 1560,744.1 1572,752.7 1584,761.2 1596,769.6 1608,777.9 1620,786.1 1632,794.2 1644,802.2 1656,810.2 1668,818.0 1680,825.8 1692,833.5 1704,841.1 1716,848.6 1728,856.0 1740,863.3 1752,870.5 1764,877.7 1776,884.7 1788,891.6 1800,898.5 1812,905.2 1824,911.9 1836,918.4 1848,924.9 1860,931.2 1872,937.5 1884,943.7 1896,949.7 1908,955.7 1920,961.6 1932,967.3 1944,973.0 1956,978.6 1968,984.1 1980,989.5 1992,994.8 2004,1000.0 2016,1005.1 2028,1010.2 2040,1015.1 2052,1020.0 2064,1024.7 2076,1029.4 2088,1034.0 2100,1038.4 2112,1042.8 2124,1047.2 2136,1051.4 2148,1055.5 2149,1055.8" fill="none" stroke="#ff0000" stroke-width="3.8" stroke-linejoin="round"/>
<clipPath id="sc1"><rect x="282.3" y="45.1" width="62.4" height="62.4"/></clipPath><path clip-path="url(#sc1)" d="M313.5,45.099999999999994 V107.5 M282.3,76.3 H344.7 M278.3,41.099999999999994 L348.7,111.5 M278.3,111.5 L348.7,41.099999999999994" stroke="#ff0000" stroke-width="5" fill="none"/>
<clipPath id="sc2"><rect x="1039.4" y="267.3" width="62.4" height="62.4"/></clipPath><path clip-path="url(#sc2)" d="M1070.6,267.3 V329.7 M1039.3999999999999,298.5 H1101.8 M1035.3999999999999,263.3 L1105.8,333.7 M1035.3999999999999,333.7 L1105.8,263.3" stroke="#ff0000" stroke-width="5" fill="none"/>
<clipPath id="sc3"><rect x="1881.2" y="1048.5" width="62.4" height="62.4"/></clipPath><path clip-path="url(#sc3)" d="M1912.4,1048.5 V1110.9 M1881.2,1079.7 H1943.6000000000001 M1877.2,1044.5 L1947.6000000000001,1114.9 M1877.2,1114.9 L1947.6000000000001,1044.5" stroke="#ff0000" stroke-width="5" fill="none"/>
</g>
<path d="M1439,566 H1803 V580 H1690 V579 H1439 Z" fill="#ff0000"/>
<path d="M1802,548 L1853.5,573 L1802,599 Z" fill="#ff0000"/>
<rect x="288.5" y="11.5" width="1859.0" height="1368.5" fill="none" stroke="#000" stroke-width="6.8"/>
<rect x="2095" y="1375" width="52" height="5" fill="#000"/>
<path d="M313.5,1380.0 V1350.0 M313.5,11.5 V41.5 M481.8,1380.0 V1350.0 M481.8,11.5 V41.5 M650.1,1380.0 V1350.0 M650.1,11.5 V41.5 M818.4,1380.0 V1350.0 M818.4,11.5 V41.5 M986.7,1380.0 V1350.0 M986.7,11.5 V41.5 M1155.0,1380.0 V1350.0 M1155.0,11.5 V41.5 M1323.3,1380.0 V1350.0 M1323.3,11.5 V41.5 M1491.6,1380.0 V1350.0 M1491.6,11.5 V41.5 M1659.9,1380.0 V1350.0 M1659.9,11.5 V41.5 M1828.2,1380.0 V1350.0 M1828.2,11.5 V41.5 M1996.5,1380.0 V1350.0 M1996.5,11.5 V41.5 M288.5,1380.0 H319.0 M288.5,1231.6 H305.5 M288.5,1083.2 H319.0 M288.5,934.7 H305.5 M288.5,786.3 H319.0 M288.5,637.9 H305.5 M288.5,489.5 H319.0 M288.5,341.0 H305.5 M288.5,192.6 H319.0 M288.5,44.2 H305.5 M2147.5,1380.0 H2117.0 M2147.5,1249.6 H2130.5 M2147.5,1119.3 H2117.0 M2147.5,988.9 H2130.5 M2147.5,858.6 H2117.0 M2147.5,728.2 H2130.5 M2147.5,597.8 H2117.0 M2147.5,467.5 H2130.5 M2147.5,337.1 H2117.0 M2147.5,206.8 H2130.5 M2147.5,76.4 H2117.0" stroke="#000" stroke-width="6.8" fill="none"/>
<text transform="translate(313.5,1481.0) scale(0.975,1)" font-size="94.5" text-anchor="middle" font-family="'Liberation Sans', Arial, sans-serif">5</text>
<text transform="translate(481.8,1481.0) scale(0.975,1)" font-size="94.5" text-anchor="middle" font-family="'Liberation Sans', Arial, sans-serif">15</text>
<text transform="translate(650.1,1481.0) scale(0.975,1)" font-size="94.5" text-anchor="middle" font-family="'Liberation Sans', Arial, sans-serif">25</text>
<text transform="translate(818.4,1481.0) scale(0.975,1)" font-size="94.5" text-anchor="middle" font-family="'Liberation Sans', Arial, sans-serif">35</text>
<text transform="translate(986.7,1481.0) scale(0.975,1)" font-size="94.5" text-anchor="middle" font-family="'Liberation Sans', Arial, sans-serif">45</text>
<text transform="translate(1155.0,1481.0) scale(0.975,1)" font-size="94.5" text-anchor="middle" font-family="'Liberation Sans', Arial, sans-serif">55</text>
<text transform="translate(1323.3,1481.0) scale(0.975,1)" font-size="94.5" text-anchor="middle" font-family="'Liberation Sans', Arial, sans-serif">65</text>
<text transform="translate(1491.6,1481.0) scale(0.975,1)" font-size="94.5" text-anchor="middle" font-family="'Liberation Sans', Arial, sans-serif">75</text>
<text transform="translate(1659.9,1481.0) scale(0.975,1)" font-size="94.5" text-anchor="middle" font-family="'Liberation Sans', Arial, sans-serif">85</text>
<text transform="translate(1828.2,1481.0) scale(0.975,1)" font-size="94.5" text-anchor="middle" font-family="'Liberation Sans', Arial, sans-serif">95</text>
<text transform="translate(1996.5,1481.0) scale(0.975,1)" font-size="94.5" text-anchor="middle" font-family="'Liberation Sans', Arial, sans-serif">105</text>
<text transform="translate(257.6,1406.0) scale(0.975,1)" font-size="94.5" text-anchor="end" font-family="'Liberation Sans', Arial, sans-serif">0</text>
<text transform="translate(257.6,1109.2) scale(0.975,1)" font-size="94.5" text-anchor="end" font-family="'Liberation Sans', Arial, sans-serif">10</text>
<text transform="translate(257.6,812.3) scale(0.975,1)" font-size="94.5" text-anchor="end" font-family="'Liberation Sans', Arial, sans-serif">20</text>
<text transform="translate(257.6,515.5) scale(0.975,1)" font-size="94.5" text-anchor="end" font-family="'Liberation Sans', Arial, sans-serif">30</text>
<text transform="translate(257.6,218.6) scale(0.975,1)" font-size="94.5" text-anchor="end" font-family="'Liberation Sans', Arial, sans-serif">40</text>
<text transform="translate(2170.5,1413.0) scale(0.975,1)" font-size="94.5" text-anchor="start" font-family="'Liberation Sans', Arial, sans-serif">0</text>
<text transform="translate(2170.5,1152.3) scale(0.975,1)" font-size="94.5" text-anchor="start" font-family="'Liberation Sans', Arial, sans-serif">20</text>
<text transform="translate(2170.5,891.6) scale(0.975,1)" font-size="94.5" text-anchor="start" font-family="'Liberation Sans', Arial, sans-serif">40</text>
<text transform="translate(2170.5,630.8) scale(0.975,1)" font-size="94.5" text-anchor="start" font-family="'Liberation Sans', Arial, sans-serif">60</text>
<text transform="translate(2170.5,370.1) scale(0.975,1)" font-size="94.5" text-anchor="start" font-family="'Liberation Sans', Arial, sans-serif">80</text>
<text transform="translate(2170.5,109.4) scale(0.975,1)" font-size="94.5" text-anchor="start" font-family="'Liberation Sans', Arial, sans-serif">100</text>
<text transform="translate(1220.0,1626.7) scale(0.974,1)" font-size="113" text-anchor="middle" font-family="'Liberation Sans', Arial, sans-serif">Average Pore Size (nm)</text>
<text transform="translate(88.0,736.0) rotate(-90) scale(0.974,1)" font-size="113" text-anchor="middle" font-family="'Liberation Sans', Arial, sans-serif">Counts (%)</text>
<text transform="translate(2428.0,711.0) rotate(-90) scale(0.974,1)" font-size="113" text-anchor="middle" font-family="'Liberation Sans', Arial, sans-serif">1-Rejection (%)</text>
</svg>
</body></html>
